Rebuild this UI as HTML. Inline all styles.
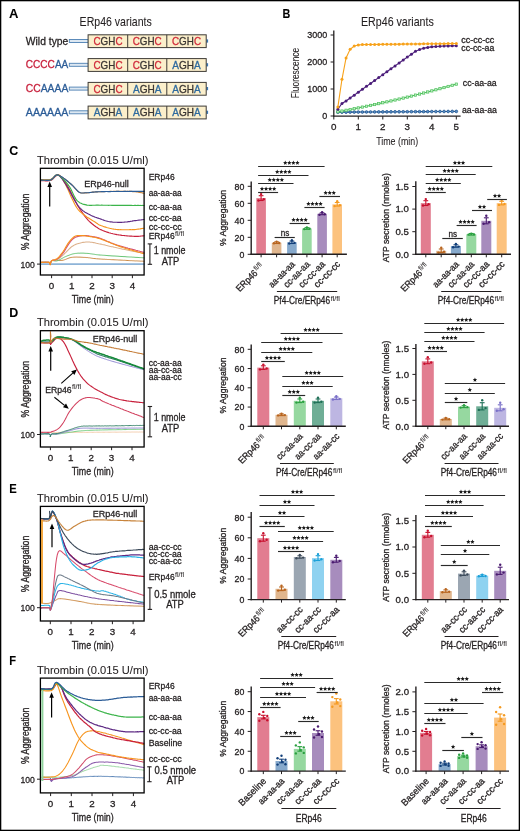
<!DOCTYPE html>
<html><head><meta charset="utf-8"><style>
html,body{margin:0;padding:0;background:#fff;}
svg{display:block;will-change:transform;}
text{font-family:"Liberation Sans",sans-serif;}
</style></head><body>
<svg width="520" height="831" viewBox="0 0 520 831">
<rect x="0.65" y="0.65" width="518.70" height="829.70" fill="#fff" stroke="#000" stroke-width="1.3" />
<text x="9.00" y="18.30" font-size="13" fill="#000" stroke="#000" stroke-width="0.08" text-anchor="start" font-weight="bold" textLength="9.4" lengthAdjust="spacingAndGlyphs" >A</text>
<text x="79.60" y="26.40" font-size="11.9" fill="#231f20" stroke="#231f20" stroke-width="0.08" text-anchor="start" font-weight="normal" textLength="72.2" lengthAdjust="spacingAndGlyphs" >ERp46 variants</text>
<rect x="69.3" y="39.50" width="19" height="3" fill="#dde8f2" stroke="#4d80b3" stroke-width="0.9"/>
<rect x="206.3" y="39.40" width="1.8" height="3.2" fill="#3a78b5"/>
<rect x="88.10" y="34.80" width="118.10" height="12.80" fill="#fbefcb" stroke="#3d3a36" stroke-width="1" />
<line x1="127.70" y1="34.80" x2="127.70" y2="47.60" stroke="#3d3a36" stroke-width="1"/>
<line x1="166.80" y1="34.80" x2="166.80" y2="47.60" stroke="#3d3a36" stroke-width="1"/>
<text x="108.00" y="44.90" font-size="11" text-anchor="middle" textLength="29" lengthAdjust="spacingAndGlyphs"><tspan fill="#d02a3a" stroke="#d02a3a" stroke-width="0.3">C</tspan><tspan fill="#3a3532" stroke="#3a3532" stroke-width="0.3">GH</tspan><tspan fill="#d02a3a" stroke="#d02a3a" stroke-width="0.3">C</tspan></text>
<text x="147.20" y="44.90" font-size="11" text-anchor="middle" textLength="29" lengthAdjust="spacingAndGlyphs"><tspan fill="#d02a3a" stroke="#d02a3a" stroke-width="0.3">C</tspan><tspan fill="#3a3532" stroke="#3a3532" stroke-width="0.3">GH</tspan><tspan fill="#d02a3a" stroke="#d02a3a" stroke-width="0.3">C</tspan></text>
<text x="186.50" y="44.90" font-size="11" text-anchor="middle" textLength="29" lengthAdjust="spacingAndGlyphs"><tspan fill="#d02a3a" stroke="#d02a3a" stroke-width="0.3">C</tspan><tspan fill="#3a3532" stroke="#3a3532" stroke-width="0.3">GH</tspan><tspan fill="#d02a3a" stroke="#d02a3a" stroke-width="0.3">C</tspan></text>
<text x="68.3" y="44.60" font-size="11.5" text-anchor="end" textLength="42.5" lengthAdjust="spacingAndGlyphs"><tspan fill="#231f20" stroke="#231f20" stroke-width="0.3">Wild type</tspan></text>
<rect x="69.3" y="63.30" width="19" height="3" fill="#dde8f2" stroke="#4d80b3" stroke-width="0.9"/>
<rect x="206.3" y="63.20" width="1.8" height="3.2" fill="#3a78b5"/>
<rect x="88.10" y="58.60" width="118.10" height="12.80" fill="#fbefcb" stroke="#3d3a36" stroke-width="1" />
<line x1="127.70" y1="58.60" x2="127.70" y2="71.40" stroke="#3d3a36" stroke-width="1"/>
<line x1="166.80" y1="58.60" x2="166.80" y2="71.40" stroke="#3d3a36" stroke-width="1"/>
<text x="108.00" y="68.70" font-size="11" text-anchor="middle" textLength="29" lengthAdjust="spacingAndGlyphs"><tspan fill="#d02a3a" stroke="#d02a3a" stroke-width="0.3">C</tspan><tspan fill="#3a3532" stroke="#3a3532" stroke-width="0.3">GH</tspan><tspan fill="#d02a3a" stroke="#d02a3a" stroke-width="0.3">C</tspan></text>
<text x="147.20" y="68.70" font-size="11" text-anchor="middle" textLength="29" lengthAdjust="spacingAndGlyphs"><tspan fill="#d02a3a" stroke="#d02a3a" stroke-width="0.3">C</tspan><tspan fill="#3a3532" stroke="#3a3532" stroke-width="0.3">GH</tspan><tspan fill="#d02a3a" stroke="#d02a3a" stroke-width="0.3">C</tspan></text>
<text x="186.50" y="68.70" font-size="11" text-anchor="middle" textLength="28.5" lengthAdjust="spacingAndGlyphs"><tspan fill="#2d6a9f" stroke="#2d6a9f" stroke-width="0.3">A</tspan><tspan fill="#3a3532" stroke="#3a3532" stroke-width="0.3">GH</tspan><tspan fill="#2d6a9f" stroke="#2d6a9f" stroke-width="0.3">A</tspan></text>
<text x="68.3" y="68.40" font-size="11.5" text-anchor="end" textLength="42.5" lengthAdjust="spacingAndGlyphs"><tspan fill="#c8203c" stroke="#c8203c" stroke-width="0.3">CCCC</tspan><tspan fill="#2b5c97" stroke="#2b5c97" stroke-width="0.3">AA</tspan></text>
<rect x="69.3" y="87.10" width="19" height="3" fill="#dde8f2" stroke="#4d80b3" stroke-width="0.9"/>
<rect x="206.3" y="87.00" width="1.8" height="3.2" fill="#3a78b5"/>
<rect x="88.10" y="82.40" width="118.10" height="12.80" fill="#fbefcb" stroke="#3d3a36" stroke-width="1" />
<line x1="127.70" y1="82.40" x2="127.70" y2="95.20" stroke="#3d3a36" stroke-width="1"/>
<line x1="166.80" y1="82.40" x2="166.80" y2="95.20" stroke="#3d3a36" stroke-width="1"/>
<text x="108.00" y="92.50" font-size="11" text-anchor="middle" textLength="29" lengthAdjust="spacingAndGlyphs"><tspan fill="#d02a3a" stroke="#d02a3a" stroke-width="0.3">C</tspan><tspan fill="#3a3532" stroke="#3a3532" stroke-width="0.3">GH</tspan><tspan fill="#d02a3a" stroke="#d02a3a" stroke-width="0.3">C</tspan></text>
<text x="147.20" y="92.50" font-size="11" text-anchor="middle" textLength="28.5" lengthAdjust="spacingAndGlyphs"><tspan fill="#2d6a9f" stroke="#2d6a9f" stroke-width="0.3">A</tspan><tspan fill="#3a3532" stroke="#3a3532" stroke-width="0.3">GH</tspan><tspan fill="#2d6a9f" stroke="#2d6a9f" stroke-width="0.3">A</tspan></text>
<text x="186.50" y="92.50" font-size="11" text-anchor="middle" textLength="28.5" lengthAdjust="spacingAndGlyphs"><tspan fill="#2d6a9f" stroke="#2d6a9f" stroke-width="0.3">A</tspan><tspan fill="#3a3532" stroke="#3a3532" stroke-width="0.3">GH</tspan><tspan fill="#2d6a9f" stroke="#2d6a9f" stroke-width="0.3">A</tspan></text>
<text x="68.3" y="92.20" font-size="11.5" text-anchor="end" textLength="42.5" lengthAdjust="spacingAndGlyphs"><tspan fill="#c8203c" stroke="#c8203c" stroke-width="0.3">CC</tspan><tspan fill="#2b5c97" stroke="#2b5c97" stroke-width="0.3">AAAA</tspan></text>
<rect x="69.3" y="110.80" width="19" height="3" fill="#dde8f2" stroke="#4d80b3" stroke-width="0.9"/>
<rect x="206.3" y="110.70" width="1.8" height="3.2" fill="#3a78b5"/>
<rect x="88.10" y="106.10" width="118.10" height="12.80" fill="#fbefcb" stroke="#3d3a36" stroke-width="1" />
<line x1="127.70" y1="106.10" x2="127.70" y2="118.90" stroke="#3d3a36" stroke-width="1"/>
<line x1="166.80" y1="106.10" x2="166.80" y2="118.90" stroke="#3d3a36" stroke-width="1"/>
<text x="108.00" y="116.20" font-size="11" text-anchor="middle" textLength="28.5" lengthAdjust="spacingAndGlyphs"><tspan fill="#2d6a9f" stroke="#2d6a9f" stroke-width="0.3">A</tspan><tspan fill="#3a3532" stroke="#3a3532" stroke-width="0.3">GH</tspan><tspan fill="#2d6a9f" stroke="#2d6a9f" stroke-width="0.3">A</tspan></text>
<text x="147.20" y="116.20" font-size="11" text-anchor="middle" textLength="28.5" lengthAdjust="spacingAndGlyphs"><tspan fill="#2d6a9f" stroke="#2d6a9f" stroke-width="0.3">A</tspan><tspan fill="#3a3532" stroke="#3a3532" stroke-width="0.3">GH</tspan><tspan fill="#2d6a9f" stroke="#2d6a9f" stroke-width="0.3">A</tspan></text>
<text x="186.50" y="116.20" font-size="11" text-anchor="middle" textLength="28.5" lengthAdjust="spacingAndGlyphs"><tspan fill="#2d6a9f" stroke="#2d6a9f" stroke-width="0.3">A</tspan><tspan fill="#3a3532" stroke="#3a3532" stroke-width="0.3">GH</tspan><tspan fill="#2d6a9f" stroke="#2d6a9f" stroke-width="0.3">A</tspan></text>
<text x="68.3" y="115.90" font-size="11.5" text-anchor="end" textLength="42.5" lengthAdjust="spacingAndGlyphs"><tspan fill="#2b5c97" stroke="#2b5c97" stroke-width="0.3">AAAAAA</tspan></text>
<text x="282.60" y="18.30" font-size="13" fill="#000" stroke="#000" stroke-width="0.08" text-anchor="start" font-weight="bold" textLength="7.8" lengthAdjust="spacingAndGlyphs" >B</text>
<text x="361.00" y="26.40" font-size="11.9" fill="#231f20" stroke="#231f20" stroke-width="0.08" text-anchor="start" font-weight="normal" textLength="72.8" lengthAdjust="spacingAndGlyphs" >ERp46 variants</text>
<line x1="333.80" y1="30.50" x2="333.80" y2="116.60" stroke="#231f20" stroke-width="1.3"/>
<line x1="333.20" y1="116.20" x2="460.60" y2="116.20" stroke="#231f20" stroke-width="1.3"/>
<line x1="330.60" y1="116.00" x2="333.80" y2="116.00" stroke="#231f20" stroke-width="1"/>
<text x="327.30" y="119.30" font-size="9.5" fill="#231f20" stroke="#231f20" stroke-width="0.3" text-anchor="end" font-weight="normal" textLength="5.0" lengthAdjust="spacingAndGlyphs" >0</text>
<line x1="330.60" y1="89.00" x2="333.80" y2="89.00" stroke="#231f20" stroke-width="1"/>
<text x="327.30" y="92.30" font-size="9.5" fill="#231f20" stroke="#231f20" stroke-width="0.3" text-anchor="end" font-weight="normal" textLength="20.0" lengthAdjust="spacingAndGlyphs" >1000</text>
<line x1="330.60" y1="62.00" x2="333.80" y2="62.00" stroke="#231f20" stroke-width="1"/>
<text x="327.30" y="65.30" font-size="9.5" fill="#231f20" stroke="#231f20" stroke-width="0.3" text-anchor="end" font-weight="normal" textLength="20.0" lengthAdjust="spacingAndGlyphs" >2000</text>
<line x1="330.60" y1="35.00" x2="333.80" y2="35.00" stroke="#231f20" stroke-width="1"/>
<text x="327.30" y="38.30" font-size="9.5" fill="#231f20" stroke="#231f20" stroke-width="0.3" text-anchor="end" font-weight="normal" textLength="20.0" lengthAdjust="spacingAndGlyphs" >3000</text>
<line x1="333.80" y1="116.20" x2="333.80" y2="119.50" stroke="#231f20" stroke-width="1"/>
<text x="333.80" y="130.20" font-size="9.8" fill="#231f20" stroke="#231f20" stroke-width="0.3" text-anchor="middle" font-weight="normal" >0</text>
<line x1="358.30" y1="116.20" x2="358.30" y2="119.50" stroke="#231f20" stroke-width="1"/>
<text x="358.30" y="130.20" font-size="9.8" fill="#231f20" stroke="#231f20" stroke-width="0.3" text-anchor="middle" font-weight="normal" >1</text>
<line x1="382.80" y1="116.20" x2="382.80" y2="119.50" stroke="#231f20" stroke-width="1"/>
<text x="382.80" y="130.20" font-size="9.8" fill="#231f20" stroke="#231f20" stroke-width="0.3" text-anchor="middle" font-weight="normal" >2</text>
<line x1="407.30" y1="116.20" x2="407.30" y2="119.50" stroke="#231f20" stroke-width="1"/>
<text x="407.30" y="130.20" font-size="9.8" fill="#231f20" stroke="#231f20" stroke-width="0.3" text-anchor="middle" font-weight="normal" >3</text>
<line x1="431.80" y1="116.20" x2="431.80" y2="119.50" stroke="#231f20" stroke-width="1"/>
<text x="431.80" y="130.20" font-size="9.8" fill="#231f20" stroke="#231f20" stroke-width="0.3" text-anchor="middle" font-weight="normal" >4</text>
<line x1="456.30" y1="116.20" x2="456.30" y2="119.50" stroke="#231f20" stroke-width="1"/>
<text x="456.30" y="130.20" font-size="9.8" fill="#231f20" stroke="#231f20" stroke-width="0.3" text-anchor="middle" font-weight="normal" >5</text>
<text x="397.20" y="144.50" font-size="11.6" fill="#231f20" stroke="#231f20" stroke-width="0.08" text-anchor="middle" font-weight="normal" textLength="42" lengthAdjust="spacingAndGlyphs" >Time (min)</text>
<text x="0" y="0" font-size="11.5" fill="#231f20" stroke="#231f20" stroke-width="0.08" text-anchor="middle" transform="translate(299.1,73) rotate(-90)" textLength="50.3" lengthAdjust="spacingAndGlyphs">Fluorescence</text>
<polyline points="337.88,112.19 341.97,112.17 346.05,112.14 350.13,112.11 354.22,112.08 358.30,112.06 362.38,112.03 366.47,112.00 370.55,111.98 374.63,111.95 378.72,111.92 382.80,111.90 386.88,111.87 390.97,111.84 395.05,111.81 399.13,111.79 403.22,111.76 407.30,111.73 411.38,111.71 415.47,111.68 419.55,111.65 423.63,111.63 427.72,111.60 431.80,111.57 435.88,111.55 439.97,111.52 444.05,111.49 448.13,111.46 452.22,111.44 456.30,111.41" fill="none" stroke="#1f5591" stroke-width="1.1"/>
<circle cx="337.88" cy="112.19" r="1.35" fill="#5d8fc4" stroke="#1f5591" stroke-width="0.8"/>
<circle cx="341.97" cy="112.17" r="1.35" fill="#5d8fc4" stroke="#1f5591" stroke-width="0.8"/>
<circle cx="346.05" cy="112.14" r="1.35" fill="#5d8fc4" stroke="#1f5591" stroke-width="0.8"/>
<circle cx="350.13" cy="112.11" r="1.35" fill="#5d8fc4" stroke="#1f5591" stroke-width="0.8"/>
<circle cx="354.22" cy="112.08" r="1.35" fill="#5d8fc4" stroke="#1f5591" stroke-width="0.8"/>
<circle cx="358.30" cy="112.06" r="1.35" fill="#5d8fc4" stroke="#1f5591" stroke-width="0.8"/>
<circle cx="362.38" cy="112.03" r="1.35" fill="#5d8fc4" stroke="#1f5591" stroke-width="0.8"/>
<circle cx="366.47" cy="112.00" r="1.35" fill="#5d8fc4" stroke="#1f5591" stroke-width="0.8"/>
<circle cx="370.55" cy="111.98" r="1.35" fill="#5d8fc4" stroke="#1f5591" stroke-width="0.8"/>
<circle cx="374.63" cy="111.95" r="1.35" fill="#5d8fc4" stroke="#1f5591" stroke-width="0.8"/>
<circle cx="378.72" cy="111.92" r="1.35" fill="#5d8fc4" stroke="#1f5591" stroke-width="0.8"/>
<circle cx="382.80" cy="111.90" r="1.35" fill="#5d8fc4" stroke="#1f5591" stroke-width="0.8"/>
<circle cx="386.88" cy="111.87" r="1.35" fill="#5d8fc4" stroke="#1f5591" stroke-width="0.8"/>
<circle cx="390.97" cy="111.84" r="1.35" fill="#5d8fc4" stroke="#1f5591" stroke-width="0.8"/>
<circle cx="395.05" cy="111.81" r="1.35" fill="#5d8fc4" stroke="#1f5591" stroke-width="0.8"/>
<circle cx="399.13" cy="111.79" r="1.35" fill="#5d8fc4" stroke="#1f5591" stroke-width="0.8"/>
<circle cx="403.22" cy="111.76" r="1.35" fill="#5d8fc4" stroke="#1f5591" stroke-width="0.8"/>
<circle cx="407.30" cy="111.73" r="1.35" fill="#5d8fc4" stroke="#1f5591" stroke-width="0.8"/>
<circle cx="411.38" cy="111.71" r="1.35" fill="#5d8fc4" stroke="#1f5591" stroke-width="0.8"/>
<circle cx="415.47" cy="111.68" r="1.35" fill="#5d8fc4" stroke="#1f5591" stroke-width="0.8"/>
<circle cx="419.55" cy="111.65" r="1.35" fill="#5d8fc4" stroke="#1f5591" stroke-width="0.8"/>
<circle cx="423.63" cy="111.63" r="1.35" fill="#5d8fc4" stroke="#1f5591" stroke-width="0.8"/>
<circle cx="427.72" cy="111.60" r="1.35" fill="#5d8fc4" stroke="#1f5591" stroke-width="0.8"/>
<circle cx="431.80" cy="111.57" r="1.35" fill="#5d8fc4" stroke="#1f5591" stroke-width="0.8"/>
<circle cx="435.88" cy="111.55" r="1.35" fill="#5d8fc4" stroke="#1f5591" stroke-width="0.8"/>
<circle cx="439.97" cy="111.52" r="1.35" fill="#5d8fc4" stroke="#1f5591" stroke-width="0.8"/>
<circle cx="444.05" cy="111.49" r="1.35" fill="#5d8fc4" stroke="#1f5591" stroke-width="0.8"/>
<circle cx="448.13" cy="111.46" r="1.35" fill="#5d8fc4" stroke="#1f5591" stroke-width="0.8"/>
<circle cx="452.22" cy="111.44" r="1.35" fill="#5d8fc4" stroke="#1f5591" stroke-width="0.8"/>
<circle cx="456.30" cy="111.41" r="1.35" fill="#5d8fc4" stroke="#1f5591" stroke-width="0.8"/>
<polyline points="337.88,111.76 341.97,111.02 346.05,110.26 350.13,109.49 354.22,108.70 358.30,107.90 362.38,107.08 366.47,106.25 370.55,105.40 374.63,104.54 378.72,103.66 382.80,102.77 386.88,101.86 390.97,100.94 395.05,100.00 399.13,99.05 403.22,98.08 407.30,97.10 411.38,96.10 415.47,95.09 419.55,94.06 423.63,93.02 427.72,91.96 431.80,90.89 435.88,89.80 439.97,88.70 444.05,87.58 448.13,86.45 452.22,85.30 456.30,84.14" fill="none" stroke="#4cc15a" stroke-width="1.1"/>
<rect x="336.73" y="110.61" width="2.3" height="2.3" fill="#c4ecca" stroke="#4cc15a" stroke-width="0.7"/>
<rect x="340.82" y="109.87" width="2.3" height="2.3" fill="#c4ecca" stroke="#4cc15a" stroke-width="0.7"/>
<rect x="344.90" y="109.11" width="2.3" height="2.3" fill="#c4ecca" stroke="#4cc15a" stroke-width="0.7"/>
<rect x="348.98" y="108.34" width="2.3" height="2.3" fill="#c4ecca" stroke="#4cc15a" stroke-width="0.7"/>
<rect x="353.07" y="107.55" width="2.3" height="2.3" fill="#c4ecca" stroke="#4cc15a" stroke-width="0.7"/>
<rect x="357.15" y="106.75" width="2.3" height="2.3" fill="#c4ecca" stroke="#4cc15a" stroke-width="0.7"/>
<rect x="361.23" y="105.93" width="2.3" height="2.3" fill="#c4ecca" stroke="#4cc15a" stroke-width="0.7"/>
<rect x="365.32" y="105.10" width="2.3" height="2.3" fill="#c4ecca" stroke="#4cc15a" stroke-width="0.7"/>
<rect x="369.40" y="104.25" width="2.3" height="2.3" fill="#c4ecca" stroke="#4cc15a" stroke-width="0.7"/>
<rect x="373.48" y="103.39" width="2.3" height="2.3" fill="#c4ecca" stroke="#4cc15a" stroke-width="0.7"/>
<rect x="377.57" y="102.51" width="2.3" height="2.3" fill="#c4ecca" stroke="#4cc15a" stroke-width="0.7"/>
<rect x="381.65" y="101.62" width="2.3" height="2.3" fill="#c4ecca" stroke="#4cc15a" stroke-width="0.7"/>
<rect x="385.73" y="100.71" width="2.3" height="2.3" fill="#c4ecca" stroke="#4cc15a" stroke-width="0.7"/>
<rect x="389.82" y="99.79" width="2.3" height="2.3" fill="#c4ecca" stroke="#4cc15a" stroke-width="0.7"/>
<rect x="393.90" y="98.85" width="2.3" height="2.3" fill="#c4ecca" stroke="#4cc15a" stroke-width="0.7"/>
<rect x="397.98" y="97.90" width="2.3" height="2.3" fill="#c4ecca" stroke="#4cc15a" stroke-width="0.7"/>
<rect x="402.07" y="96.93" width="2.3" height="2.3" fill="#c4ecca" stroke="#4cc15a" stroke-width="0.7"/>
<rect x="406.15" y="95.95" width="2.3" height="2.3" fill="#c4ecca" stroke="#4cc15a" stroke-width="0.7"/>
<rect x="410.23" y="94.95" width="2.3" height="2.3" fill="#c4ecca" stroke="#4cc15a" stroke-width="0.7"/>
<rect x="414.32" y="93.94" width="2.3" height="2.3" fill="#c4ecca" stroke="#4cc15a" stroke-width="0.7"/>
<rect x="418.40" y="92.91" width="2.3" height="2.3" fill="#c4ecca" stroke="#4cc15a" stroke-width="0.7"/>
<rect x="422.48" y="91.87" width="2.3" height="2.3" fill="#c4ecca" stroke="#4cc15a" stroke-width="0.7"/>
<rect x="426.57" y="90.81" width="2.3" height="2.3" fill="#c4ecca" stroke="#4cc15a" stroke-width="0.7"/>
<rect x="430.65" y="89.74" width="2.3" height="2.3" fill="#c4ecca" stroke="#4cc15a" stroke-width="0.7"/>
<rect x="434.73" y="88.65" width="2.3" height="2.3" fill="#c4ecca" stroke="#4cc15a" stroke-width="0.7"/>
<rect x="438.82" y="87.55" width="2.3" height="2.3" fill="#c4ecca" stroke="#4cc15a" stroke-width="0.7"/>
<rect x="442.90" y="86.43" width="2.3" height="2.3" fill="#c4ecca" stroke="#4cc15a" stroke-width="0.7"/>
<rect x="446.98" y="85.30" width="2.3" height="2.3" fill="#c4ecca" stroke="#4cc15a" stroke-width="0.7"/>
<rect x="451.07" y="84.15" width="2.3" height="2.3" fill="#c4ecca" stroke="#4cc15a" stroke-width="0.7"/>
<rect x="455.15" y="82.99" width="2.3" height="2.3" fill="#c4ecca" stroke="#4cc15a" stroke-width="0.7"/>
<polyline points="337.88,109.20 341.97,103.50 346.05,100.99 350.13,98.06 354.22,95.14 358.30,92.21 362.38,89.29 366.47,86.36 370.55,83.44 374.63,80.51 378.72,77.59 382.80,74.66 386.88,71.74 390.97,68.81 395.05,65.89 399.13,62.96 403.22,60.04 407.30,57.11 411.38,54.19 415.47,51.37 419.55,49.50 423.63,48.25 427.72,47.40 431.80,46.84 435.88,46.46 439.97,46.21 444.05,46.04 448.13,45.92 452.22,45.85 456.30,45.80" fill="none" stroke="#4b1d7a" stroke-width="1.1"/>
<circle cx="337.88" cy="109.20" r="1.5" fill="#4b1d7a"/>
<circle cx="341.97" cy="103.50" r="1.5" fill="#4b1d7a"/>
<circle cx="346.05" cy="100.99" r="1.5" fill="#4b1d7a"/>
<circle cx="350.13" cy="98.06" r="1.5" fill="#4b1d7a"/>
<circle cx="354.22" cy="95.14" r="1.5" fill="#4b1d7a"/>
<circle cx="358.30" cy="92.21" r="1.5" fill="#4b1d7a"/>
<circle cx="362.38" cy="89.29" r="1.5" fill="#4b1d7a"/>
<circle cx="366.47" cy="86.36" r="1.5" fill="#4b1d7a"/>
<circle cx="370.55" cy="83.44" r="1.5" fill="#4b1d7a"/>
<circle cx="374.63" cy="80.51" r="1.5" fill="#4b1d7a"/>
<circle cx="378.72" cy="77.59" r="1.5" fill="#4b1d7a"/>
<circle cx="382.80" cy="74.66" r="1.5" fill="#4b1d7a"/>
<circle cx="386.88" cy="71.74" r="1.5" fill="#4b1d7a"/>
<circle cx="390.97" cy="68.81" r="1.5" fill="#4b1d7a"/>
<circle cx="395.05" cy="65.89" r="1.5" fill="#4b1d7a"/>
<circle cx="399.13" cy="62.96" r="1.5" fill="#4b1d7a"/>
<circle cx="403.22" cy="60.04" r="1.5" fill="#4b1d7a"/>
<circle cx="407.30" cy="57.11" r="1.5" fill="#4b1d7a"/>
<circle cx="411.38" cy="54.19" r="1.5" fill="#4b1d7a"/>
<circle cx="415.47" cy="51.37" r="1.5" fill="#4b1d7a"/>
<circle cx="419.55" cy="49.50" r="1.5" fill="#4b1d7a"/>
<circle cx="423.63" cy="48.25" r="1.5" fill="#4b1d7a"/>
<circle cx="427.72" cy="47.40" r="1.5" fill="#4b1d7a"/>
<circle cx="431.80" cy="46.84" r="1.5" fill="#4b1d7a"/>
<circle cx="435.88" cy="46.46" r="1.5" fill="#4b1d7a"/>
<circle cx="439.97" cy="46.21" r="1.5" fill="#4b1d7a"/>
<circle cx="444.05" cy="46.04" r="1.5" fill="#4b1d7a"/>
<circle cx="448.13" cy="45.92" r="1.5" fill="#4b1d7a"/>
<circle cx="452.22" cy="45.85" r="1.5" fill="#4b1d7a"/>
<circle cx="456.30" cy="45.80" r="1.5" fill="#4b1d7a"/>
<polyline points="337.88,106.90 341.97,79.28 346.05,57.95 350.13,49.31 354.22,46.07 358.30,44.99 362.38,44.62 366.47,44.57 370.55,44.52 374.63,44.47 378.72,44.42 382.80,44.37 386.88,44.32 390.97,44.27 395.05,44.22 399.13,44.17 403.22,44.12 407.30,44.07 411.38,44.02 415.47,43.97 419.55,43.92 423.63,43.87 427.72,43.82 431.80,43.78 435.88,43.73 439.97,43.68 444.05,43.63 448.13,43.58 452.22,43.53 456.30,43.48" fill="none" stroke="#f7a21b" stroke-width="1.1"/>
<circle cx="337.88" cy="106.90" r="1.5" fill="#f7a21b"/>
<circle cx="341.97" cy="79.28" r="1.5" fill="#f7a21b"/>
<circle cx="346.05" cy="57.95" r="1.5" fill="#f7a21b"/>
<circle cx="350.13" cy="49.31" r="1.5" fill="#f7a21b"/>
<circle cx="354.22" cy="46.07" r="1.5" fill="#f7a21b"/>
<circle cx="358.30" cy="44.99" r="1.5" fill="#f7a21b"/>
<circle cx="362.38" cy="44.62" r="1.5" fill="#f7a21b"/>
<circle cx="366.47" cy="44.57" r="1.5" fill="#f7a21b"/>
<circle cx="370.55" cy="44.52" r="1.5" fill="#f7a21b"/>
<circle cx="374.63" cy="44.47" r="1.5" fill="#f7a21b"/>
<circle cx="378.72" cy="44.42" r="1.5" fill="#f7a21b"/>
<circle cx="382.80" cy="44.37" r="1.5" fill="#f7a21b"/>
<circle cx="386.88" cy="44.32" r="1.5" fill="#f7a21b"/>
<circle cx="390.97" cy="44.27" r="1.5" fill="#f7a21b"/>
<circle cx="395.05" cy="44.22" r="1.5" fill="#f7a21b"/>
<circle cx="399.13" cy="44.17" r="1.5" fill="#f7a21b"/>
<circle cx="403.22" cy="44.12" r="1.5" fill="#f7a21b"/>
<circle cx="407.30" cy="44.07" r="1.5" fill="#f7a21b"/>
<circle cx="411.38" cy="44.02" r="1.5" fill="#f7a21b"/>
<circle cx="415.47" cy="43.97" r="1.5" fill="#f7a21b"/>
<circle cx="419.55" cy="43.92" r="1.5" fill="#f7a21b"/>
<circle cx="423.63" cy="43.87" r="1.5" fill="#f7a21b"/>
<circle cx="427.72" cy="43.82" r="1.5" fill="#f7a21b"/>
<circle cx="431.80" cy="43.78" r="1.5" fill="#f7a21b"/>
<circle cx="435.88" cy="43.73" r="1.5" fill="#f7a21b"/>
<circle cx="439.97" cy="43.68" r="1.5" fill="#f7a21b"/>
<circle cx="444.05" cy="43.63" r="1.5" fill="#f7a21b"/>
<circle cx="448.13" cy="43.58" r="1.5" fill="#f7a21b"/>
<circle cx="452.22" cy="43.53" r="1.5" fill="#f7a21b"/>
<circle cx="456.30" cy="43.48" r="1.5" fill="#f7a21b"/>
<text x="461.30" y="43.20" font-size="9.2" fill="#231f20" stroke="#231f20" stroke-width="0.3" text-anchor="start" font-weight="normal" textLength="33" lengthAdjust="spacingAndGlyphs" >cc-cc-cc</text>
<text x="461.30" y="51.30" font-size="9.2" fill="#231f20" stroke="#231f20" stroke-width="0.3" text-anchor="start" font-weight="normal" textLength="33" lengthAdjust="spacingAndGlyphs" >cc-cc-aa</text>
<text x="462.80" y="85.50" font-size="9.5" fill="#231f20" stroke="#231f20" stroke-width="0.3" text-anchor="start" font-weight="normal" textLength="33.8" lengthAdjust="spacingAndGlyphs" >cc-aa-aa</text>
<text x="462.00" y="113.00" font-size="9.5" fill="#231f20" stroke="#231f20" stroke-width="0.3" text-anchor="start" font-weight="normal" textLength="34.8" lengthAdjust="spacingAndGlyphs" >aa-aa-aa</text>
<text x="9.30" y="154.90" font-size="13.2" fill="#000" stroke="#000" stroke-width="0.08" text-anchor="start" font-weight="bold" textLength="9.0" lengthAdjust="spacingAndGlyphs" >C</text>
<text x="36.90" y="163.90" font-size="11.3" fill="#231f20" stroke="#231f20" stroke-width="0.08" text-anchor="start" font-weight="normal" textLength="111.5" lengthAdjust="spacingAndGlyphs" >Thrombin (0.015 U/ml)</text>
<svg x="40.4" y="168.3" width="103.69999999999999" height="106.69999999999999" viewBox="40.4 168.3 103.69999999999999 106.69999999999999" overflow="hidden">
<path d="M40.00,264.10 L40.27,264.10 L40.25,264.10 L40.05,264.10 L39.81,264.10 L39.65,264.10 L39.69,264.10 L40.05,264.10 L40.85,264.10 L42.23,264.10 L44.29,264.10 L47.18,264.10 L51.00,264.10 L51.57,264.10 L52.16,264.10 L52.79,264.10 L53.44,264.10 L54.12,264.10 L54.82,264.10 L55.55,264.10 L56.30,264.10 L57.08,264.10 L57.88,264.10 L58.70,264.10 L59.55,264.10 L60.42,264.10 L61.31,264.10 L62.21,264.10 L63.14,264.10 L64.09,264.10 L65.05,264.10 L66.04,264.10 L67.04,264.10 L68.05,264.10 L69.09,264.10 L70.13,264.10 L71.20,264.10 L72.27,264.10 L73.36,264.10 L74.46,264.10 L75.58,264.10 L76.70,264.10 L77.84,264.10 L78.99,264.10 L80.14,264.10 L81.31,264.10 L82.48,264.10 L83.66,264.10 L84.85,264.10 L86.04,264.10 L87.24,264.10 L88.44,264.10 L89.65,264.10 L90.87,264.10 L92.08,264.10 L93.30,264.10 L94.52,264.10 L95.74,264.10 L96.97,264.10 L98.19,264.10 L99.41,264.10 L100.63,264.10 L101.85,264.10 L103.06,264.10 L104.28,264.10 L105.49,264.10 L106.69,264.10 L107.89,264.10 L109.08,264.10 L110.27,264.10 L111.45,264.10 L112.63,264.10 L113.79,264.10 L114.95,264.10 L116.09,264.10 L117.23,264.10 L118.36,264.10 L119.47,264.10 L120.57,264.10 L121.66,264.10 L122.74,264.10 L123.80,264.10 L124.85,264.10 L125.88,264.10 L126.90,264.10 L127.90,264.10 L128.88,264.10 L129.85,264.10 L130.80,264.10 L131.73,264.10 L132.63,264.10 L133.52,264.10 L134.39,264.10 L135.24,264.10 L136.06,264.10 L136.86,264.10 L137.64,264.10 L138.40,264.10 L139.13,264.10 L139.83,264.10 L140.51,264.10 L141.16,264.10 L141.79,264.10 L142.38,264.10 L142.95,264.10 L143.49,264.10 L144.00,264.10" fill="none" stroke="#8eb4d8" stroke-width="1.71" stroke-linejoin="round" stroke-linecap="round" opacity="1"/>
<path d="M40.00,262.38 L40.58,262.36 L41.38,262.38 L42.34,262.29 L43.41,262.30 L44.54,262.25 L45.67,262.20 L46.75,262.24 L47.74,262.21 L48.57,262.30 L49.20,262.36 L50.19,263.70 L50.20,264.59 L50.55,262.89 L51.50,260.76 L52.21,260.51 L53.10,260.42 L54.12,260.42 L55.20,260.40 L56.28,260.41 L57.30,260.45 L58.23,260.34 L59.11,260.45 L59.99,260.44 L60.91,260.43 L61.94,260.35 L63.10,260.18 L63.86,260.04 L64.65,259.71 L65.46,259.44 L66.31,259.10 L67.19,258.71 L68.12,258.37 L69.09,257.99 L70.10,257.68 L71.17,257.45 L72.30,257.32 L73.15,257.21 L74.04,257.14 L74.97,257.12 L75.93,257.09 L76.92,257.07 L77.93,257.13 L78.96,257.14 L80.00,257.14 L81.05,257.21 L82.10,257.26 L83.14,257.35 L84.18,257.40 L85.20,257.42 L86.20,257.55 L87.12,257.53 L87.91,257.63 L88.62,257.75 L89.27,257.78 L89.90,257.91 L90.54,257.97 L91.22,258.13 L91.98,258.26 L92.85,258.36 L93.86,258.51 L95.05,258.58 L96.44,258.75 L98.08,258.87 L100.00,259.01 L100.67,259.04 L101.38,259.12 L102.15,259.18 L102.96,259.18 L103.80,259.25 L104.69,259.24 L105.62,259.36 L106.58,259.40 L107.57,259.49 L108.59,259.53 L109.64,259.54 L110.72,259.60 L111.81,259.69 L112.93,259.69 L114.06,259.79 L115.21,259.82 L116.37,259.88 L117.54,259.93 L118.72,260.06 L119.90,260.06 L121.08,260.13 L122.27,260.20 L123.45,260.31 L124.63,260.29 L125.81,260.39 L126.97,260.45 L128.12,260.54 L129.25,260.59 L130.37,260.65 L131.47,260.65 L132.55,260.72 L133.61,260.77 L134.63,260.87 L135.63,260.92 L136.60,260.89 L137.53,260.94 L138.43,260.99 L139.29,261.04 L140.10,261.10 L140.88,261.15 L141.60,261.15 L142.28,261.16 L142.91,261.24 L143.48,261.26 L144.00,261.30" fill="none" stroke="#c8843c" stroke-width="0.95" stroke-linejoin="round" stroke-linecap="round" opacity="1"/>
<path d="M40.00,262.41 L40.58,262.43 L41.38,262.38 L42.34,262.33 L43.41,262.31 L44.54,262.28 L45.67,262.20 L46.75,262.28 L47.74,262.29 L48.57,262.35 L49.20,262.43 L50.19,263.73 L50.20,264.59 L50.55,262.80 L51.50,260.81 L52.18,260.59 L53.01,260.63 L53.98,260.79 L55.03,260.93 L56.15,260.98 L57.30,260.76 L58.09,260.47 L58.92,260.11 L59.79,259.66 L60.68,259.19 L61.60,258.63 L62.53,258.18 L63.48,257.63 L64.44,257.10 L65.40,256.68 L66.26,256.32 L67.13,255.96 L68.00,255.57 L68.89,255.29 L69.78,254.96 L70.69,254.59 L71.63,254.29 L72.59,253.99 L73.58,253.75 L74.60,253.58 L75.48,253.45 L76.37,253.40 L77.28,253.25 L78.21,253.17 L79.15,253.22 L80.11,253.15 L81.09,253.11 L82.08,253.15 L83.09,253.12 L84.11,253.20 L85.15,253.29 L86.20,253.33 L87.10,253.38 L87.98,253.42 L88.86,253.52 L89.74,253.61 L90.63,253.79 L91.53,253.90 L92.45,254.06 L93.40,254.16 L94.38,254.30 L95.40,254.50 L96.46,254.66 L97.58,254.78 L98.76,254.91 L100.00,255.03 L100.79,255.09 L101.62,255.11 L102.47,255.21 L103.34,255.26 L104.24,255.30 L105.15,255.37 L106.09,255.46 L107.05,255.52 L108.01,255.63 L109.00,255.72 L109.99,255.74 L110.99,255.85 L112.00,255.92 L113.01,255.98 L114.02,255.99 L115.04,256.04 L116.05,256.10 L117.07,256.16 L118.07,256.23 L119.07,256.33 L120.06,256.42 L121.04,256.47 L122.00,256.50 L122.98,256.58 L123.99,256.65 L125.03,256.65 L126.10,256.77 L127.19,256.86 L128.29,256.91 L129.40,256.98 L130.52,257.02 L131.63,257.05 L132.74,257.18 L133.83,257.20 L134.91,257.30 L135.96,257.38 L136.99,257.38 L137.98,257.44 L138.92,257.55 L139.83,257.58 L140.68,257.58 L141.48,257.62 L142.22,257.66 L142.88,257.77 L143.48,257.80 L144.00,257.80" fill="none" stroke="#5cc06a" stroke-width="0.95" stroke-linejoin="round" stroke-linecap="round" opacity="1"/>
<path d="M40.00,262.37 L40.58,262.42 L41.38,262.41 L42.34,262.35 L43.41,262.28 L44.54,262.27 L45.67,262.21 L46.75,262.19 L47.74,262.30 L48.57,262.33 L49.20,262.40 L50.19,263.78 L50.20,264.59 L50.55,262.95 L51.50,260.83 L52.21,260.45 L53.10,260.28 L54.12,260.17 L55.20,260.05 L56.28,259.88 L57.30,259.48 L58.23,258.98 L59.11,258.36 L59.99,257.75 L60.91,256.92 L61.94,256.03 L63.10,255.01 L63.89,254.32 L64.74,253.44 L65.64,252.57 L66.59,251.57 L67.56,250.58 L68.54,249.60 L69.51,248.61 L70.48,247.76 L71.41,246.94 L72.30,246.25 L73.24,245.70 L74.15,245.11 L75.04,244.68 L75.92,244.30 L76.78,243.95 L77.66,243.63 L78.55,243.38 L79.46,243.14 L80.40,242.93 L81.27,242.66 L82.15,242.54 L83.04,242.36 L83.94,242.24 L84.86,242.19 L85.78,242.10 L86.72,242.07 L87.67,242.07 L88.63,242.10 L89.60,242.09 L90.46,242.17 L91.29,242.25 L92.09,242.35 L92.89,242.50 L93.71,242.63 L94.56,242.81 L95.46,243.00 L96.44,243.26 L97.51,243.48 L98.69,243.76 L100.00,244.04 L100.74,244.13 L101.51,244.33 L102.32,244.54 L103.15,244.72 L104.01,244.85 L104.90,245.05 L105.81,245.28 L106.74,245.46 L107.69,245.70 L108.66,245.90 L109.64,246.19 L110.64,246.43 L111.66,246.67 L112.68,246.83 L113.71,247.12 L114.75,247.35 L115.80,247.54 L116.85,247.84 L117.90,248.09 L118.95,248.25 L120.00,248.54 L120.90,248.68 L121.86,248.90 L122.85,249.16 L123.87,249.36 L124.93,249.52 L126.01,249.77 L127.11,250.01 L128.22,250.22 L129.34,250.44 L130.46,250.69 L131.59,250.96 L132.70,251.12 L133.80,251.40 L134.88,251.61 L135.94,251.79 L136.96,252.03 L137.96,252.26 L138.91,252.45 L139.82,252.59 L140.67,252.86 L141.47,253.00 L142.21,253.17 L142.88,253.23 L143.48,253.37 L144.00,253.50" fill="none" stroke="#dcb08a" stroke-width="1.045" stroke-linejoin="round" stroke-linecap="round" opacity="1"/>
<path d="M40.00,262.36 L40.58,262.42 L41.38,262.34 L42.34,262.30 L43.41,262.29 L44.54,262.30 L45.67,262.27 L46.75,262.22 L47.74,262.23 L48.57,262.35 L49.20,262.41 L50.19,263.76 L50.20,264.56 L50.55,262.91 L51.50,260.82 L52.21,260.43 L53.10,260.17 L54.12,260.08 L55.20,259.85 L56.28,259.55 L57.30,258.96 L58.27,258.31 L59.24,257.38 L60.21,256.48 L61.17,255.37 L62.14,254.21 L63.10,253.01 L64.05,251.68 L65.00,250.10 L65.95,248.48 L66.90,246.91 L67.85,245.35 L68.80,243.96 L69.72,242.71 L70.60,241.50 L71.48,240.39 L72.41,239.37 L73.44,238.46 L74.60,237.72 L75.39,237.29 L76.24,236.96 L77.14,236.64 L78.09,236.40 L79.06,236.15 L80.04,236.00 L81.01,235.83 L81.98,235.78 L82.91,235.67 L83.80,235.57 L84.75,235.56 L85.67,235.62 L86.58,235.61 L87.48,235.78 L88.36,235.87 L89.24,236.02 L90.12,236.21 L91.01,236.33 L91.90,236.50 L92.75,236.65 L93.53,236.79 L94.27,236.84 L95.01,237.00 L95.79,237.13 L96.64,237.32 L97.60,237.54 L98.71,237.87 L100.00,238.26 L100.71,238.51 L101.44,238.78 L102.20,239.15 L102.99,239.42 L103.80,239.75 L104.64,240.10 L105.50,240.55 L106.40,240.94 L107.32,241.32 L108.27,241.68 L109.25,242.09 L110.26,242.51 L111.31,242.95 L112.38,243.34 L113.48,243.78 L114.62,244.18 L115.79,244.65 L117.00,245.05 L117.81,245.26 L118.68,245.50 L119.60,245.85 L120.57,246.07 L121.57,246.36 L122.61,246.63 L123.68,246.96 L124.77,247.28 L125.88,247.59 L127.01,247.87 L128.15,248.20 L129.29,248.46 L130.43,248.79 L131.56,249.08 L132.69,249.41 L133.79,249.67 L134.88,249.95 L135.94,250.26 L136.97,250.52 L137.96,250.81 L138.91,251.06 L139.82,251.32 L140.67,251.53 L141.47,251.75 L142.21,251.96 L142.88,252.09 L143.48,252.24 L144.00,252.40" fill="none" stroke="#d2507a" stroke-width="1.14" stroke-linejoin="round" stroke-linecap="round" opacity="1"/>
<path d="M40.00,262.45 L40.58,262.36 L41.38,262.38 L42.34,262.34 L43.41,262.24 L44.54,262.28 L45.67,262.26 L46.75,262.24 L47.74,262.27 L48.57,262.33 L49.20,262.37 L50.19,263.85 L50.20,264.80 L50.55,263.13 L51.50,260.83 L52.21,260.40 L53.10,260.09 L54.12,259.88 L55.20,259.57 L56.28,259.15 L57.30,258.47 L58.27,257.59 L59.24,256.56 L60.21,255.42 L61.17,254.13 L62.14,252.88 L63.10,251.51 L64.05,250.07 L65.00,248.48 L65.95,246.84 L66.90,245.20 L67.85,243.61 L68.80,242.33 L69.76,241.10 L70.73,239.93 L71.69,238.88 L72.66,237.96 L73.63,237.10 L74.60,236.52 L75.57,236.03 L76.53,235.75 L77.50,235.64 L78.47,235.64 L79.43,235.59 L80.40,235.62 L81.27,235.61 L82.04,235.55 L82.80,235.56 L83.67,235.64 L84.77,235.80 L86.20,236.03 L86.92,236.13 L87.70,236.24 L88.52,236.31 L89.38,236.45 L90.28,236.60 L91.23,236.80 L92.21,236.92 L93.23,237.14 L94.29,237.29 L95.37,237.53 L96.49,237.81 L97.63,238.14 L98.80,238.46 L100.00,238.82 L100.81,239.04 L101.65,239.35 L102.50,239.64 L103.36,239.96 L104.25,240.27 L105.15,240.70 L106.06,240.99 L106.99,241.44 L107.93,241.83 L108.88,242.13 L109.85,242.57 L110.82,243.01 L111.81,243.43 L112.81,243.78 L113.81,244.17 L114.83,244.57 L115.85,245.04 L116.88,245.36 L117.91,245.77 L118.95,246.10 L120.00,246.50 L120.90,246.85 L121.86,247.08 L122.85,247.46 L123.87,247.76 L124.93,248.12 L126.01,248.44 L127.11,248.73 L128.22,249.13 L129.34,249.43 L130.46,249.72 L131.59,250.05 L132.70,250.42 L133.80,250.74 L134.88,251.04 L135.94,251.33 L136.96,251.64 L137.96,251.93 L138.91,252.25 L139.82,252.43 L140.67,252.75 L141.47,252.99 L142.21,253.14 L142.88,253.41 L143.48,253.57 L144.00,253.70" fill="none" stroke="#f7941d" stroke-width="1.14" stroke-linejoin="round" stroke-linecap="round" opacity="1"/>
<path d="M40.00,180.54 L40.57,180.50 L41.31,180.56 L42.20,180.62 L43.19,180.76 L44.26,180.79 L45.36,180.82 L46.48,180.86 L47.58,180.84 L48.62,180.76 L49.57,180.65 L50.40,180.53 L51.53,179.97 L52.56,179.28 L53.49,178.33 L54.36,177.41 L55.17,176.59 L55.94,175.88 L56.70,175.49 L57.65,175.34 L58.45,175.38 L59.20,175.70 L60.02,176.30 L61.00,177.24 L61.83,178.11 L62.73,179.12 L63.69,180.34 L64.69,181.62 L65.70,183.12 L66.71,184.62 L67.70,186.22 L68.70,187.93 L69.72,189.81 L70.76,191.81 L71.79,193.95 L72.79,195.89 L73.73,197.81 L74.60,199.48 L75.59,201.42 L76.38,203.08 L77.13,204.59 L78.02,206.10 L79.20,208.01 L79.93,209.09 L80.72,210.31 L81.58,211.57 L82.48,212.86 L83.42,214.21 L84.40,215.55 L85.40,216.94 L86.42,218.18 L87.46,219.36 L88.50,220.54 L89.37,221.42 L90.25,222.21 L91.14,222.99 L92.04,223.79 L92.96,224.54 L93.89,225.30 L94.85,225.99 L95.83,226.69 L96.83,227.35 L97.86,228.01 L98.91,228.65 L100.00,229.22 L100.84,229.61 L101.68,230.01 L102.55,230.41 L103.43,230.77 L104.32,231.12 L105.22,231.43 L106.14,231.78 L107.08,232.16 L108.02,232.38 L108.98,232.70 L109.95,232.99 L110.94,233.28 L111.93,233.47 L112.94,233.72 L113.97,233.95 L115.00,234.19 L115.90,234.38 L116.82,234.60 L117.78,234.75 L118.77,234.91 L119.77,234.98 L120.79,235.12 L121.83,235.32 L122.86,235.46 L123.90,235.54 L124.94,235.66 L125.96,235.70 L126.97,235.83 L127.97,235.97 L128.94,236.04 L129.89,236.11 L130.80,236.19 L131.68,236.18 L132.51,236.22 L133.30,236.27 L134.60,236.35 L135.85,236.38 L137.06,236.38 L138.20,236.31 L139.28,236.23 L140.29,236.17 L141.22,236.05 L142.06,235.98 L142.81,235.85 L143.46,235.86 L144.00,235.80" fill="none" stroke="#c8203c" stroke-width="1.14" stroke-linejoin="round" stroke-linecap="round" opacity="1"/>
<path d="M40.00,179.47 L40.57,179.56 L41.31,179.57 L42.20,179.60 L43.19,179.65 L44.26,179.73 L45.36,179.82 L46.48,179.85 L47.58,179.79 L48.62,179.73 L49.57,179.67 L50.40,179.51 L51.53,179.03 L52.56,178.33 L53.50,177.57 L54.37,176.68 L55.18,175.95 L55.95,175.35 L56.70,175.04 L57.64,174.83 L58.42,174.88 L59.15,175.14 L59.91,175.72 L60.80,176.68 L61.66,177.88 L62.58,179.28 L63.54,180.89 L64.53,182.67 L65.53,184.60 L66.50,186.52 L67.46,188.47 L68.43,190.58 L69.39,192.83 L70.36,195.08 L71.33,197.16 L72.30,199.16 L73.24,201.08 L74.15,202.93 L75.06,204.72 L76.00,206.37 L77.00,208.03 L78.10,209.52 L78.89,210.43 L79.72,211.27 L80.59,212.17 L81.48,212.89 L82.40,213.69 L83.33,214.36 L84.28,215.07 L85.24,215.82 L86.20,216.48 L87.09,217.18 L88.03,217.76 L89.00,218.35 L89.98,218.96 L90.97,219.57 L91.94,220.17 L92.88,220.75 L93.79,221.20 L94.63,221.72 L95.40,222.17 L96.42,222.93 L97.16,223.42 L97.79,223.93 L98.49,224.41 L99.43,224.94 L100.80,225.54 L101.48,225.78 L102.22,226.03 L103.01,226.33 L103.85,226.61 L104.73,226.84 L105.65,227.12 L106.60,227.49 L107.59,227.75 L108.60,227.96 L109.64,228.29 L110.69,228.51 L111.76,228.74 L112.83,228.95 L113.92,229.12 L115.00,229.25 L115.88,229.38 L116.79,229.47 L117.74,229.60 L118.72,229.59 L119.72,229.72 L120.74,229.68 L121.77,229.73 L122.81,229.79 L123.85,229.80 L124.89,229.77 L125.92,229.73 L126.94,229.76 L127.94,229.74 L128.92,229.77 L129.87,229.68 L130.79,229.67 L131.67,229.70 L132.51,229.58 L133.30,229.59 L134.60,229.56 L135.85,229.46 L137.06,229.26 L138.20,229.11 L139.28,228.96 L140.29,228.88 L141.22,228.65 L142.06,228.55 L142.81,228.43 L143.46,228.27 L144.00,228.20" fill="none" stroke="#f7941d" stroke-width="1.14" stroke-linejoin="round" stroke-linecap="round" opacity="1"/>
<path d="M40.00,179.98 L40.57,180.06 L41.31,180.08 L42.20,180.11 L43.19,180.23 L44.26,180.26 L45.36,180.32 L46.48,180.32 L47.58,180.39 L48.62,180.34 L49.57,180.20 L50.40,180.04 L51.53,179.44 L52.56,178.69 L53.49,177.81 L54.36,176.92 L55.17,176.07 L55.94,175.35 L56.70,174.98 L57.65,174.89 L58.45,175.09 L59.20,175.63 L60.02,176.36 L61.00,177.53 L61.83,178.54 L62.73,179.79 L63.69,181.19 L64.69,182.70 L65.70,184.29 L66.71,185.94 L67.70,187.59 L68.68,189.34 L69.66,191.10 L70.64,193.02 L71.63,194.99 L72.62,196.83 L73.61,198.60 L74.60,200.26 L75.56,201.83 L76.50,203.27 L77.43,204.71 L78.37,206.02 L79.35,207.27 L80.39,208.37 L81.50,209.46 L82.33,210.19 L83.21,210.91 L84.12,211.58 L85.05,212.17 L86.01,212.73 L86.97,213.30 L87.94,213.85 L88.91,214.36 L89.86,214.85 L90.80,215.33 L91.72,215.76 L92.64,216.12 L93.56,216.57 L94.47,216.87 L95.39,217.24 L96.30,217.54 L97.22,217.89 L98.14,218.15 L99.07,218.46 L100.00,218.78 L100.92,219.09 L101.82,219.49 L102.72,219.79 L103.61,220.10 L104.51,220.42 L105.43,220.78 L106.38,221.02 L107.37,221.25 L108.41,221.54 L109.50,221.71 L110.32,221.87 L111.17,221.89 L112.05,222.02 L112.96,222.14 L113.88,222.21 L114.83,222.28 L115.78,222.24 L116.74,222.30 L117.71,222.31 L118.68,222.33 L119.65,222.41 L120.61,222.36 L121.56,222.37 L122.50,222.29 L123.44,222.28 L124.40,222.17 L125.37,222.05 L126.35,221.99 L127.33,221.88 L128.31,221.66 L129.28,221.57 L130.24,221.42 L131.19,221.23 L132.11,221.10 L133.01,220.93 L133.88,220.80 L134.71,220.68 L135.50,220.61 L136.69,220.46 L137.85,220.27 L138.98,220.10 L140.05,219.99 L141.05,219.90 L141.96,219.73 L142.77,219.64 L143.45,219.54 L144.00,219.50" fill="none" stroke="#5e2a84" stroke-width="1.14" stroke-linejoin="round" stroke-linecap="round" opacity="1"/>
<path d="M40.00,180.03 L40.57,180.02 L41.31,180.03 L42.20,180.10 L43.19,180.20 L44.26,180.29 L45.36,180.35 L46.48,180.33 L47.58,180.33 L48.62,180.32 L49.57,180.18 L50.40,179.98 L51.51,179.45 L52.50,178.72 L53.38,177.72 L54.21,176.78 L55.01,175.90 L55.83,175.28 L56.70,175.03 L57.60,175.11 L58.51,175.34 L59.41,175.81 L60.32,176.51 L61.23,177.23 L62.16,178.06 L63.10,179.04 L64.06,179.94 L65.03,181.03 L66.02,182.14 L67.02,183.42 L68.01,184.71 L69.01,186.08 L70.00,187.55 L70.96,189.27 L71.90,191.18 L72.83,193.22 L73.77,195.17 L74.75,197.15 L75.79,198.86 L76.90,200.30 L77.71,201.07 L78.53,201.79 L79.37,202.41 L80.23,202.97 L81.12,203.34 L82.04,203.76 L83.00,204.12 L84.01,204.43 L85.08,204.62 L86.20,204.86 L86.98,205.10 L87.67,205.21 L88.31,205.25 L88.93,205.26 L89.56,205.37 L90.21,205.32 L90.93,205.36 L91.74,205.31 L92.66,205.30 L93.72,205.21 L94.96,205.24 L96.40,205.17 L98.07,205.18 L100.00,205.23 L100.67,205.24 L101.38,205.18 L102.15,205.19 L102.96,205.22 L103.80,205.24 L104.69,205.23 L105.62,205.21 L106.58,205.23 L107.57,205.29 L108.59,205.31 L109.64,205.24 L110.72,205.29 L111.81,205.32 L112.93,205.26 L114.06,205.34 L115.21,205.28 L116.37,205.34 L117.54,205.34 L118.72,205.35 L119.90,205.33 L121.08,205.35 L122.27,205.37 L123.45,205.37 L124.63,205.40 L125.81,205.38 L126.97,205.39 L128.12,205.36 L129.25,205.42 L130.37,205.41 L131.47,205.40 L132.55,205.45 L133.61,205.46 L134.63,205.44 L135.63,205.42 L136.60,205.45 L137.53,205.42 L138.43,205.43 L139.29,205.46 L140.10,205.44 L140.88,205.47 L141.60,205.49 L142.28,205.44 L142.91,205.51 L143.48,205.46 L144.00,205.50" fill="none" stroke="#3bb44a" stroke-width="1.14" stroke-linejoin="round" stroke-linecap="round" opacity="1"/>
<path d="M40.00,180.02 L40.57,180.05 L41.31,180.07 L42.20,180.09 L43.19,180.21 L44.26,180.27 L45.36,180.38 L46.48,180.33 L47.58,180.39 L48.62,180.35 L49.57,180.21 L50.40,180.03 L51.51,179.45 L52.50,178.75 L53.38,177.80 L54.21,176.90 L55.01,176.05 L55.83,175.32 L56.70,175.03 L57.58,174.99 L58.44,175.05 L59.29,175.39 L60.16,175.89 L61.06,176.40 L62.04,177.12 L63.10,177.78 L63.92,178.39 L64.80,178.97 L65.73,179.72 L66.69,180.53 L67.67,181.27 L68.65,182.09 L69.62,182.95 L70.56,183.75 L71.46,184.51 L72.30,185.27 L73.41,186.34 L74.44,187.54 L75.41,188.65 L76.36,189.75 L77.29,190.67 L78.23,191.58 L79.20,192.16 L80.02,192.59 L80.78,192.85 L81.52,192.95 L82.27,193.04 L83.07,192.98 L83.97,192.92 L85.00,192.89 L86.20,192.76 L86.94,192.82 L87.67,192.74 L88.42,192.65 L89.17,192.61 L89.96,192.48 L90.79,192.45 L91.66,192.31 L92.60,192.19 L93.60,192.13 L94.68,192.00 L95.85,191.88 L97.12,191.85 L98.50,191.71 L100.00,191.73 L100.73,191.65 L101.51,191.67 L102.33,191.68 L103.19,191.62 L104.09,191.60 L105.03,191.54 L105.99,191.49 L106.99,191.47 L108.00,191.46 L109.04,191.48 L110.10,191.44 L111.17,191.43 L112.25,191.45 L113.34,191.36 L114.44,191.35 L115.54,191.38 L116.63,191.30 L117.72,191.29 L118.81,191.31 L119.88,191.28 L120.94,191.30 L121.98,191.28 L122.99,191.32 L123.99,191.32 L124.96,191.29 L125.89,191.33 L126.79,191.33 L127.66,191.31 L128.48,191.40 L129.27,191.35 L130.00,191.37 L131.43,191.42 L132.78,191.56 L134.05,191.69 L135.25,191.80 L136.37,191.90 L137.42,192.03 L138.41,192.16 L139.33,192.37 L140.18,192.51 L140.96,192.64 L141.69,192.81 L142.35,192.92 L142.96,193.08 L143.51,193.15 L144.00,193.20" fill="none" stroke="#c8843c" stroke-width="1.14" stroke-linejoin="round" stroke-linecap="round" opacity="1"/>
<path d="M40.00,179.98 L40.57,180.06 L41.31,180.02 L42.20,180.14 L43.19,180.20 L44.26,180.26 L45.36,180.30 L46.48,180.39 L47.58,180.31 L48.62,180.31 L49.57,180.23 L50.40,179.97 L51.51,179.45 L52.50,178.72 L53.38,177.80 L54.21,176.87 L55.01,176.04 L55.83,175.32 L56.70,174.98 L57.58,174.93 L58.44,175.05 L59.29,175.44 L60.16,175.89 L61.06,176.45 L62.04,177.04 L63.10,177.83 L63.92,178.39 L64.80,179.01 L65.73,179.75 L66.69,180.49 L67.67,181.27 L68.65,182.08 L69.62,182.92 L70.56,183.72 L71.46,184.54 L72.30,185.32 L73.41,186.39 L74.44,187.53 L75.41,188.65 L76.36,189.69 L77.29,190.71 L78.23,191.54 L79.20,192.23 L80.02,192.59 L80.78,192.81 L81.52,192.97 L82.27,193.04 L83.07,192.95 L83.97,192.95 L85.00,192.80 L86.20,192.78 L86.94,192.75 L87.67,192.75 L88.42,192.70 L89.17,192.61 L89.96,192.48 L90.79,192.44 L91.66,192.29 L92.60,192.18 L93.60,192.14 L94.68,192.02 L95.85,191.93 L97.12,191.85 L98.50,191.80 L100.00,191.70 L100.73,191.71 L101.51,191.68 L102.33,191.67 L103.19,191.61 L104.09,191.62 L105.03,191.59 L105.99,191.55 L106.99,191.53 L108.00,191.56 L109.04,191.49 L110.10,191.56 L111.17,191.48 L112.25,191.46 L113.34,191.46 L114.44,191.53 L115.54,191.46 L116.63,191.44 L117.72,191.42 L118.81,191.41 L119.88,191.47 L120.94,191.46 L121.98,191.46 L122.99,191.46 L123.99,191.39 L124.96,191.44 L125.89,191.41 L126.79,191.45 L127.66,191.44 L128.48,191.45 L129.27,191.36 L130.00,191.44 L131.43,191.43 L132.78,191.43 L134.05,191.34 L135.25,191.35 L136.37,191.34 L137.42,191.33 L138.41,191.41 L139.33,191.41 L140.18,191.40 L140.96,191.42 L141.69,191.40 L142.35,191.37 L142.96,191.36 L143.51,191.36 L144.00,191.40" fill="none" stroke="#2b5c97" stroke-width="1.14" stroke-linejoin="round" stroke-linecap="round" opacity="1"/>
</svg>
<rect x="40.40" y="168.30" width="103.70" height="106.70" fill="none" stroke="#000" stroke-width="1.3" />
<line x1="51.60" y1="275.00" x2="51.60" y2="278.20" stroke="#231f20" stroke-width="1"/>
<text x="51.60" y="289.40" font-size="9.8" fill="#231f20" stroke="#231f20" stroke-width="0.3" text-anchor="middle" font-weight="normal" >0</text>
<line x1="71.80" y1="275.00" x2="71.80" y2="278.20" stroke="#231f20" stroke-width="1"/>
<text x="71.80" y="289.40" font-size="9.8" fill="#231f20" stroke="#231f20" stroke-width="0.3" text-anchor="middle" font-weight="normal" >1</text>
<line x1="92.00" y1="275.00" x2="92.00" y2="278.20" stroke="#231f20" stroke-width="1"/>
<text x="92.00" y="289.40" font-size="9.8" fill="#231f20" stroke="#231f20" stroke-width="0.3" text-anchor="middle" font-weight="normal" >2</text>
<line x1="112.20" y1="275.00" x2="112.20" y2="278.20" stroke="#231f20" stroke-width="1"/>
<text x="112.20" y="289.40" font-size="9.8" fill="#231f20" stroke="#231f20" stroke-width="0.3" text-anchor="middle" font-weight="normal" >3</text>
<line x1="132.40" y1="275.00" x2="132.40" y2="278.20" stroke="#231f20" stroke-width="1"/>
<text x="132.40" y="289.40" font-size="9.8" fill="#231f20" stroke="#231f20" stroke-width="0.3" text-anchor="middle" font-weight="normal" >4</text>
<text x="92.75" y="303.40" font-size="10.5" fill="#231f20" stroke="#231f20" stroke-width="0.3" text-anchor="middle" font-weight="normal" textLength="42" lengthAdjust="spacingAndGlyphs" >Time (min)</text>
<text x="0" y="0" font-size="10.2" fill="#231f20" stroke="#231f20" stroke-width="0.3" text-anchor="middle" transform="translate(28.5,221.95) rotate(-90)" textLength="56.5" lengthAdjust="spacingAndGlyphs">% Aggregation</text>
<line x1="37.00" y1="264.10" x2="40.40" y2="264.10" stroke="#231f20" stroke-width="1"/>
<text x="34.80" y="267.50" font-size="9.8" fill="#231f20" stroke="#231f20" stroke-width="0.3" text-anchor="end" font-weight="normal" textLength="14.4" lengthAdjust="spacingAndGlyphs" >100</text>
<line x1="49.70" y1="185.50" x2="49.70" y2="206.60" stroke="#000" stroke-width="1.2"/>
<path d="M47.40,187.00 L49.70,181.50 L52.00,187.00 Z" fill="#000"/>
<text x="84.20" y="186.60" font-size="9.5" fill="#231f20" stroke="#231f20" stroke-width="0.3" text-anchor="start" font-weight="normal" textLength="44.5" lengthAdjust="spacingAndGlyphs" >ERp46-null</text>
<text x="148.70" y="179.60" font-size="9.5" fill="#231f20" stroke="#231f20" stroke-width="0.3" text-anchor="start" font-weight="normal" textLength="26" lengthAdjust="spacingAndGlyphs" >ERp46</text>
<text x="148.70" y="195.70" font-size="9.5" fill="#231f20" stroke="#231f20" stroke-width="0.3" text-anchor="start" font-weight="normal" textLength="33" lengthAdjust="spacingAndGlyphs" >aa-aa-aa</text>
<text x="148.70" y="209.60" font-size="9.5" fill="#231f20" stroke="#231f20" stroke-width="0.3" text-anchor="start" font-weight="normal" textLength="33" lengthAdjust="spacingAndGlyphs" >cc-aa-aa</text>
<text x="148.70" y="221.20" font-size="9.5" fill="#231f20" stroke="#231f20" stroke-width="0.3" text-anchor="start" font-weight="normal" textLength="33" lengthAdjust="spacingAndGlyphs" >cc-cc-aa</text>
<text x="148.70" y="229.50" font-size="9.5" fill="#231f20" stroke="#231f20" stroke-width="0.3" text-anchor="start" font-weight="normal" textLength="33" lengthAdjust="spacingAndGlyphs" >cc-cc-cc</text>
<text x="148.70" y="239.42" font-size="9.5" fill="#231f20" stroke="#231f20" stroke-width="0.3" textLength="26" lengthAdjust="spacingAndGlyphs">ERp46</text>
<text x="175.10" y="236.02" font-size="7.03" fill="#231f20" stroke="#231f20" stroke-width="0.04" textLength="9" lengthAdjust="spacingAndGlyphs">fl/fl</text>
<line x1="149.90" y1="243.90" x2="149.90" y2="264.30" stroke="#231f20" stroke-width="1.1"/>
<line x1="147.70" y1="243.90" x2="152.10" y2="243.90" stroke="#231f20" stroke-width="1.1"/>
<line x1="147.70" y1="264.30" x2="152.10" y2="264.30" stroke="#231f20" stroke-width="1.1"/>
<text x="153.70" y="253.70" font-size="10" fill="#231f20" stroke="#231f20" stroke-width="0.3" text-anchor="start" font-weight="normal" textLength="31.8" lengthAdjust="spacingAndGlyphs" >1 nmole</text>
<text x="161.70" y="264.60" font-size="10" fill="#231f20" stroke="#231f20" stroke-width="0.3" text-anchor="start" font-weight="normal" textLength="17.5" lengthAdjust="spacingAndGlyphs" >ATP</text>
<text x="9.30" y="317.30" font-size="13.2" fill="#000" stroke="#000" stroke-width="0.08" text-anchor="start" font-weight="bold" textLength="9.0" lengthAdjust="spacingAndGlyphs" >D</text>
<text x="36.90" y="326.30" font-size="11.3" fill="#231f20" stroke="#231f20" stroke-width="0.08" text-anchor="start" font-weight="normal" textLength="111.5" lengthAdjust="spacingAndGlyphs" >Thrombin (0.015 U/ml)</text>
<svg x="40.4" y="330.7" width="103.69999999999999" height="116.30000000000001" viewBox="40.4 330.7 103.69999999999999 116.30000000000001" overflow="hidden">
<path d="M40.00,432.52 L40.18,432.47 L39.93,432.49 L39.47,432.51 L39.04,432.48 L38.84,432.51 L39.12,432.52 L40.10,432.56 L42.01,432.52 L45.06,432.50 L49.50,432.54 L50.06,432.50 L50.65,432.53 L51.27,432.50 L51.92,432.44 L52.59,432.48 L53.29,432.48 L54.01,432.50 L54.76,432.46 L55.54,432.49 L56.33,432.47 L57.15,432.43 L58.00,432.49 L58.86,432.41 L59.75,432.48 L60.65,432.41 L61.58,432.39 L62.53,432.41 L63.49,432.45 L64.47,432.47 L65.47,432.37 L66.49,432.41 L67.52,432.41 L68.57,432.43 L69.63,432.37 L70.71,432.39 L71.80,432.37 L72.90,432.41 L74.02,432.35 L75.14,432.41 L76.28,432.34 L77.43,432.33 L78.59,432.37 L79.76,432.34 L80.94,432.30 L82.12,432.34 L83.31,432.28 L84.51,432.35 L85.72,432.33 L86.93,432.33 L88.14,432.31 L89.36,432.28 L90.58,432.28 L91.81,432.27 L93.04,432.31 L94.27,432.23 L95.50,432.30 L96.73,432.21 L97.96,432.22 L99.19,432.22 L100.42,432.27 L101.64,432.23 L102.87,432.21 L104.09,432.25 L105.30,432.18 L106.52,432.20 L107.72,432.20 L108.92,432.21 L110.12,432.21 L111.31,432.19 L112.48,432.15 L113.66,432.15 L114.82,432.12 L115.97,432.18 L117.11,432.16 L118.24,432.16 L119.36,432.10 L120.47,432.12 L121.57,432.15 L122.65,432.12 L123.71,432.07 L124.77,432.10 L125.80,432.13 L126.83,432.07 L127.83,432.06 L128.82,432.06 L129.79,432.10 L130.74,432.10 L131.67,432.03 L132.58,432.03 L133.48,432.03 L134.35,432.03 L135.20,432.05 L136.03,432.01 L136.83,432.02 L137.61,432.00 L138.37,432.08 L139.10,432.05 L139.81,431.98 L140.49,432.06 L141.15,431.98 L141.77,432.00 L142.37,432.06 L142.95,432.03 L143.49,432.03 L144.00,432.00" fill="none" stroke="#f2c9a8" stroke-width="0.95" stroke-linejoin="round" stroke-linecap="round" opacity="1"/>
<path d="M40.00,433.99 L40.60,433.96 L41.43,433.97 L42.43,433.88 L43.53,433.85 L44.70,433.83 L45.87,433.78 L46.99,433.81 L48.00,433.87 L48.86,433.92 L49.50,434.00 L50.42,435.42 L50.30,436.50 L50.59,435.37 L51.50,434.01 L52.13,433.86 L52.88,433.89 L53.76,433.98 L54.77,434.01 L55.95,434.06 L57.30,434.02 L58.06,433.92 L58.89,433.81 L59.77,433.75 L60.71,433.65 L61.68,433.51 L62.69,433.37 L63.71,433.24 L64.75,433.08 L65.78,432.93 L66.81,432.77 L67.82,432.62 L68.80,432.51 L69.74,432.33 L70.63,432.22 L71.51,432.12 L72.36,431.97 L73.22,431.82 L74.09,431.64 L74.99,431.51 L75.94,431.38 L76.94,431.26 L78.00,431.12 L79.15,431.03 L80.40,430.94 L81.17,430.81 L81.93,430.80 L82.67,430.75 L83.42,430.66 L84.17,430.62 L84.92,430.62 L85.70,430.48 L86.49,430.48 L87.32,430.40 L88.18,430.42 L89.07,430.39 L90.02,430.31 L91.02,430.23 L92.07,430.24 L93.20,430.20 L94.39,430.18 L95.66,430.12 L97.02,430.09 L98.46,430.07 L100.00,430.00 L100.73,429.97 L101.50,430.01 L102.32,429.92 L103.17,429.95 L104.06,429.90 L104.98,429.92 L105.94,429.84 L106.93,429.90 L107.94,429.82 L108.98,429.77 L110.05,429.78 L111.13,429.77 L112.23,429.72 L113.35,429.74 L114.49,429.72 L115.64,429.73 L116.79,429.68 L117.96,429.65 L119.12,429.63 L120.30,429.66 L121.47,429.66 L122.64,429.60 L123.81,429.56 L124.97,429.60 L126.12,429.54 L127.27,429.51 L128.40,429.48 L129.51,429.53 L130.61,429.52 L131.69,429.49 L132.75,429.46 L133.78,429.45 L134.79,429.40 L135.76,429.46 L136.71,429.39 L137.63,429.41 L138.50,429.41 L139.35,429.40 L140.15,429.35 L140.91,429.33 L141.62,429.34 L142.29,429.29 L142.91,429.35 L143.48,429.29 L144.00,429.30" fill="none" stroke="#6fca7a" stroke-width="0.95" stroke-linejoin="round" stroke-linecap="round" opacity="1"/>
<path d="M40.00,434.03 L40.60,433.97 L41.43,433.95 L42.43,433.90 L43.53,433.87 L44.70,433.81 L45.87,433.77 L46.99,433.84 L48.00,433.82 L48.86,433.87 L49.50,433.98 L50.42,435.40 L50.30,436.49 L50.59,435.42 L51.50,434.02 L52.13,433.88 L52.88,433.97 L53.76,434.07 L54.77,434.09 L55.95,434.18 L57.30,434.04 L58.06,433.88 L58.89,433.64 L59.77,433.49 L60.71,433.22 L61.68,432.90 L62.69,432.62 L63.71,432.42 L64.75,432.10 L65.78,431.78 L66.81,431.48 L67.82,431.21 L68.80,430.97 L69.74,430.78 L70.63,430.49 L71.51,430.21 L72.36,430.02 L73.22,429.75 L74.09,429.43 L74.99,429.26 L75.94,429.00 L76.94,428.81 L78.00,428.61 L79.15,428.47 L80.40,428.33 L81.17,428.27 L81.93,428.16 L82.67,428.18 L83.42,428.13 L84.17,428.14 L84.92,428.11 L85.70,428.15 L86.49,428.13 L87.32,428.11 L88.18,428.12 L89.07,428.14 L90.02,428.19 L91.02,428.17 L92.07,428.23 L93.20,428.22 L94.39,428.28 L95.66,428.29 L97.02,428.30 L98.46,428.34 L100.00,428.25 L100.73,428.33 L101.50,428.29 L102.32,428.29 L103.17,428.30 L104.06,428.31 L104.98,428.26 L105.94,428.26 L106.93,428.31 L107.94,428.21 L108.98,428.26 L110.05,428.25 L111.13,428.19 L112.23,428.24 L113.35,428.24 L114.49,428.25 L115.64,428.19 L116.79,428.24 L117.96,428.19 L119.12,428.18 L120.30,428.21 L121.47,428.12 L122.64,428.18 L123.81,428.16 L124.97,428.12 L126.12,428.16 L127.27,428.11 L128.40,428.11 L129.51,428.11 L130.61,428.12 L131.69,428.06 L132.75,428.07 L133.78,428.07 L134.79,428.07 L135.76,428.09 L136.71,428.03 L137.63,428.08 L138.50,428.03 L139.35,428.03 L140.15,428.01 L140.91,428.02 L141.62,428.06 L142.29,428.03 L142.91,428.04 L143.48,427.99 L144.00,428.00" fill="none" stroke="#8c84d0" stroke-width="0.95" stroke-linejoin="round" stroke-linecap="round" opacity="1"/>
<path d="M40.00,433.96 L40.60,433.95 L41.43,433.97 L42.43,433.94 L43.53,433.92 L44.70,433.73 L45.87,433.84 L46.99,433.86 L48.00,433.82 L48.86,433.79 L49.50,433.96 L50.42,435.53 L50.30,436.84 L50.59,435.75 L51.50,434.02 L52.13,433.84 L52.88,433.82 L53.76,433.87 L54.77,433.82 L55.95,433.75 L57.30,433.53 L58.06,433.35 L58.89,433.11 L59.77,432.87 L60.71,432.50 L61.68,432.29 L62.69,431.93 L63.71,431.66 L64.75,431.20 L65.78,430.88 L66.81,430.53 L67.82,430.36 L68.80,430.08 L69.76,429.73 L70.73,429.36 L71.70,429.12 L72.66,428.78 L73.63,428.40 L74.60,428.01 L75.57,427.71 L76.54,427.43 L77.50,427.13 L78.47,426.90 L79.44,426.71 L80.40,426.59 L81.37,426.26 L82.36,426.25 L83.36,426.06 L84.37,426.02 L85.37,426.12 L86.37,426.05 L87.35,426.10 L88.32,426.01 L89.27,425.92 L90.18,426.00 L91.06,426.03 L91.90,426.09 L92.75,426.08 L93.24,425.97 L93.52,425.97 L93.76,425.92 L94.12,426.04 L94.77,425.97 L95.85,425.96 L97.54,425.93 L100.00,425.90 L100.61,426.03 L101.27,425.91 L101.98,426.07 L102.74,425.88 L103.55,426.03 L104.41,425.87 L105.30,425.84 L106.24,425.97 L107.21,425.86 L108.21,425.94 L109.24,425.82 L110.31,425.78 L111.39,425.91 L112.51,425.88 L113.64,425.89 L114.79,425.85 L115.95,425.71 L117.13,425.80 L118.31,425.80 L119.51,425.73 L120.71,425.81 L121.91,425.66 L123.11,425.78 L124.30,425.72 L125.49,425.56 L126.67,425.54 L127.84,425.66 L129.00,425.67 L130.14,425.51 L131.26,425.54 L132.36,425.61 L133.44,425.48 L134.49,425.60 L135.50,425.52 L136.49,425.42 L137.44,425.46 L138.36,425.49 L139.23,425.45 L140.06,425.49 L140.85,425.37 L141.58,425.49 L142.27,425.40 L142.90,425.44 L143.48,425.43 L144.00,425.40" fill="none" stroke="#2e7d64" stroke-width="0.95" stroke-linejoin="round" stroke-linecap="round" opacity="1"/>
<path d="M40.00,432.29 L40.57,432.29 L41.32,432.34 L42.24,432.36 L43.26,432.35 L44.35,432.34 L45.47,432.32 L46.57,432.30 L47.62,432.39 L48.56,432.36 L49.37,432.35 L50.00,432.28 L51.01,432.15 L51.50,431.75 L52.22,431.49 L53.11,431.22 L54.13,430.89 L55.21,430.52 L56.28,430.07 L57.30,429.39 L58.27,428.65 L59.24,427.76 L60.21,426.79 L61.17,425.68 L62.14,424.41 L63.10,423.05 L64.05,421.55 L65.00,419.82 L65.95,417.98 L66.90,416.13 L67.85,414.35 L68.80,412.66 L69.76,411.29 L70.73,409.93 L71.69,408.66 L72.66,407.43 L73.63,406.26 L74.60,405.23 L75.57,404.20 L76.53,403.21 L77.50,402.31 L78.47,401.42 L79.43,400.63 L80.40,400.01 L81.35,399.45 L82.29,398.90 L83.23,398.54 L84.19,398.22 L85.17,397.88 L86.20,397.71 L87.13,397.60 L88.09,397.53 L89.08,397.51 L90.09,397.57 L91.10,397.70 L92.10,397.81 L93.10,397.90 L94.12,398.00 L95.18,398.25 L96.25,398.45 L97.30,398.62 L98.30,398.90 L99.21,399.18 L100.00,399.44 L100.67,399.75 L100.79,400.04 L101.31,400.55 L103.20,401.47 L103.82,401.74 L104.51,402.03 L105.27,402.40 L106.10,402.71 L106.99,403.09 L107.92,403.46 L108.91,403.87 L109.93,404.25 L110.98,404.66 L112.07,405.19 L113.17,405.57 L114.30,405.99 L115.43,406.49 L116.56,406.95 L117.69,407.34 L118.81,407.82 L119.92,408.23 L121.01,408.68 L122.07,409.05 L123.10,409.46 L124.09,409.93 L125.11,410.32 L126.18,410.70 L127.27,411.13 L128.38,411.54 L129.51,412.02 L130.65,412.43 L131.79,412.91 L132.92,413.33 L134.04,413.77 L135.14,414.20 L136.22,414.55 L137.26,414.93 L138.26,415.33 L139.22,415.69 L140.12,416.03 L140.97,416.35 L141.74,416.69 L142.44,416.99 L143.07,417.19 L143.60,417.40" fill="none" stroke="#d2405e" stroke-width="1.045" stroke-linejoin="round" stroke-linecap="round" opacity="1"/>
<path d="M40.00,343.04 L40.60,343.03 L41.43,342.93 L42.42,342.96 L43.52,342.92 L44.69,342.87 L45.86,342.94 L46.98,342.87 L47.99,342.91 L48.85,342.95 L49.50,343.04 L50.50,343.89 L50.50,344.49 L50.98,343.86 L52.00,342.47 L52.66,341.88 L53.47,341.01 L54.38,340.00 L55.36,339.13 L56.34,338.49 L57.30,338.19 L58.24,338.24 L59.20,338.44 L60.17,338.83 L61.16,339.37 L62.13,340.27 L63.10,341.32 L64.05,342.66 L65.00,344.34 L65.95,346.11 L66.90,348.11 L67.85,350.21 L68.80,352.24 L69.76,354.26 L70.73,356.37 L71.69,358.59 L72.66,360.80 L73.63,362.86 L74.60,364.88 L75.57,366.78 L76.53,368.63 L77.50,370.46 L78.47,372.15 L79.43,373.77 L80.40,375.27 L81.37,376.70 L82.34,377.90 L83.31,379.13 L84.27,380.17 L85.24,381.18 L86.20,382.24 L87.13,383.07 L88.02,383.94 L88.91,384.67 L89.83,385.38 L90.81,386.02 L91.90,386.79 L92.68,387.28 L93.50,387.88 L94.35,388.39 L95.23,388.89 L96.14,389.39 L97.07,389.91 L98.03,390.48 L99.00,390.97 L100.00,391.51 L100.83,391.90 L101.66,392.35 L102.51,392.78 L103.37,393.30 L104.24,393.73 L105.14,394.14 L106.06,394.65 L107.00,395.03 L107.97,395.47 L108.97,395.86 L110.00,396.28 L110.82,396.64 L111.64,396.90 L112.47,397.19 L113.30,397.52 L114.15,397.80 L115.01,398.14 L115.89,398.35 L116.81,398.71 L117.75,398.90 L118.73,399.24 L119.75,399.48 L120.81,399.69 L121.93,399.96 L123.10,400.18 L123.94,400.33 L124.85,400.48 L125.82,400.65 L126.84,400.86 L127.91,401.01 L129.02,401.15 L130.14,401.22 L131.29,401.38 L132.44,401.58 L133.60,401.63 L134.74,401.83 L135.86,401.92 L136.95,402.10 L138.01,402.13 L139.02,402.31 L139.98,402.37 L140.87,402.45 L141.68,402.53 L142.42,402.69 L143.06,402.74 L143.60,402.80" fill="none" stroke="#c8203c" stroke-width="1.14" stroke-linejoin="round" stroke-linecap="round" opacity="1"/>
<path d="M40.00,341.97 L40.60,342.00 L41.40,342.05 L42.37,341.99 L43.45,342.03 L44.59,342.00 L45.75,342.01 L46.87,342.06 L47.90,342.05 L48.79,341.99 L49.50,341.96 L50.75,341.94 L51.22,341.92 L52.00,341.50 L52.65,341.02 L53.33,340.37 L54.09,339.68 L54.97,338.98 L56.03,338.40 L57.30,338.01 L58.06,337.88 L58.92,337.82 L59.87,337.88 L60.89,337.87 L61.94,337.95 L63.02,337.97 L64.10,338.14 L65.16,338.22 L66.18,338.40 L67.14,338.54 L68.02,338.65 L68.80,338.75 L70.06,339.13 L71.03,339.41 L71.84,339.82 L72.63,340.21 L73.50,340.77 L74.60,341.53 L75.39,342.00 L76.24,342.58 L77.14,343.25 L78.09,343.97 L79.06,344.65 L80.04,345.44 L81.01,346.17 L81.98,346.89 L82.91,347.54 L83.80,348.22 L84.75,348.88 L85.67,349.52 L86.58,350.08 L87.48,350.71 L88.36,351.25 L89.24,351.84 L90.12,352.32 L91.01,352.92 L91.90,353.44 L92.75,353.88 L93.54,354.33 L94.29,354.75 L95.04,355.15 L95.82,355.50 L96.68,356.00 L97.64,356.34 L98.73,356.79 L100.00,357.26 L100.73,357.54 L101.49,357.87 L102.27,358.07 L103.08,358.35 L103.91,358.69 L104.78,358.93 L105.67,359.20 L106.59,359.55 L107.54,359.85 L108.53,360.15 L109.55,360.48 L110.61,360.75 L111.71,361.15 L112.85,361.47 L114.02,361.75 L115.24,362.10 L116.50,362.50 L117.31,362.73 L118.17,362.95 L119.09,363.19 L120.05,363.48 L121.06,363.72 L122.09,364.05 L123.16,364.36 L124.26,364.59 L125.38,364.93 L126.51,365.24 L127.65,365.49 L128.79,365.85 L129.94,366.17 L131.08,366.41 L132.21,366.71 L133.33,367.05 L134.42,367.30 L135.49,367.57 L136.52,367.89 L137.52,368.14 L138.48,368.34 L139.39,368.57 L140.25,368.81 L141.06,369.03 L141.80,369.27 L142.47,369.43 L143.08,369.60 L143.60,369.70" fill="none" stroke="#8c84d0" stroke-width="0.95" stroke-linejoin="round" stroke-linecap="round" opacity="1"/>
<path d="M40.00,342.03 L40.60,342.04 L41.40,341.97 L42.37,342.02 L43.45,342.07 L44.59,342.07 L45.75,342.01 L46.87,342.03 L47.90,342.04 L48.79,342.01 L49.50,342.00 L50.75,341.97 L51.22,341.96 L52.00,341.50 L52.65,340.89 L53.33,340.11 L54.09,339.29 L54.97,338.39 L56.03,337.68 L57.30,337.21 L58.06,337.13 L58.92,337.10 L59.87,337.12 L60.89,337.10 L61.94,337.26 L63.02,337.35 L64.10,337.55 L65.16,337.68 L66.18,337.88 L67.14,338.10 L68.02,338.25 L68.80,338.38 L70.06,338.70 L71.03,339.00 L71.84,339.39 L72.63,339.73 L73.50,340.24 L74.60,340.91 L75.39,341.34 L76.24,341.93 L77.14,342.57 L78.09,343.17 L79.06,343.82 L80.04,344.52 L81.01,345.20 L81.98,345.81 L82.91,346.41 L83.80,346.96 L84.75,347.53 L85.67,348.06 L86.58,348.53 L87.48,348.99 L88.36,349.42 L89.24,349.90 L90.12,350.36 L91.01,350.77 L91.90,351.21 L92.75,351.66 L93.54,352.04 L94.29,352.51 L95.04,352.90 L95.82,353.32 L96.68,353.75 L97.64,354.17 L98.73,354.61 L100.00,355.08 L100.73,355.33 L101.49,355.61 L102.27,355.84 L103.08,356.11 L103.91,356.30 L104.78,356.58 L105.67,356.88 L106.59,357.07 L107.54,357.37 L108.53,357.64 L109.55,357.91 L110.61,358.27 L111.71,358.52 L112.85,358.90 L114.02,359.20 L115.24,359.56 L116.50,360.04 L117.31,360.25 L118.17,360.50 L119.09,360.82 L120.05,361.14 L121.06,361.50 L122.09,361.78 L123.16,362.15 L124.26,362.58 L125.38,362.93 L126.51,363.25 L127.65,363.64 L128.79,364.03 L129.94,364.44 L131.08,364.82 L132.21,365.22 L133.33,365.59 L134.42,365.93 L135.49,366.30 L136.52,366.65 L137.52,366.99 L138.48,367.28 L139.39,367.62 L140.25,367.90 L141.06,368.19 L141.80,368.36 L142.47,368.66 L143.08,368.78 L143.60,369.00" fill="none" stroke="#2e7d64" stroke-width="1.045" stroke-linejoin="round" stroke-linecap="round" opacity="1"/>
<path d="M40.00,341.83 L40.47,341.56 L41.12,341.18 L41.97,340.84 L43.00,340.51 L43.74,340.36 L44.63,340.26 L45.60,340.14 L46.59,340.02 L47.53,339.94 L48.35,339.94 L49.00,340.00 L50.03,340.94 L50.50,341.78 L51.01,341.75 L52.00,341.01 L52.59,340.44 L53.26,339.69 L54.02,338.89 L54.93,338.09 L56.01,337.39 L57.30,336.99 L58.06,336.89 L58.92,336.89 L59.87,336.92 L60.89,337.04 L61.94,337.16 L63.02,337.27 L64.10,337.52 L65.16,337.65 L66.18,337.89 L67.14,338.08 L68.02,338.28 L68.80,338.37 L70.06,338.68 L71.03,339.01 L71.84,339.23 L72.63,339.60 L73.50,340.11 L74.60,340.70 L75.39,341.19 L76.24,341.69 L77.14,342.24 L78.09,342.90 L79.06,343.50 L80.04,344.14 L81.01,344.80 L81.98,345.39 L82.91,345.96 L83.80,346.51 L84.75,347.01 L85.67,347.57 L86.58,348.02 L87.48,348.46 L88.36,348.85 L89.24,349.30 L90.12,349.70 L91.01,350.12 L91.90,350.51 L92.75,350.90 L93.54,351.23 L94.29,351.48 L95.04,351.75 L95.82,352.06 L96.68,352.39 L97.64,352.66 L98.73,353.06 L100.00,353.53 L100.73,353.72 L101.49,354.00 L102.27,354.33 L103.08,354.59 L103.91,354.84 L104.78,355.09 L105.67,355.46 L106.59,355.75 L107.54,356.08 L108.53,356.43 L109.55,356.76 L110.61,357.07 L111.71,357.42 L112.85,357.82 L114.02,358.24 L115.24,358.66 L116.50,359.07 L117.31,359.35 L118.17,359.70 L119.09,360.02 L120.05,360.33 L121.06,360.75 L122.09,361.08 L123.16,361.40 L124.26,361.82 L125.38,362.25 L126.51,362.61 L127.65,363.05 L128.79,363.39 L129.94,363.83 L131.08,364.28 L132.21,364.66 L133.33,365.06 L134.42,365.41 L135.49,365.82 L136.52,366.19 L137.52,366.52 L138.48,366.90 L139.39,367.21 L140.25,367.56 L141.06,367.80 L141.80,368.05 L142.47,368.26 L143.08,368.48 L143.60,368.70" fill="none" stroke="#168a3a" stroke-width="1.52" stroke-linejoin="round" stroke-linecap="round" opacity="1"/>
<path d="M40.00,342.25 L40.58,342.16 L41.35,342.26 L42.29,342.42 L43.34,342.65 L44.46,342.87 L45.60,342.95 L46.72,343.05 L47.78,342.88 L48.72,342.75 L49.51,342.66 L50.10,342.16 L50.86,336.22 L50.40,331.47 L50.43,336.35 L50.80,342.15 L51.22,342.09 L51.74,341.01 L52.55,339.40 L53.80,338.37 L54.48,338.27 L55.26,338.22 L56.13,338.17 L57.07,338.41 L58.06,338.45 L59.08,338.65 L60.12,338.68 L61.15,338.84 L62.15,338.87 L63.10,338.91 L64.04,339.13 L65.00,339.16 L65.97,339.08 L66.95,339.22 L67.92,339.24 L68.87,339.17 L69.79,339.28 L70.68,339.41 L71.52,339.40 L72.30,339.59 L73.40,339.67 L74.27,339.99 L75.06,340.37 L75.87,340.60 L76.84,340.95 L78.10,341.38 L78.86,341.44 L79.70,341.64 L80.60,341.67 L81.55,341.79 L82.54,341.96 L83.56,342.06 L84.60,342.35 L85.64,342.35 L86.67,342.55 L87.68,342.61 L88.66,342.84 L89.60,342.98 L90.56,343.16 L91.48,343.28 L92.35,343.48 L93.21,343.82 L94.06,343.92 L94.92,344.11 L95.82,344.31 L96.75,344.55 L97.75,344.77 L98.83,344.96 L100.00,345.33 L100.79,345.43 L101.60,345.55 L102.41,345.82 L103.24,345.86 L104.08,346.05 L104.95,346.33 L105.83,346.35 L106.74,346.59 L107.68,346.84 L108.65,347.02 L109.65,347.08 L110.68,347.32 L111.76,347.60 L112.88,347.75 L114.04,348.10 L115.24,348.19 L116.50,348.59 L117.31,348.67 L118.17,348.79 L119.09,349.02 L120.05,349.16 L121.06,349.48 L122.09,349.61 L123.16,349.96 L124.26,350.13 L125.38,350.32 L126.51,350.53 L127.65,350.85 L128.79,351.01 L129.94,351.38 L131.08,351.47 L132.21,351.79 L133.33,352.03 L134.42,352.21 L135.49,352.54 L136.52,352.68 L137.52,352.95 L138.48,353.13 L139.39,353.27 L140.25,353.47 L141.06,353.58 L141.80,353.76 L142.47,354.03 L143.08,354.05 L143.60,354.20" fill="none" stroke="#c47a34" stroke-width="1.0924999999999998" stroke-linejoin="round" stroke-linecap="round" opacity="1"/>
</svg>
<rect x="40.40" y="330.70" width="103.70" height="116.30" fill="none" stroke="#000" stroke-width="1.3" />
<line x1="50.40" y1="447.00" x2="50.40" y2="450.20" stroke="#231f20" stroke-width="1"/>
<text x="50.40" y="461.40" font-size="9.8" fill="#231f20" stroke="#231f20" stroke-width="0.3" text-anchor="middle" font-weight="normal" >0</text>
<line x1="70.80" y1="447.00" x2="70.80" y2="450.20" stroke="#231f20" stroke-width="1"/>
<text x="70.80" y="461.40" font-size="9.8" fill="#231f20" stroke="#231f20" stroke-width="0.3" text-anchor="middle" font-weight="normal" >1</text>
<line x1="91.20" y1="447.00" x2="91.20" y2="450.20" stroke="#231f20" stroke-width="1"/>
<text x="91.20" y="461.40" font-size="9.8" fill="#231f20" stroke="#231f20" stroke-width="0.3" text-anchor="middle" font-weight="normal" >2</text>
<line x1="111.60" y1="447.00" x2="111.60" y2="450.20" stroke="#231f20" stroke-width="1"/>
<text x="111.60" y="461.40" font-size="9.8" fill="#231f20" stroke="#231f20" stroke-width="0.3" text-anchor="middle" font-weight="normal" >3</text>
<line x1="132.00" y1="447.00" x2="132.00" y2="450.20" stroke="#231f20" stroke-width="1"/>
<text x="132.00" y="461.40" font-size="9.8" fill="#231f20" stroke="#231f20" stroke-width="0.3" text-anchor="middle" font-weight="normal" >4</text>
<text x="92.75" y="475.40" font-size="10.5" fill="#231f20" stroke="#231f20" stroke-width="0.3" text-anchor="middle" font-weight="normal" textLength="42" lengthAdjust="spacingAndGlyphs" >Time (min)</text>
<text x="0" y="0" font-size="10.2" fill="#231f20" stroke="#231f20" stroke-width="0.3" text-anchor="middle" transform="translate(28.5,389.15) rotate(-90)" textLength="56.5" lengthAdjust="spacingAndGlyphs">% Aggregation</text>
<line x1="37.00" y1="434.50" x2="40.40" y2="434.50" stroke="#231f20" stroke-width="1"/>
<text x="34.80" y="437.90" font-size="9.8" fill="#231f20" stroke="#231f20" stroke-width="0.3" text-anchor="end" font-weight="normal" textLength="14.4" lengthAdjust="spacingAndGlyphs" >100</text>
<line x1="50.70" y1="350.00" x2="50.70" y2="370.70" stroke="#000" stroke-width="1.2"/>
<path d="M48.40,351.50 L50.70,346.00 L53.00,351.50 Z" fill="#000"/>
<text x="92.70" y="342.20" font-size="9.5" fill="#231f20" stroke="#231f20" stroke-width="0.3" text-anchor="start" font-weight="normal" textLength="44.5" lengthAdjust="spacingAndGlyphs" >ERp46-null</text>
<text x="148.70" y="365.60" font-size="9.5" fill="#231f20" stroke="#231f20" stroke-width="0.3" text-anchor="start" font-weight="normal" textLength="33" lengthAdjust="spacingAndGlyphs" >cc-aa-aa</text>
<text x="148.70" y="373.40" font-size="9.5" fill="#231f20" stroke="#231f20" stroke-width="0.3" text-anchor="start" font-weight="normal" textLength="33" lengthAdjust="spacingAndGlyphs" >aa-cc-aa</text>
<text x="148.70" y="380.30" font-size="9.5" fill="#231f20" stroke="#231f20" stroke-width="0.3" text-anchor="start" font-weight="normal" textLength="33" lengthAdjust="spacingAndGlyphs" >aa-aa-cc</text>
<line x1="149.90" y1="406.50" x2="149.90" y2="436.80" stroke="#231f20" stroke-width="1.1"/>
<line x1="147.70" y1="406.50" x2="152.10" y2="406.50" stroke="#231f20" stroke-width="1.1"/>
<line x1="147.70" y1="436.80" x2="152.10" y2="436.80" stroke="#231f20" stroke-width="1.1"/>
<text x="153.70" y="421.40" font-size="10" fill="#231f20" stroke="#231f20" stroke-width="0.3" text-anchor="start" font-weight="normal" textLength="31.8" lengthAdjust="spacingAndGlyphs" >1 nmole</text>
<text x="161.70" y="432.10" font-size="10" fill="#231f20" stroke="#231f20" stroke-width="0.3" text-anchor="start" font-weight="normal" textLength="17.5" lengthAdjust="spacingAndGlyphs" >ATP</text>
<text x="45.20" y="392.62" font-size="9.5" fill="#231f20" stroke="#231f20" stroke-width="0.3" textLength="26.5" lengthAdjust="spacingAndGlyphs">ERp46</text>
<text x="72.10" y="389.22" font-size="7.03" fill="#231f20" stroke="#231f20" stroke-width="0.04" textLength="9" lengthAdjust="spacingAndGlyphs">fl/fl</text>
<line x1="61.30" y1="383.40" x2="72.79" y2="373.16" stroke="#000" stroke-width="1.1"/>
<path d="M76.90,369.50 L74.39,374.95 L71.20,371.37 Z" fill="#000"/>
<line x1="54.40" y1="397.20" x2="64.52" y2="405.35" stroke="#000" stroke-width="1.1"/>
<path d="M68.80,408.80 L63.01,407.22 L66.02,403.48 Z" fill="#000"/>
<text x="9.30" y="493.00" font-size="13.2" fill="#000" stroke="#000" stroke-width="0.08" text-anchor="start" font-weight="bold" textLength="7.5" lengthAdjust="spacingAndGlyphs" >E</text>
<text x="36.90" y="502.00" font-size="11.3" fill="#231f20" stroke="#231f20" stroke-width="0.08" text-anchor="start" font-weight="normal" textLength="111.5" lengthAdjust="spacingAndGlyphs" >Thrombin (0.015 U/ml)</text>
<svg x="40.4" y="506.4" width="103.69999999999999" height="114.60000000000002" viewBox="40.4 506.4 103.69999999999999 114.60000000000002" overflow="hidden">
<path d="M42.00,603.32 L42.54,603.28 L43.27,603.37 L44.14,603.41 L45.11,603.48 L46.12,603.49 L47.14,603.46 L48.11,603.42 L49.00,603.27 L49.94,602.99 L50.87,602.67 L51.78,602.18 L52.67,601.70 L53.56,601.26 L54.43,600.80 L55.30,600.44 L56.14,600.03 L56.79,599.54 L57.41,599.17 L58.21,598.84 L59.38,598.73 L61.10,598.72 L61.79,598.73 L62.54,598.80 L63.36,598.90 L64.24,599.01 L65.16,599.09 L66.13,599.28 L67.14,599.38 L68.18,599.57 L69.25,599.69 L70.33,599.86 L71.43,600.12 L72.54,600.29 L73.65,600.48 L74.76,600.60 L75.85,600.78 L76.93,600.97 L77.98,601.15 L79.01,601.33 L80.00,601.49 L80.93,601.61 L81.80,601.79 L82.60,601.98 L83.37,602.09 L84.10,602.31 L84.81,602.45 L85.51,602.62 L86.23,602.74 L86.96,602.92 L87.72,603.10 L88.52,603.23 L89.38,603.35 L90.31,603.59 L91.31,603.73 L92.42,603.83 L93.62,603.95 L94.95,604.17 L96.40,604.28 L98.00,604.36 L98.71,604.43 L99.47,604.47 L100.28,604.58 L101.12,604.58 L102.00,604.70 L102.92,604.74 L103.88,604.72 L104.86,604.83 L105.88,604.85 L106.92,604.94 L107.99,605.00 L109.08,604.99 L110.19,605.02 L111.31,605.16 L112.46,605.15 L113.62,605.25 L114.79,605.28 L115.97,605.33 L117.15,605.38 L118.35,605.41 L119.54,605.44 L120.73,605.44 L121.92,605.55 L123.11,605.57 L124.29,605.62 L125.47,605.70 L126.63,605.66 L127.78,605.77 L128.91,605.74 L130.02,605.84 L131.12,605.89 L132.19,605.87 L133.24,605.93 L134.26,606.01 L135.25,606.01 L136.21,606.04 L137.14,606.04 L138.03,606.05 L138.88,606.11 L139.70,606.14 L140.47,606.15 L141.19,606.19 L141.87,606.20 L142.50,606.28 L143.08,606.30 L143.60,606.30" fill="none" stroke="#c8843c" stroke-width="0.95" stroke-linejoin="round" stroke-linecap="round" opacity="1"/>
<path d="M40.00,607.87 L40.60,607.86 L41.43,607.86 L42.43,607.82 L43.54,607.83 L44.71,607.74 L45.88,607.72 L47.00,607.77 L48.01,607.72 L48.86,607.81 L49.50,607.88 L50.33,609.34 L50.20,610.20 L50.86,608.98 L52.00,605.97 L52.74,604.08 L53.66,601.61 L54.65,598.97 L55.63,596.55 L56.50,594.63 L57.21,592.88 L57.69,591.69 L58.42,590.93 L59.90,590.57 L60.54,590.55 L61.21,590.62 L61.94,590.72 L62.71,590.93 L63.53,591.10 L64.41,591.31 L65.36,591.60 L66.37,591.90 L67.45,592.20 L68.61,592.50 L69.85,592.82 L71.18,593.14 L72.60,593.55 L73.34,593.68 L74.08,593.78 L74.84,594.02 L75.61,594.22 L76.39,594.36 L77.18,594.50 L77.99,594.73 L78.82,594.92 L79.66,595.09 L80.52,595.33 L81.41,595.48 L82.31,595.77 L83.24,595.96 L84.20,596.17 L85.18,596.41 L86.18,596.60 L87.22,596.77 L88.28,596.99 L89.37,597.19 L90.50,597.39 L91.66,597.68 L92.85,597.90 L94.08,598.06 L95.35,598.26 L96.65,598.51 L98.00,598.73 L98.79,598.86 L99.62,598.90 L100.49,599.08 L101.39,599.21 L102.32,599.33 L103.29,599.42 L104.28,599.53 L105.30,599.73 L106.35,599.81 L107.41,599.95 L108.50,600.10 L109.60,600.22 L110.72,600.40 L111.86,600.48 L113.01,600.60 L114.17,600.78 L115.33,600.93 L116.50,601.08 L117.68,601.21 L118.86,601.36 L120.04,601.50 L121.21,601.59 L122.39,601.72 L123.55,601.82 L124.71,601.97 L125.86,602.12 L127.00,602.20 L128.12,602.39 L129.23,602.46 L130.32,602.61 L131.38,602.78 L132.43,602.81 L133.45,602.92 L134.45,603.07 L135.41,603.15 L136.35,603.30 L137.25,603.33 L138.12,603.51 L138.96,603.61 L139.75,603.69 L140.51,603.74 L141.22,603.80 L141.89,603.92 L142.51,603.97 L143.08,604.03 L143.60,604.10" fill="none" stroke="#7b4ea0" stroke-width="1.045" stroke-linejoin="round" stroke-linecap="round" opacity="1"/>
<path d="M40.00,605.56 L40.60,605.57 L41.43,605.57 L42.43,605.54 L43.54,605.49 L44.71,605.24 L45.88,605.23 L47.00,605.26 L48.01,605.33 L48.86,605.39 L49.50,605.53 L50.33,607.95 L50.20,609.96 L50.94,609.19 L52.00,606.11 L52.70,602.97 L53.51,598.88 L54.39,594.72 L55.30,591.31 L56.00,589.22 L56.68,587.58 L57.41,586.02 L58.26,585.07 L59.30,584.23 L60.00,583.78 L60.70,583.62 L61.42,583.59 L62.21,583.47 L63.11,583.59 L64.15,583.66 L65.36,583.89 L66.80,584.29 L67.53,584.23 L68.32,584.45 L69.17,584.77 L70.07,584.94 L71.02,585.11 L72.00,585.51 L73.01,585.73 L74.05,586.07 L75.11,586.33 L76.17,586.66 L77.24,586.97 L78.30,587.23 L79.35,587.46 L80.39,587.76 L81.39,588.20 L82.37,588.37 L83.31,588.50 L84.20,588.89 L85.32,588.99 L86.44,589.19 L87.55,589.52 L88.66,589.67 L89.75,589.93 L90.82,590.14 L91.86,590.25 L92.88,590.50 L93.85,590.55 L94.79,590.79 L95.68,590.93 L96.51,590.92 L97.29,591.10 L98.00,591.10 L99.27,591.23 L100.07,591.19 L100.63,590.90 L101.19,590.75 L101.96,590.69 L103.20,590.71 L103.90,591.07 L104.68,591.21 L105.52,591.29 L106.41,591.73 L107.36,591.91 L108.34,592.17 L109.35,592.69 L110.38,592.94 L111.43,593.34 L112.47,593.54 L113.51,594.05 L114.53,594.23 L115.53,594.61 L116.50,594.97 L117.44,595.21 L118.38,595.69 L119.32,595.94 L120.26,596.32 L121.19,596.77 L122.13,597.07 L123.06,597.54 L124.00,597.83 L124.94,598.24 L125.88,598.50 L126.83,598.92 L127.78,599.22 L128.74,599.35 L129.70,599.76 L130.70,599.92 L131.77,600.28 L132.88,600.50 L134.03,600.77 L135.18,600.83 L136.34,601.11 L137.47,601.40 L138.58,601.64 L139.63,601.77 L140.62,601.77 L141.53,602.06 L142.34,602.08 L143.03,602.31 L143.60,602.40" fill="none" stroke="#2bb3e6" stroke-width="1.045" stroke-linejoin="round" stroke-linecap="round" opacity="1"/>
<path d="M40.00,607.93 L40.60,607.85 L41.43,607.90 L42.43,607.84 L43.54,607.77 L44.71,607.73 L45.88,607.73 L47.00,607.76 L48.01,607.76 L48.86,607.77 L49.50,607.85 L50.27,609.84 L50.20,610.23 L50.95,607.07 L51.94,602.29 L53.00,596.98 L53.84,592.66 L54.75,587.75 L55.66,583.11 L56.50,579.64 L57.31,576.84 L58.04,575.52 L59.30,575.03 L59.94,575.01 L60.61,575.02 L61.33,575.27 L62.14,575.59 L63.06,576.07 L64.12,576.63 L65.36,577.24 L66.80,577.86 L67.53,578.21 L68.32,578.64 L69.17,579.04 L70.07,579.45 L71.02,579.92 L72.00,580.37 L73.01,580.94 L74.05,581.41 L75.11,581.98 L76.17,582.49 L77.24,582.97 L78.30,583.52 L79.35,584.04 L80.39,584.62 L81.39,585.10 L82.37,585.54 L83.31,586.02 L84.20,586.49 L85.29,587.06 L86.32,587.63 L87.31,588.17 L88.27,588.72 L89.20,589.24 L90.12,589.83 L91.03,590.34 L91.95,590.82 L92.87,591.36 L93.82,591.89 L94.80,592.26 L95.81,592.70 L96.88,593.15 L98.00,593.48 L98.85,593.72 L99.71,593.96 L100.57,594.13 L101.44,594.32 L102.31,594.46 L103.20,594.64 L104.10,594.76 L105.02,594.78 L105.95,594.93 L106.90,595.05 L107.86,595.16 L108.85,595.26 L109.86,595.36 L110.90,595.49 L111.96,595.61 L113.05,595.76 L114.17,595.99 L115.32,596.20 L116.50,596.44 L117.34,596.60 L118.24,596.75 L119.18,597.01 L120.16,597.23 L121.18,597.44 L122.23,597.70 L123.31,597.93 L124.41,598.21 L125.52,598.47 L126.65,598.71 L127.79,599.02 L128.93,599.30 L130.07,599.65 L131.21,599.88 L132.33,600.15 L133.43,600.41 L134.51,600.69 L135.57,600.96 L136.59,601.20 L137.58,601.44 L138.53,601.76 L139.43,601.95 L140.28,602.17 L141.08,602.38 L141.81,602.54 L142.48,602.69 L143.08,602.83 L143.60,603.00" fill="none" stroke="#6c7a88" stroke-width="1.045" stroke-linejoin="round" stroke-linecap="round" opacity="1"/>
<path d="M40.00,607.88 L40.60,607.87 L41.43,607.88 L42.43,607.83 L43.54,607.83 L44.71,607.74 L45.88,607.77 L47.00,607.74 L48.01,607.71 L48.86,607.78 L49.50,607.91 L50.34,609.42 L50.20,610.19 L50.89,609.36 L51.80,604.99 L52.54,597.89 L53.38,588.43 L54.20,579.60 L54.96,571.89 L55.70,564.59 L56.50,558.78 L57.31,554.72 L58.17,552.12 L59.30,550.78 L59.99,550.68 L60.75,550.93 L61.57,551.55 L62.46,552.35 L63.44,553.30 L64.50,554.23 L65.25,554.82 L66.04,555.44 L66.86,556.21 L67.71,556.99 L68.60,557.75 L69.53,558.53 L70.51,559.46 L71.53,560.34 L72.60,561.18 L73.44,561.85 L74.31,562.58 L75.20,563.35 L76.13,564.14 L77.07,564.89 L78.04,565.70 L79.03,566.43 L80.04,567.24 L81.06,568.07 L82.10,568.86 L83.15,569.62 L84.20,570.42 L85.11,571.05 L86.01,571.69 L86.93,572.40 L87.85,573.05 L88.77,573.79 L89.71,574.45 L90.67,575.14 L91.64,575.83 L92.63,576.46 L93.65,577.14 L94.69,577.73 L95.76,578.45 L96.86,579.02 L98.00,579.65 L98.85,579.97 L99.71,580.42 L100.57,580.82 L101.44,581.15 L102.31,581.49 L103.20,581.85 L104.10,582.20 L105.02,582.60 L105.95,582.87 L106.90,583.27 L107.86,583.57 L108.85,583.92 L109.86,584.27 L110.90,584.61 L111.96,584.98 L113.05,585.34 L114.17,585.69 L115.32,586.12 L116.50,586.48 L117.34,586.81 L118.24,587.12 L119.18,587.43 L120.16,587.72 L121.18,588.10 L122.23,588.46 L123.31,588.77 L124.41,589.11 L125.52,589.50 L126.65,589.91 L127.79,590.20 L128.93,590.55 L130.07,590.96 L131.21,591.35 L132.33,591.72 L133.43,592.03 L134.51,592.44 L135.57,592.70 L136.59,593.08 L137.58,593.33 L138.53,593.63 L139.43,593.93 L140.28,594.19 L141.08,594.49 L141.81,594.73 L142.48,594.91 L143.08,595.17 L143.60,595.30" fill="none" stroke="#d84a6a" stroke-width="1.045" stroke-linejoin="round" stroke-linecap="round" opacity="1"/>
<path d="M40.00,518.57 L40.59,518.56 L41.40,518.65 L42.36,518.87 L43.43,519.03 L44.57,518.98 L45.72,519.02 L46.84,519.18 L47.87,519.00 L48.77,518.98 L49.50,518.60 L50.91,516.25 L51.59,513.02 L52.40,511.56 L53.14,511.92 L53.93,513.00 L54.77,514.75 L55.63,516.63 L56.50,519.05 L57.37,521.62 L58.25,524.94 L59.16,528.37 L60.10,531.97 L61.10,535.11 L61.99,537.88 L62.91,540.57 L63.88,543.37 L64.85,545.93 L65.83,548.21 L66.80,550.14 L67.72,551.77 L68.60,553.05 L69.48,554.14 L70.41,555.05 L71.44,555.98 L72.60,557.15 L73.39,557.83 L74.24,558.50 L75.14,559.38 L76.08,559.98 L77.05,560.79 L78.03,561.43 L79.01,562.27 L79.97,562.92 L80.91,563.41 L81.80,564.05 L82.65,564.57 L83.34,564.88 L83.93,565.24 L84.51,565.57 L85.16,565.93 L85.95,566.07 L86.97,566.50 L88.29,566.86 L90.00,567.29 L90.67,567.49 L91.38,567.74 L92.14,567.80 L92.94,568.14 L93.77,568.24 L94.65,568.54 L95.55,568.78 L96.49,568.87 L97.46,569.24 L98.45,569.51 L99.46,569.61 L100.49,569.79 L101.54,570.05 L102.60,570.47 L103.68,570.52 L104.76,570.94 L105.85,571.02 L106.94,571.38 L108.04,571.48 L109.13,571.72 L110.22,572.05 L111.30,572.15 L112.37,572.41 L113.43,572.73 L114.47,572.88 L115.50,573.10 L116.50,573.30 L117.47,573.27 L118.48,573.47 L119.52,573.74 L120.58,573.87 L121.66,573.90 L122.76,574.14 L123.87,574.23 L124.99,574.41 L126.12,574.49 L127.25,574.61 L128.37,574.94 L129.49,574.93 L130.61,575.17 L131.71,575.14 L132.79,575.34 L133.85,575.38 L134.89,575.55 L135.90,575.61 L136.87,575.81 L137.81,575.80 L138.72,576.02 L139.57,576.06 L140.39,576.07 L141.15,576.20 L141.85,576.30 L142.50,576.46 L143.08,576.41 L143.60,576.50" fill="none" stroke="#c8203c" stroke-width="1.2349999999999999" stroke-linejoin="round" stroke-linecap="round" opacity="1"/>
<path d="M40.00,518.35 L40.59,518.51 L41.40,518.58 L42.36,518.66 L43.43,518.71 L44.57,518.80 L45.72,518.88 L46.84,518.86 L47.87,518.79 L48.77,518.69 L49.50,518.39 L50.91,515.99 L51.59,512.73 L52.40,511.12 L53.14,511.70 L53.93,512.86 L54.77,514.56 L55.63,516.67 L56.50,519.03 L57.37,521.80 L58.25,524.99 L59.16,528.44 L60.10,531.89 L61.10,535.17 L61.99,537.85 L62.91,540.65 L63.88,543.24 L64.85,545.80 L65.83,548.15 L66.80,550.14 L67.72,551.95 L68.60,553.15 L69.48,554.40 L70.41,555.48 L71.44,556.38 L72.60,557.52 L73.39,558.19 L74.24,558.92 L75.14,559.68 L76.09,560.44 L77.06,561.30 L78.04,562.00 L79.01,562.66 L79.98,563.10 L80.91,563.67 L81.80,563.97 L82.75,564.28 L83.67,564.40 L84.58,564.38 L85.48,564.42 L86.36,564.13 L87.24,564.07 L88.12,563.88 L89.01,563.61 L89.90,563.41 L90.78,563.26 L91.63,562.87 L92.46,562.64 L93.29,562.32 L94.14,561.92 L95.02,561.61 L95.94,561.19 L96.93,560.85 L98.00,560.52 L98.83,560.27 L99.67,559.94 L100.52,559.72 L101.39,559.43 L102.29,559.09 L103.22,558.87 L104.19,558.54 L105.21,558.37 L106.28,558.03 L107.42,557.81 L108.62,557.54 L109.90,557.30 L110.72,557.12 L111.59,556.97 L112.50,556.96 L113.45,556.77 L114.43,556.63 L115.45,556.50 L116.48,556.42 L117.53,556.20 L118.60,556.07 L119.67,556.05 L120.75,555.88 L121.83,555.80 L122.89,555.72 L123.94,555.63 L124.98,555.53 L125.99,555.31 L126.97,555.28 L127.92,555.28 L128.83,555.21 L129.70,555.04 L130.91,554.98 L132.12,554.94 L133.32,554.89 L134.51,554.92 L135.67,554.99 L136.80,554.95 L137.89,554.95 L138.93,554.92 L139.90,554.99 L140.81,555.12 L141.65,555.09 L142.40,555.07 L143.05,555.09 L143.60,555.10" fill="none" stroke="#5e2a84" stroke-width="1.2349999999999999" stroke-linejoin="round" stroke-linecap="round" opacity="1"/>
<path d="M40.00,518.47 L40.59,518.49 L41.40,518.43 L42.36,518.67 L43.43,518.71 L44.57,518.85 L45.72,518.86 L46.84,518.90 L47.87,518.82 L48.77,518.66 L49.50,518.28 L50.89,515.87 L51.55,512.70 L52.40,511.09 L53.18,511.59 L54.03,512.82 L54.95,514.46 L55.94,516.87 L57.00,519.94 L57.83,522.95 L58.71,526.31 L59.65,530.40 L60.60,534.59 L61.56,538.50 L62.50,542.30 L63.40,545.57 L64.39,548.58 L65.34,551.18 L66.27,553.43 L67.21,555.61 L68.18,557.52 L69.20,559.45 L70.14,560.86 L71.13,562.27 L72.14,563.59 L73.17,564.78 L74.18,565.71 L75.17,566.64 L76.10,567.52 L77.09,568.43 L78.00,568.92 L78.88,569.63 L79.77,569.95 L80.72,570.12 L81.80,570.34 L82.59,570.29 L83.44,570.20 L84.32,570.28 L85.24,570.05 L86.17,569.89 L87.11,569.64 L88.05,569.44 L88.99,569.06 L89.90,568.49 L90.78,568.15 L91.63,567.56 L92.46,566.92 L93.29,566.33 L94.14,565.51 L95.02,564.80 L95.94,564.19 L96.93,563.41 L98.00,562.80 L98.83,562.36 L99.67,561.98 L100.52,561.49 L101.39,561.05 L102.29,560.53 L103.22,560.01 L104.19,559.74 L105.21,559.32 L106.28,559.00 L107.42,558.65 L108.62,558.18 L109.90,557.93 L110.72,557.75 L111.59,557.79 L112.50,557.49 L113.45,557.38 L114.43,557.43 L115.45,557.29 L116.48,557.08 L117.53,557.15 L118.60,557.08 L119.67,556.96 L120.75,556.81 L121.83,556.91 L122.89,556.80 L123.94,556.81 L124.98,556.88 L125.99,556.81 L126.97,556.81 L127.92,556.62 L128.83,556.66 L129.70,556.70 L130.91,556.60 L132.12,556.88 L133.32,556.78 L134.51,556.86 L135.67,556.98 L136.80,557.08 L137.89,557.35 L138.93,557.41 L139.90,557.53 L140.81,557.63 L141.65,557.65 L142.40,557.81 L143.05,558.03 L143.60,558.00" fill="none" stroke="#2bb3e6" stroke-width="1.14" stroke-linejoin="round" stroke-linecap="round" opacity="1"/>
<path d="M40.00,518.47 L40.59,518.52 L41.41,518.45 L42.39,518.55 L43.49,518.62 L44.64,518.84 L45.79,518.87 L46.89,518.90 L47.87,518.84 L48.70,518.70 L49.30,518.37 L49.92,514.62 L49.50,511.43 L49.89,514.84 L50.50,518.01 L51.19,514.27 L52.40,511.16 L53.07,511.90 L53.87,513.24 L54.76,515.12 L55.70,517.16 L56.66,519.29 L57.60,521.37 L58.52,523.11 L59.45,525.16 L60.39,527.17 L61.36,529.10 L62.36,530.98 L63.40,532.90 L64.32,534.25 L65.26,535.78 L66.22,536.96 L67.20,538.38 L68.21,539.72 L69.24,540.81 L70.30,542.19 L71.14,542.89 L72.00,543.87 L72.87,544.61 L73.76,545.59 L74.66,546.28 L75.57,547.08 L76.50,547.71 L77.45,548.42 L78.40,549.04 L79.27,549.48 L80.15,549.96 L81.04,550.58 L81.94,550.86 L82.86,551.46 L83.78,551.67 L84.72,552.00 L85.67,552.33 L86.63,552.79 L87.60,553.11 L88.47,553.21 L89.31,553.48 L90.13,553.58 L90.95,553.91 L91.79,554.00 L92.66,554.00 L93.57,554.07 L94.55,554.28 L95.60,554.15 L96.75,554.33 L98.00,554.15 L98.77,554.08 L99.56,554.09 L100.38,553.93 L101.21,553.87 L102.07,553.65 L102.95,553.68 L103.85,553.39 L104.78,553.34 L105.72,553.01 L106.69,552.98 L107.69,552.84 L108.71,552.52 L109.75,552.25 L110.81,552.15 L111.90,552.04 L113.01,551.77 L114.15,551.69 L115.31,551.44 L116.50,551.39 L117.34,551.37 L118.24,551.21 L119.18,551.18 L120.16,550.96 L121.18,551.05 L122.23,550.79 L123.31,550.90 L124.41,550.83 L125.52,550.73 L126.65,550.55 L127.79,550.41 L128.93,550.35 L130.07,550.36 L131.21,550.22 L132.33,550.25 L133.43,549.98 L134.51,550.00 L135.57,550.02 L136.59,549.89 L137.58,549.81 L138.53,549.64 L139.43,549.60 L140.28,549.57 L141.08,549.67 L141.81,549.61 L142.48,549.41 L143.08,549.54 L143.60,549.40" fill="none" stroke="#3c4a5a" stroke-width="1.14" stroke-linejoin="round" stroke-linecap="round" opacity="1"/>
<path d="M42.00,520.66 L42.56,520.74 L43.34,520.86 L44.27,520.89 L45.29,521.04 L46.33,521.06 L47.34,520.99 L48.25,520.91 L49.00,520.70 L50.11,519.70 L50.96,518.33 L51.67,516.87 L52.40,516.03 L53.30,515.54 L54.14,515.68 L55.30,516.71 L56.09,517.61 L57.00,518.95 L57.99,520.48 L59.02,522.03 L60.07,523.51 L61.10,524.76 L61.96,525.81 L62.83,526.81 L63.70,527.87 L64.59,528.74 L65.50,529.53 L66.43,530.04 L67.40,530.29 L68.27,530.24 L69.15,529.87 L70.05,529.35 L70.96,528.77 L71.90,527.98 L72.87,527.28 L73.87,526.56 L74.90,525.90 L75.74,525.40 L76.57,524.90 L77.42,524.47 L78.27,523.88 L79.16,523.41 L80.07,522.92 L81.02,522.41 L82.02,522.02 L83.08,521.60 L84.20,521.30 L84.97,521.10 L85.66,520.90 L86.29,520.71 L86.89,520.58 L87.49,520.42 L88.13,520.30 L88.83,520.21 L89.62,520.18 L90.54,520.07 L91.61,520.05 L92.86,519.92 L94.32,519.97 L96.02,519.91 L98.00,519.93 L98.67,519.91 L99.39,519.92 L100.16,519.88 L100.97,519.94 L101.82,519.90 L102.72,519.92 L103.65,519.92 L104.61,519.97 L105.61,520.01 L106.64,520.01 L107.70,520.09 L108.78,520.04 L109.88,520.12 L111.01,520.11 L112.15,520.18 L113.31,520.23 L114.48,520.26 L115.66,520.23 L116.86,520.29 L118.05,520.36 L119.26,520.43 L120.46,520.38 L121.66,520.47 L122.86,520.52 L124.06,520.57 L125.24,520.57 L126.42,520.65 L127.58,520.66 L128.73,520.74 L129.86,520.69 L130.97,520.82 L132.06,520.80 L133.12,520.84 L134.15,520.85 L135.16,520.90 L136.13,520.98 L137.07,521.00 L137.98,520.98 L138.84,521.03 L139.67,521.04 L140.44,521.07 L141.18,521.10 L141.86,521.13 L142.50,521.21 L143.08,521.23 L143.60,521.20" fill="none" stroke="#c8843c" stroke-width="1.14" stroke-linejoin="round" stroke-linecap="round" opacity="1"/>
<line x1="42.00" y1="519.50" x2="42.00" y2="603.50" stroke="#f5a02a" stroke-width="1.8"/>
</svg>
<rect x="40.40" y="506.40" width="103.70" height="114.60" fill="none" stroke="#000" stroke-width="1.3" />
<line x1="50.30" y1="621.00" x2="50.30" y2="624.20" stroke="#231f20" stroke-width="1"/>
<text x="50.30" y="635.40" font-size="9.8" fill="#231f20" stroke="#231f20" stroke-width="0.3" text-anchor="middle" font-weight="normal" >0</text>
<line x1="71.00" y1="621.00" x2="71.00" y2="624.20" stroke="#231f20" stroke-width="1"/>
<text x="71.00" y="635.40" font-size="9.8" fill="#231f20" stroke="#231f20" stroke-width="0.3" text-anchor="middle" font-weight="normal" >1</text>
<line x1="91.70" y1="621.00" x2="91.70" y2="624.20" stroke="#231f20" stroke-width="1"/>
<text x="91.70" y="635.40" font-size="9.8" fill="#231f20" stroke="#231f20" stroke-width="0.3" text-anchor="middle" font-weight="normal" >2</text>
<line x1="112.40" y1="621.00" x2="112.40" y2="624.20" stroke="#231f20" stroke-width="1"/>
<text x="112.40" y="635.40" font-size="9.8" fill="#231f20" stroke="#231f20" stroke-width="0.3" text-anchor="middle" font-weight="normal" >3</text>
<line x1="133.10" y1="621.00" x2="133.10" y2="624.20" stroke="#231f20" stroke-width="1"/>
<text x="133.10" y="635.40" font-size="9.8" fill="#231f20" stroke="#231f20" stroke-width="0.3" text-anchor="middle" font-weight="normal" >4</text>
<text x="92.75" y="649.40" font-size="10.5" fill="#231f20" stroke="#231f20" stroke-width="0.3" text-anchor="middle" font-weight="normal" textLength="42" lengthAdjust="spacingAndGlyphs" >Time (min)</text>
<text x="0" y="0" font-size="10.2" fill="#231f20" stroke="#231f20" stroke-width="0.3" text-anchor="middle" transform="translate(28.5,564.00) rotate(-90)" textLength="56.5" lengthAdjust="spacingAndGlyphs">% Aggregation</text>
<line x1="37.00" y1="607.70" x2="40.40" y2="607.70" stroke="#231f20" stroke-width="1"/>
<text x="34.80" y="611.10" font-size="9.8" fill="#231f20" stroke="#231f20" stroke-width="0.3" text-anchor="end" font-weight="normal" textLength="14.4" lengthAdjust="spacingAndGlyphs" >100</text>
<line x1="52.00" y1="527.50" x2="52.00" y2="547.30" stroke="#000" stroke-width="1.2"/>
<path d="M49.70,529.00 L52.00,523.50 L54.30,529.00 Z" fill="#000"/>
<text x="92.70" y="516.90" font-size="9.5" fill="#231f20" stroke="#231f20" stroke-width="0.3" text-anchor="start" font-weight="normal" textLength="44.5" lengthAdjust="spacingAndGlyphs" >ERp46-null</text>
<text x="148.70" y="549.90" font-size="9.5" fill="#231f20" stroke="#231f20" stroke-width="0.3" text-anchor="start" font-weight="normal" textLength="33" lengthAdjust="spacingAndGlyphs" >aa-cc-cc</text>
<text x="148.70" y="556.90" font-size="9.5" fill="#231f20" stroke="#231f20" stroke-width="0.3" text-anchor="start" font-weight="normal" textLength="33" lengthAdjust="spacingAndGlyphs" >cc-cc-aa</text>
<text x="148.70" y="563.80" font-size="9.5" fill="#231f20" stroke="#231f20" stroke-width="0.3" text-anchor="start" font-weight="normal" textLength="33" lengthAdjust="spacingAndGlyphs" >cc-aa-cc</text>
<text x="148.70" y="579.92" font-size="9.5" fill="#231f20" stroke="#231f20" stroke-width="0.3" textLength="26" lengthAdjust="spacingAndGlyphs">ERp46</text>
<text x="175.10" y="576.52" font-size="7.03" fill="#231f20" stroke="#231f20" stroke-width="0.04" textLength="9" lengthAdjust="spacingAndGlyphs">fl/fl</text>
<line x1="149.90" y1="587.80" x2="149.90" y2="609.40" stroke="#231f20" stroke-width="1.1"/>
<line x1="147.70" y1="587.80" x2="152.10" y2="587.80" stroke="#231f20" stroke-width="1.1"/>
<line x1="147.70" y1="609.40" x2="152.10" y2="609.40" stroke="#231f20" stroke-width="1.1"/>
<text x="154.20" y="598.10" font-size="10" fill="#231f20" stroke="#231f20" stroke-width="0.3" text-anchor="start" font-weight="normal" textLength="41.5" lengthAdjust="spacingAndGlyphs" >0.5 nmole</text>
<text x="166.30" y="608.40" font-size="10" fill="#231f20" stroke="#231f20" stroke-width="0.3" text-anchor="start" font-weight="normal" textLength="17.5" lengthAdjust="spacingAndGlyphs" >ATP</text>
<text x="9.30" y="664.70" font-size="13.2" fill="#000" stroke="#000" stroke-width="0.08" text-anchor="start" font-weight="bold" textLength="6.8" lengthAdjust="spacingAndGlyphs" >F</text>
<text x="36.90" y="673.70" font-size="11.3" fill="#231f20" stroke="#231f20" stroke-width="0.08" text-anchor="start" font-weight="normal" textLength="111.5" lengthAdjust="spacingAndGlyphs" >Thrombin (0.015 U/ml)</text>
<svg x="40.4" y="678.1" width="103.69999999999999" height="114.79999999999995" viewBox="40.4 678.1 103.69999999999999 114.79999999999995" overflow="hidden">
<path d="M42.00,777.55 L42.57,777.48 L43.37,777.43 L44.32,777.42 L45.37,777.37 L46.47,777.30 L47.53,777.26 L48.52,777.22 L49.36,777.37 L50.00,777.56 L51.08,779.43 L51.30,780.93 L51.81,780.15 L52.50,778.78 L52.78,778.62 L53.23,778.87 L55.30,778.83 L55.89,778.81 L56.54,778.67 L57.25,778.74 L58.01,778.71 L58.83,778.65 L59.69,778.57 L60.60,778.52 L61.55,778.45 L62.54,778.35 L63.56,778.26 L64.61,778.25 L65.70,778.18 L66.80,778.12 L67.93,777.95 L69.08,777.99 L70.24,777.85 L71.42,777.84 L72.60,777.64 L73.42,777.72 L74.23,777.64 L75.04,777.49 L75.86,777.53 L76.67,777.36 L77.49,777.29 L78.32,777.26 L79.15,777.15 L79.99,777.12 L80.85,777.11 L81.72,777.00 L82.61,776.94 L83.52,776.81 L84.45,776.81 L85.40,776.74 L86.38,776.66 L87.38,776.65 L88.41,776.57 L89.48,776.45 L90.58,776.36 L91.71,776.41 L92.89,776.41 L94.10,776.30 L95.36,776.33 L96.65,776.35 L98.00,776.35 L98.79,776.22 L99.63,776.31 L100.50,776.24 L101.40,776.27 L102.34,776.40 L103.31,776.36 L104.30,776.41 L105.33,776.41 L106.37,776.42 L107.45,776.43 L108.54,776.49 L109.65,776.60 L110.77,776.60 L111.91,776.58 L113.07,776.59 L114.23,776.66 L115.40,776.77 L116.58,776.77 L117.76,776.85 L118.94,776.92 L120.13,776.86 L121.31,776.99 L122.49,776.94 L123.66,777.11 L124.82,777.06 L125.98,777.12 L127.12,777.28 L128.25,777.23 L129.36,777.25 L130.45,777.41 L131.53,777.41 L132.58,777.50 L133.60,777.46 L134.60,777.52 L135.57,777.64 L136.52,777.60 L137.42,777.72 L138.30,777.63 L139.14,777.77 L139.93,777.69 L140.69,777.78 L141.41,777.73 L142.08,777.78 L142.70,777.93 L143.28,777.87 L143.80,777.90" fill="none" stroke="#4a78b0" stroke-width="0.95" stroke-linejoin="round" stroke-linecap="round" opacity="1"/>
<path d="M42.00,777.13 L42.55,777.07 L43.30,777.08 L44.19,777.05 L45.17,777.08 L46.21,777.11 L47.26,777.07 L48.27,777.06 L49.20,777.12 L50.00,777.14 L50.86,777.19 L51.42,777.26 L51.90,777.44 L52.51,777.53 L53.47,777.62 L55.00,777.49 L55.67,777.46 L56.44,777.40 L57.27,777.31 L58.18,777.25 L59.14,777.18 L60.16,777.12 L61.21,776.98 L62.29,776.86 L63.39,776.81 L64.50,776.60 L65.61,776.55 L66.71,776.40 L67.79,776.24 L68.85,776.08 L69.87,775.95 L70.84,775.79 L71.75,775.60 L72.60,775.42 L73.77,775.06 L74.86,774.76 L75.87,774.39 L76.83,774.10 L77.75,773.70 L78.64,773.22 L79.51,772.85 L80.39,772.43 L81.29,771.97 L82.21,771.59 L83.18,771.22 L84.20,770.81 L85.13,770.44 L86.10,770.13 L87.11,769.72 L88.15,769.38 L89.20,768.99 L90.25,768.67 L91.31,768.27 L92.36,767.93 L93.39,767.57 L94.40,767.22 L95.37,766.97 L96.30,766.67 L97.18,766.43 L98.00,766.18 L99.00,765.89 L99.63,765.69 L100.06,765.51 L100.42,765.35 L100.85,765.21 L101.50,765.15 L102.51,765.22 L104.03,765.36 L106.20,765.47 L106.84,765.58 L107.53,765.59 L108.29,765.69 L109.11,765.75 L109.97,765.87 L110.89,765.98 L111.84,766.14 L112.84,766.26 L113.88,766.31 L114.95,766.45 L116.06,766.65 L117.18,766.72 L118.33,766.87 L119.50,767.03 L120.69,767.15 L121.89,767.32 L123.09,767.48 L124.30,767.64 L125.51,767.85 L126.72,767.94 L127.92,768.09 L129.11,768.31 L130.29,768.43 L131.45,768.61 L132.59,768.75 L133.70,768.91 L134.79,769.00 L135.84,769.13 L136.86,769.32 L137.84,769.42 L138.77,769.55 L139.66,769.68 L140.50,769.80 L141.28,769.85 L142.01,769.96 L142.67,770.10 L143.27,770.14 L143.80,770.20" fill="none" stroke="#a8dcae" stroke-width="1.045" stroke-linejoin="round" stroke-linecap="round" opacity="1"/>
<path d="M42.00,779.37 L42.57,779.41 L43.37,779.32 L44.32,779.37 L45.37,779.21 L46.47,779.31 L47.53,779.26 L48.52,779.24 L49.36,779.38 L50.00,779.36 L50.92,780.57 L51.30,781.43 L51.73,781.21 L52.13,780.58 L53.04,779.76 L55.00,778.99 L55.64,778.92 L56.38,778.69 L57.20,778.62 L58.09,778.57 L59.05,778.53 L60.06,778.39 L61.11,778.31 L62.20,778.23 L63.31,778.08 L64.43,778.06 L65.55,777.91 L66.66,777.72 L67.76,777.58 L68.83,777.47 L69.85,777.21 L70.83,776.97 L71.75,776.83 L72.60,776.51 L73.79,776.02 L74.92,775.48 L76.01,774.89 L77.04,774.08 L78.04,773.39 L79.00,772.60 L79.93,771.90 L80.82,771.16 L81.69,770.49 L82.54,769.76 L83.38,769.10 L84.20,768.48 L85.26,767.79 L86.26,767.04 L87.21,766.47 L88.12,765.82 L88.99,765.24 L89.83,764.58 L90.64,764.16 L91.43,763.73 L92.20,763.30 L93.30,762.92 L94.31,762.62 L95.26,762.41 L96.17,762.31 L97.08,762.21 L98.00,762.16 L98.84,761.96 L99.56,762.02 L100.28,762.01 L101.09,762.02 L102.13,762.01 L103.50,762.03 L104.18,762.14 L104.88,762.18 L105.61,762.10 L106.36,762.09 L107.15,762.09 L107.98,762.08 L108.86,762.18 L109.80,762.26 L110.79,762.27 L111.86,762.27 L112.99,762.40 L114.21,762.42 L115.51,762.68 L116.90,762.77 L117.68,762.83 L118.53,763.05 L119.44,763.11 L120.41,763.29 L121.43,763.42 L122.49,763.66 L123.58,763.86 L124.71,764.09 L125.86,764.17 L127.03,764.50 L128.22,764.60 L129.41,764.83 L130.59,765.11 L131.78,765.28 L132.95,765.49 L134.10,765.74 L135.23,765.89 L136.33,766.18 L137.39,766.28 L138.40,766.57 L139.37,766.74 L140.28,766.87 L141.13,766.94 L141.92,767.21 L142.63,767.22 L143.26,767.40 L143.80,767.50" fill="none" stroke="#8a5aaa" stroke-width="1.045" stroke-linejoin="round" stroke-linecap="round" opacity="1"/>
<path d="M42.00,779.39 L42.55,779.36 L43.30,779.42 L44.19,779.44 L45.17,779.43 L46.21,779.42 L47.26,779.43 L48.27,779.44 L49.20,779.39 L50.00,779.44 L50.89,779.44 L51.51,779.44 L52.04,779.47 L52.68,779.37 L53.61,779.30 L55.00,778.96 L55.69,778.87 L56.47,778.69 L57.33,778.57 L58.27,778.42 L59.26,778.24 L60.30,778.03 L61.37,777.81 L62.46,777.58 L63.55,777.37 L64.64,777.11 L65.70,776.85 L66.74,776.63 L67.73,776.33 L68.66,776.02 L69.52,775.69 L70.30,775.42 L71.52,774.76 L72.58,774.11 L73.53,773.44 L74.39,772.71 L75.20,771.96 L75.97,771.12 L76.74,770.30 L77.54,769.43 L78.40,768.52 L79.31,767.56 L80.22,766.44 L81.14,765.33 L82.07,764.16 L82.98,763.10 L83.89,761.97 L84.78,760.93 L85.65,759.96 L86.50,759.19 L87.54,758.35 L88.54,757.74 L89.51,757.26 L90.47,756.77 L91.43,756.39 L92.40,756.08 L93.40,755.79 L94.24,755.57 L95.01,755.32 L95.76,755.08 L96.53,754.87 L97.37,754.75 L98.33,754.67 L99.46,754.70 L100.80,754.70 L101.50,754.78 L102.23,754.81 L102.98,754.85 L103.76,754.88 L104.57,754.99 L105.40,755.00 L106.27,755.10 L107.17,755.24 L108.10,755.35 L109.07,755.45 L110.07,755.59 L111.11,755.72 L112.18,755.97 L113.30,756.12 L114.46,756.33 L115.66,756.53 L116.90,756.69 L117.73,756.87 L118.62,756.99 L119.56,757.21 L120.56,757.40 L121.59,757.53 L122.67,757.73 L123.78,757.97 L124.91,758.23 L126.06,758.44 L127.23,758.64 L128.41,758.95 L129.59,759.19 L130.77,759.40 L131.94,759.60 L133.10,759.92 L134.23,760.12 L135.35,760.31 L136.43,760.56 L137.47,760.80 L138.47,761.04 L139.42,761.20 L140.32,761.40 L141.16,761.53 L141.93,761.69 L142.63,761.90 L143.26,761.98 L143.80,762.10" fill="none" stroke="#d2506e" stroke-width="1.045" stroke-linejoin="round" stroke-linecap="round" opacity="1"/>
<path d="M42.00,777.06 L42.54,777.12 L43.25,777.10 L44.09,777.13 L45.03,777.19 L46.03,777.22 L47.07,777.24 L48.10,777.23 L49.08,777.17 L50.00,777.06 L50.97,777.03 L51.94,776.87 L52.91,776.81 L53.87,776.67 L54.82,776.51 L55.76,776.25 L56.69,775.85 L57.60,775.41 L58.62,774.76 L59.62,773.97 L60.60,773.08 L61.57,772.18 L62.54,771.06 L63.52,769.79 L64.50,768.47 L65.37,767.25 L66.25,765.76 L67.12,764.25 L68.00,762.68 L68.88,761.02 L69.75,759.29 L70.63,757.56 L71.50,755.76 L72.50,753.67 L73.51,751.51 L74.52,749.17 L75.53,746.78 L76.51,744.56 L77.47,742.54 L78.40,740.84 L79.43,739.03 L80.42,737.57 L81.38,736.30 L82.31,735.15 L83.25,734.20 L84.20,733.28 L85.13,732.55 L86.02,732.00 L86.91,731.67 L87.83,731.33 L88.81,731.21 L89.90,731.02 L90.64,730.88 L91.33,730.87 L92.02,730.76 L92.74,730.78 L93.53,730.78 L94.41,730.92 L95.43,731.07 L96.61,731.27 L98.00,731.45 L98.73,731.69 L99.49,731.83 L100.30,732.04 L101.13,732.20 L102.00,732.43 L102.90,732.65 L103.83,732.91 L104.79,733.09 L105.77,733.35 L106.78,733.67 L107.82,733.92 L108.89,734.23 L109.97,734.49 L111.08,734.87 L112.21,735.12 L113.35,735.52 L114.52,735.85 L115.70,736.15 L116.90,736.46 L117.78,736.77 L118.71,736.99 L119.69,737.30 L120.71,737.57 L121.77,737.97 L122.86,738.25 L123.97,738.57 L125.11,738.88 L126.27,739.29 L127.44,739.66 L128.61,740.01 L129.78,740.29 L130.95,740.67 L132.11,741.02 L133.25,741.41 L134.37,741.69 L135.47,742.07 L136.53,742.43 L137.56,742.72 L138.54,742.95 L139.48,743.24 L140.36,743.52 L141.19,743.82 L141.95,744.05 L142.64,744.25 L143.26,744.43 L143.80,744.60" fill="none" stroke="#f7941d" stroke-width="1.045" stroke-linejoin="round" stroke-linecap="round" opacity="1"/>
<path d="M40.40,688.68 L40.97,688.74 L41.72,688.78 L42.61,688.89 L43.60,688.92 L44.68,689.00 L45.81,689.08 L46.95,689.10 L48.07,689.09 L49.15,688.94 L50.16,689.01 L51.05,688.93 L51.80,688.69 L53.17,688.01 L54.17,686.72 L54.95,685.64 L55.67,684.51 L56.50,684.04 L57.41,683.89 L58.29,684.12 L59.19,684.67 L60.11,685.59 L61.10,686.92 L61.92,688.56 L62.70,690.63 L63.51,692.81 L64.42,695.29 L65.50,697.76 L66.80,700.27 L67.56,701.56 L68.39,702.84 L69.29,704.13 L70.23,705.54 L71.22,707.01 L72.24,708.38 L73.27,709.86 L74.32,711.40 L75.37,712.77 L76.40,713.97 L77.42,715.30 L78.40,716.45 L79.37,717.56 L80.36,718.57 L81.36,719.51 L82.36,720.37 L83.37,721.41 L84.36,722.18 L85.35,723.07 L86.31,723.82 L87.26,724.62 L88.18,725.46 L89.06,726.02 L89.90,726.81 L90.90,727.72 L91.74,728.52 L92.49,729.35 L93.19,729.96 L93.91,730.73 L94.70,731.33 L95.63,732.02 L96.74,732.47 L98.10,733.14 L98.83,733.47 L99.59,733.90 L100.39,734.02 L101.22,734.37 L102.08,734.75 L102.98,735.10 L103.90,735.23 L104.85,735.57 L105.83,735.90 L106.84,736.19 L107.87,736.48 L108.92,736.76 L110.00,736.93 L111.10,737.21 L112.23,737.43 L113.37,737.84 L114.53,738.01 L115.71,738.29 L116.90,738.69 L117.77,738.82 L118.70,739.00 L119.68,739.21 L120.70,739.40 L121.76,739.62 L122.85,739.74 L123.97,739.90 L125.11,740.10 L126.26,740.30 L127.43,740.57 L128.60,740.72 L129.78,740.92 L130.94,741.19 L132.10,741.48 L133.24,741.61 L134.37,741.71 L135.46,741.99 L136.53,742.04 L137.55,742.19 L138.54,742.39 L139.47,742.57 L140.36,742.77 L141.19,742.85 L141.95,743.03 L142.64,743.02 L143.26,743.29 L143.80,743.30" fill="none" stroke="#c8203c" stroke-width="1.2349999999999999" stroke-linejoin="round" stroke-linecap="round" opacity="1"/>
<path d="M40.40,688.87 L40.97,688.98 L41.72,688.86 L42.61,689.08 L43.60,689.03 L44.68,689.22 L45.81,689.27 L46.95,689.28 L48.07,689.22 L49.15,689.15 L50.16,689.12 L51.05,689.15 L51.80,688.83 L53.17,688.14 L54.17,686.93 L54.96,685.66 L55.68,684.49 L56.50,683.93 L57.39,683.88 L58.25,684.32 L59.12,684.79 L60.02,685.76 L61.00,687.01 L61.82,688.34 L62.62,690.01 L63.46,691.94 L64.39,694.21 L65.48,696.24 L66.80,698.59 L67.56,699.59 L68.40,700.84 L69.29,701.94 L70.24,703.33 L71.23,704.50 L72.24,705.81 L73.28,707.12 L74.33,708.29 L75.37,709.54 L76.41,710.82 L77.42,711.83 L78.40,712.88 L79.36,713.92 L80.30,714.74 L81.23,715.63 L82.16,716.48 L83.09,717.34 L84.03,718.12 L84.96,718.92 L85.91,719.61 L86.88,720.38 L87.86,720.87 L88.87,721.63 L89.90,722.27 L90.79,722.63 L91.68,723.04 L92.56,723.54 L93.44,723.86 L94.34,724.28 L95.24,724.67 L96.16,724.87 L97.11,725.18 L98.08,725.56 L99.08,725.79 L100.12,726.10 L101.20,726.45 L102.32,726.70 L103.50,727.01 L104.32,727.30 L105.16,727.56 L106.03,727.89 L106.92,728.06 L107.83,728.21 L108.77,728.49 L109.71,728.85 L110.68,729.06 L111.65,729.37 L112.64,729.63 L113.64,729.85 L114.64,729.93 L115.64,730.32 L116.65,730.45 L117.66,730.60 L118.67,730.78 L119.67,731.10 L120.67,731.14 L121.66,731.27 L122.63,731.44 L123.60,731.68 L124.58,731.69 L125.60,731.82 L126.66,731.75 L127.74,731.87 L128.84,731.87 L129.95,731.87 L131.07,731.97 L132.20,731.90 L133.31,731.84 L134.41,731.99 L135.49,731.86 L136.55,731.77 L137.57,731.70 L138.56,731.80 L139.50,731.73 L140.38,731.60 L141.21,731.66 L141.97,731.69 L142.66,731.63 L143.27,731.55 L143.80,731.60" fill="none" stroke="#5e2a84" stroke-width="1.2349999999999999" stroke-linejoin="round" stroke-linecap="round" opacity="1"/>
<path d="M40.40,688.70 L40.97,688.77 L41.72,688.88 L42.61,688.97 L43.60,689.19 L44.68,689.36 L45.81,689.50 L46.95,689.64 L48.07,689.69 L49.15,689.80 L50.16,689.72 L51.05,689.64 L51.80,689.51 L53.08,688.54 L53.89,686.84 L54.54,685.14 L55.31,683.82 L56.50,683.49 L57.22,683.71 L58.01,684.17 L58.87,684.86 L59.78,685.62 L60.73,686.54 L61.71,687.46 L62.72,688.49 L63.75,689.43 L64.77,690.51 L65.79,691.35 L66.80,692.20 L67.72,692.90 L68.66,693.64 L69.61,694.29 L70.57,695.02 L71.55,695.68 L72.53,696.32 L73.51,697.05 L74.49,697.65 L75.48,698.38 L76.46,698.96 L77.43,699.57 L78.40,700.24 L79.36,700.77 L80.30,701.36 L81.23,701.91 L82.16,702.49 L83.09,702.97 L84.03,703.53 L84.96,704.03 L85.91,704.61 L86.88,705.04 L87.86,705.60 L88.87,706.07 L89.90,706.60 L90.79,707.04 L91.68,707.48 L92.56,707.85 L93.44,708.29 L94.34,708.70 L95.24,709.20 L96.16,709.54 L97.11,709.94 L98.08,710.38 L99.08,710.79 L100.12,711.21 L101.20,711.51 L102.32,711.91 L103.50,712.27 L104.32,712.55 L105.16,712.79 L106.03,713.03 L106.92,713.33 L107.83,713.56 L108.77,713.83 L109.71,714.09 L110.68,714.27 L111.65,714.58 L112.64,714.77 L113.64,714.97 L114.64,715.28 L115.64,715.42 L116.65,715.62 L117.66,715.84 L118.67,716.03 L119.67,716.27 L120.67,716.43 L121.66,716.54 L122.63,716.68 L123.60,716.83 L124.58,716.93 L125.60,717.00 L126.66,717.06 L127.74,717.07 L128.84,717.12 L129.95,717.19 L131.07,717.20 L132.20,717.23 L133.31,717.24 L134.41,717.23 L135.49,717.14 L136.55,717.11 L137.57,717.17 L138.56,717.11 L139.50,717.05 L140.38,717.08 L141.21,717.01 L141.97,716.99 L142.66,716.99 L143.27,717.00 L143.80,717.00" fill="none" stroke="#3bb44a" stroke-width="1.2349999999999999" stroke-linejoin="round" stroke-linecap="round" opacity="1"/>
<path d="M40.40,690.42 L40.97,690.38 L41.72,690.50 L42.61,690.56 L43.60,690.63 L44.68,690.74 L45.81,690.83 L46.95,690.81 L48.07,690.87 L49.15,690.87 L50.16,690.79 L51.05,690.64 L51.80,690.37 L53.17,689.29 L54.17,687.46 L54.95,685.55 L55.67,684.22 L56.50,684.04 L57.41,685.09 L58.29,687.17 L59.19,689.90 L60.11,692.81 L61.10,695.57 L61.99,697.93 L62.91,700.33 L63.88,702.90 L64.85,705.50 L65.83,708.02 L66.80,710.57 L67.76,713.11 L68.73,715.70 L69.69,718.27 L70.66,720.82 L71.63,723.29 L72.60,725.59 L73.57,727.74 L74.53,729.90 L75.50,731.95 L76.47,733.81 L77.43,735.56 L78.40,737.22 L79.37,738.64 L80.34,739.90 L81.31,741.09 L82.27,742.10 L83.24,743.15 L84.20,744.07 L85.13,745.00 L86.02,745.89 L86.91,746.64 L87.83,747.37 L88.81,748.04 L89.90,748.71 L90.71,749.17 L91.59,749.64 L92.52,750.00 L93.48,750.48 L94.45,750.84 L95.40,751.22 L96.33,751.63 L97.20,751.93 L98.00,752.23 L98.90,752.54 L99.49,752.68 L100.00,752.74 L100.68,752.83 L101.77,753.07 L103.50,753.42 L104.14,753.51 L104.84,753.64 L105.60,753.79 L106.42,753.98 L107.27,754.21 L108.18,754.34 L109.11,754.56 L110.09,754.77 L111.09,755.02 L112.11,755.26 L113.15,755.39 L114.21,755.61 L115.28,755.91 L116.35,756.13 L117.42,756.26 L118.49,756.48 L119.55,756.70 L120.60,756.87 L121.62,757.06 L122.62,757.24 L123.60,757.38 L124.58,757.51 L125.60,757.66 L126.66,757.82 L127.74,757.95 L128.84,758.15 L129.95,758.29 L131.07,758.38 L132.20,758.57 L133.31,758.69 L134.41,758.77 L135.49,758.91 L136.55,758.99 L137.57,759.17 L138.56,759.24 L139.50,759.29 L140.38,759.40 L141.21,759.53 L141.97,759.59 L142.66,759.69 L143.27,759.71 L143.80,759.80" fill="none" stroke="#f7941d" stroke-width="1.14" stroke-linejoin="round" stroke-linecap="round" opacity="1"/>
<path d="M40.40,688.74 L40.97,688.76 L41.72,688.73 L42.61,688.86 L43.60,688.90 L44.68,689.05 L45.81,689.14 L46.95,689.19 L48.07,689.14 L49.15,689.10 L50.16,689.09 L51.05,688.93 L51.80,688.66 L53.08,687.55 L53.89,685.89 L54.54,684.03 L55.31,682.73 L56.50,682.27 L57.22,682.51 L58.01,682.99 L58.87,683.67 L59.78,684.50 L60.73,685.34 L61.71,686.42 L62.72,687.38 L63.75,688.40 L64.77,689.41 L65.79,690.28 L66.80,691.01 L67.72,691.64 L68.66,692.13 L69.61,692.70 L70.57,693.28 L71.55,693.74 L72.53,694.22 L73.51,694.70 L74.49,695.22 L75.48,695.66 L76.46,696.06 L77.43,696.48 L78.40,696.84 L79.36,697.13 L80.30,697.46 L81.23,697.81 L82.16,698.02 L83.09,698.35 L84.03,698.53 L84.96,698.75 L85.91,699.02 L86.88,699.17 L87.86,699.44 L88.87,699.60 L89.90,699.70 L90.79,699.78 L91.68,699.88 L92.56,700.02 L93.44,700.11 L94.34,700.17 L95.24,700.28 L96.16,700.30 L97.11,700.37 L98.08,700.31 L99.08,700.31 L100.12,700.33 L101.20,700.32 L102.32,700.24 L103.50,700.22 L104.32,700.11 L105.16,700.04 L106.03,699.96 L106.92,699.88 L107.83,699.77 L108.77,699.59 L109.71,699.46 L110.68,699.38 L111.65,699.22 L112.64,699.03 L113.64,698.81 L114.64,698.69 L115.64,698.56 L116.65,698.36 L117.66,698.18 L118.67,698.15 L119.67,698.00 L120.67,697.77 L121.66,697.70 L122.63,697.61 L123.60,697.48 L124.58,697.37 L125.60,697.37 L126.66,697.30 L127.74,697.20 L128.84,697.09 L129.95,697.07 L131.07,696.98 L132.20,697.04 L133.31,696.89 L134.41,696.87 L135.49,696.90 L136.55,696.78 L137.57,696.75 L138.56,696.72 L139.50,696.70 L140.38,696.72 L141.21,696.73 L141.97,696.63 L142.66,696.60 L143.27,696.65 L143.80,696.60" fill="none" stroke="#2b5c97" stroke-width="1.2349999999999999" stroke-linejoin="round" stroke-linecap="round" opacity="1"/>
<line x1="42.40" y1="690.00" x2="42.40" y2="781.00" stroke="#8fd39c" stroke-width="2.0"/>
</svg>
<rect x="40.40" y="678.10" width="103.70" height="114.80" fill="none" stroke="#000" stroke-width="1.3" />
<line x1="50.60" y1="792.90" x2="50.60" y2="796.10" stroke="#231f20" stroke-width="1"/>
<text x="50.60" y="807.30" font-size="9.8" fill="#231f20" stroke="#231f20" stroke-width="0.3" text-anchor="middle" font-weight="normal" >0</text>
<line x1="71.30" y1="792.90" x2="71.30" y2="796.10" stroke="#231f20" stroke-width="1"/>
<text x="71.30" y="807.30" font-size="9.8" fill="#231f20" stroke="#231f20" stroke-width="0.3" text-anchor="middle" font-weight="normal" >1</text>
<line x1="92.00" y1="792.90" x2="92.00" y2="796.10" stroke="#231f20" stroke-width="1"/>
<text x="92.00" y="807.30" font-size="9.8" fill="#231f20" stroke="#231f20" stroke-width="0.3" text-anchor="middle" font-weight="normal" >2</text>
<line x1="112.70" y1="792.90" x2="112.70" y2="796.10" stroke="#231f20" stroke-width="1"/>
<text x="112.70" y="807.30" font-size="9.8" fill="#231f20" stroke="#231f20" stroke-width="0.3" text-anchor="middle" font-weight="normal" >3</text>
<line x1="133.40" y1="792.90" x2="133.40" y2="796.10" stroke="#231f20" stroke-width="1"/>
<text x="133.40" y="807.30" font-size="9.8" fill="#231f20" stroke="#231f20" stroke-width="0.3" text-anchor="middle" font-weight="normal" >4</text>
<text x="92.75" y="821.30" font-size="10.5" fill="#231f20" stroke="#231f20" stroke-width="0.3" text-anchor="middle" font-weight="normal" textLength="42" lengthAdjust="spacingAndGlyphs" >Time (min)</text>
<text x="0" y="0" font-size="10.2" fill="#231f20" stroke="#231f20" stroke-width="0.3" text-anchor="middle" transform="translate(28.5,735.80) rotate(-90)" textLength="56.5" lengthAdjust="spacingAndGlyphs">% Aggregation</text>
<line x1="37.00" y1="779.20" x2="40.40" y2="779.20" stroke="#231f20" stroke-width="1"/>
<text x="34.80" y="782.60" font-size="9.8" fill="#231f20" stroke="#231f20" stroke-width="0.3" text-anchor="end" font-weight="normal" textLength="14.4" lengthAdjust="spacingAndGlyphs" >100</text>
<line x1="51.60" y1="696.20" x2="51.60" y2="717.50" stroke="#000" stroke-width="1.2"/>
<path d="M49.30,697.70 L51.60,692.20 L53.90,697.70 Z" fill="#000"/>
<text x="148.70" y="689.10" font-size="9.5" fill="#231f20" stroke="#231f20" stroke-width="0.3" text-anchor="start" font-weight="normal" textLength="26" lengthAdjust="spacingAndGlyphs" >ERp46</text>
<text x="148.70" y="701.30" font-size="9.5" fill="#231f20" stroke="#231f20" stroke-width="0.3" text-anchor="start" font-weight="normal" textLength="33" lengthAdjust="spacingAndGlyphs" >aa-aa-aa</text>
<text x="148.70" y="720.20" font-size="9.5" fill="#231f20" stroke="#231f20" stroke-width="0.3" text-anchor="start" font-weight="normal" textLength="33" lengthAdjust="spacingAndGlyphs" >cc-aa-aa</text>
<text x="148.70" y="734.20" font-size="9.5" fill="#231f20" stroke="#231f20" stroke-width="0.3" text-anchor="start" font-weight="normal" textLength="33" lengthAdjust="spacingAndGlyphs" >cc-cc-aa</text>
<text x="148.70" y="746.20" font-size="9.5" fill="#231f20" stroke="#231f20" stroke-width="0.3" text-anchor="start" font-weight="normal" textLength="33.5" lengthAdjust="spacingAndGlyphs" >Baseline</text>
<text x="148.70" y="761.80" font-size="9.5" fill="#231f20" stroke="#231f20" stroke-width="0.3" text-anchor="start" font-weight="normal" textLength="33" lengthAdjust="spacingAndGlyphs" >cc-cc-cc</text>
<line x1="149.40" y1="766.80" x2="149.40" y2="781.70" stroke="#231f20" stroke-width="1.1"/>
<line x1="147.20" y1="766.80" x2="151.60" y2="766.80" stroke="#231f20" stroke-width="1.1"/>
<line x1="147.20" y1="781.70" x2="151.60" y2="781.70" stroke="#231f20" stroke-width="1.1"/>
<text x="154.60" y="773.70" font-size="10" fill="#231f20" stroke="#231f20" stroke-width="0.3" text-anchor="start" font-weight="normal" textLength="41.5" lengthAdjust="spacingAndGlyphs" >0.5 nmole</text>
<text x="166.80" y="784.30" font-size="10" fill="#231f20" stroke="#231f20" stroke-width="0.3" text-anchor="start" font-weight="normal" textLength="17.5" lengthAdjust="spacingAndGlyphs" >ATP</text>
<rect x="256.30" y="198.10" width="9.60" height="56.20" fill="#e27d90" stroke="none" stroke-width="1" />
<rect x="271.80" y="242.70" width="9.60" height="11.60" fill="#e0b68e" stroke="none" stroke-width="1" />
<rect x="287.10" y="242.30" width="9.60" height="12.00" fill="#86a9cc" stroke="none" stroke-width="1" />
<rect x="302.10" y="228.50" width="9.60" height="25.80" fill="#96d8a0" stroke="none" stroke-width="1" />
<rect x="317.30" y="213.80" width="9.60" height="40.50" fill="#a78cbd" stroke="none" stroke-width="1" />
<rect x="332.40" y="204.30" width="9.60" height="50.00" fill="#fcc27e" stroke="none" stroke-width="1" />
<line x1="261.10" y1="195.70" x2="261.10" y2="200.50" stroke="#c8102e" stroke-width="1.1"/>
<line x1="258.70" y1="195.70" x2="263.50" y2="195.70" stroke="#c8102e" stroke-width="1.1"/>
<line x1="258.70" y1="200.50" x2="263.50" y2="200.50" stroke="#c8102e" stroke-width="1.1"/>
<circle cx="258.41" cy="200.50" r="1.2" fill="#c8102e"/>
<circle cx="261.10" cy="194.10" r="1.2" fill="#c8102e"/>
<circle cx="263.79" cy="199.30" r="1.2" fill="#c8102e"/>
<line x1="276.60" y1="241.90" x2="276.60" y2="243.50" stroke="#b8641e" stroke-width="1.1"/>
<line x1="274.20" y1="241.90" x2="279.00" y2="241.90" stroke="#b8641e" stroke-width="1.1"/>
<line x1="274.20" y1="243.50" x2="279.00" y2="243.50" stroke="#b8641e" stroke-width="1.1"/>
<circle cx="273.91" cy="243.30" r="1.2" fill="#b8641e"/>
<circle cx="276.60" cy="241.70" r="1.2" fill="#b8641e"/>
<circle cx="279.29" cy="243.00" r="1.2" fill="#b8641e"/>
<line x1="291.90" y1="241.10" x2="291.90" y2="243.50" stroke="#123f7a" stroke-width="1.1"/>
<line x1="289.50" y1="241.10" x2="294.30" y2="241.10" stroke="#123f7a" stroke-width="1.1"/>
<line x1="289.50" y1="243.50" x2="294.30" y2="243.50" stroke="#123f7a" stroke-width="1.1"/>
<circle cx="289.21" cy="243.50" r="1.2" fill="#123f7a"/>
<circle cx="291.90" cy="240.30" r="1.2" fill="#123f7a"/>
<circle cx="294.59" cy="242.90" r="1.2" fill="#123f7a"/>
<line x1="306.90" y1="227.70" x2="306.90" y2="229.30" stroke="#2aa040" stroke-width="1.1"/>
<line x1="304.50" y1="227.70" x2="309.30" y2="227.70" stroke="#2aa040" stroke-width="1.1"/>
<line x1="304.50" y1="229.30" x2="309.30" y2="229.30" stroke="#2aa040" stroke-width="1.1"/>
<circle cx="304.21" cy="229.10" r="1.2" fill="#2aa040"/>
<circle cx="306.90" cy="227.50" r="1.2" fill="#2aa040"/>
<circle cx="309.59" cy="228.80" r="1.2" fill="#2aa040"/>
<line x1="322.10" y1="212.90" x2="322.10" y2="214.70" stroke="#4a1a70" stroke-width="1.1"/>
<line x1="319.70" y1="212.90" x2="324.50" y2="212.90" stroke="#4a1a70" stroke-width="1.1"/>
<line x1="319.70" y1="214.70" x2="324.50" y2="214.70" stroke="#4a1a70" stroke-width="1.1"/>
<circle cx="319.41" cy="214.70" r="1.2" fill="#4a1a70"/>
<circle cx="322.10" cy="212.30" r="1.2" fill="#4a1a70"/>
<circle cx="324.79" cy="214.25" r="1.2" fill="#4a1a70"/>
<line x1="337.20" y1="202.50" x2="337.20" y2="206.10" stroke="#f59a20" stroke-width="1.1"/>
<line x1="334.80" y1="202.50" x2="339.60" y2="202.50" stroke="#f59a20" stroke-width="1.1"/>
<line x1="334.80" y1="206.10" x2="339.60" y2="206.10" stroke="#f59a20" stroke-width="1.1"/>
<circle cx="334.51" cy="206.10" r="1.2" fill="#f59a20"/>
<circle cx="337.20" cy="201.30" r="1.2" fill="#f59a20"/>
<circle cx="339.89" cy="205.20" r="1.2" fill="#f59a20"/>
<line x1="251.20" y1="181.50" x2="251.20" y2="254.90" stroke="#231f20" stroke-width="1.4"/>
<line x1="250.50" y1="254.30" x2="346.90" y2="254.30" stroke="#231f20" stroke-width="1.4"/>
<line x1="247.70" y1="254.30" x2="251.20" y2="254.30" stroke="#231f20" stroke-width="1"/>
<text x="244.30" y="257.60" font-size="9.5" fill="#231f20" stroke="#231f20" stroke-width="0.3" text-anchor="end" font-weight="normal" textLength="4.9" lengthAdjust="spacingAndGlyphs" >0</text>
<line x1="247.70" y1="237.30" x2="251.20" y2="237.30" stroke="#231f20" stroke-width="1"/>
<text x="244.30" y="240.60" font-size="9.5" fill="#231f20" stroke="#231f20" stroke-width="0.3" text-anchor="end" font-weight="normal" textLength="9.8" lengthAdjust="spacingAndGlyphs" >20</text>
<line x1="247.70" y1="220.30" x2="251.20" y2="220.30" stroke="#231f20" stroke-width="1"/>
<text x="244.30" y="223.60" font-size="9.5" fill="#231f20" stroke="#231f20" stroke-width="0.3" text-anchor="end" font-weight="normal" textLength="9.8" lengthAdjust="spacingAndGlyphs" >40</text>
<line x1="247.70" y1="203.30" x2="251.20" y2="203.30" stroke="#231f20" stroke-width="1"/>
<text x="244.30" y="206.60" font-size="9.5" fill="#231f20" stroke="#231f20" stroke-width="0.3" text-anchor="end" font-weight="normal" textLength="9.8" lengthAdjust="spacingAndGlyphs" >60</text>
<line x1="247.70" y1="186.30" x2="251.20" y2="186.30" stroke="#231f20" stroke-width="1"/>
<text x="244.30" y="189.60" font-size="9.5" fill="#231f20" stroke="#231f20" stroke-width="0.3" text-anchor="end" font-weight="normal" textLength="9.8" lengthAdjust="spacingAndGlyphs" >80</text>
<line x1="261.10" y1="254.30" x2="261.10" y2="257.30" stroke="#231f20" stroke-width="1"/>
<line x1="276.60" y1="254.30" x2="276.60" y2="257.30" stroke="#231f20" stroke-width="1"/>
<line x1="291.90" y1="254.30" x2="291.90" y2="257.30" stroke="#231f20" stroke-width="1"/>
<line x1="306.90" y1="254.30" x2="306.90" y2="257.30" stroke="#231f20" stroke-width="1"/>
<line x1="322.10" y1="254.30" x2="322.10" y2="257.30" stroke="#231f20" stroke-width="1"/>
<line x1="337.20" y1="254.30" x2="337.20" y2="257.30" stroke="#231f20" stroke-width="1"/>
<line x1="258.10" y1="192.50" x2="278.10" y2="192.50" stroke="#2a2a2a" stroke-width="1.15"/>
<polygon points="262.03,186.60 262.64,188.05 264.21,188.19 263.02,189.22 263.38,190.76 262.03,189.95 260.67,190.76 261.03,189.22 259.84,188.19 261.41,188.05" fill="#1a1a1a"/>
<polygon points="266.08,186.60 266.69,188.05 268.26,188.19 267.07,189.22 267.43,190.76 266.08,189.95 264.72,190.76 265.08,189.22 263.89,188.19 265.46,188.05" fill="#1a1a1a"/>
<polygon points="270.13,186.60 270.74,188.05 272.31,188.19 271.12,189.22 271.48,190.76 270.13,189.95 268.77,190.76 269.13,189.22 267.94,188.19 269.51,188.05" fill="#1a1a1a"/>
<polygon points="274.18,186.60 274.79,188.05 276.36,188.19 275.17,189.22 275.53,190.76 274.18,189.95 272.82,190.76 273.18,189.22 271.99,188.19 273.56,188.05" fill="#1a1a1a"/>
<line x1="258.10" y1="183.50" x2="293.50" y2="183.50" stroke="#2a2a2a" stroke-width="1.15"/>
<polygon points="269.73,177.60 270.34,179.05 271.91,179.19 270.72,180.22 271.08,181.76 269.73,180.95 268.37,181.76 268.73,180.22 267.54,179.19 269.11,179.05" fill="#1a1a1a"/>
<polygon points="273.78,177.60 274.39,179.05 275.96,179.19 274.77,180.22 275.13,181.76 273.78,180.95 272.42,181.76 272.78,180.22 271.59,179.19 273.16,179.05" fill="#1a1a1a"/>
<polygon points="277.83,177.60 278.44,179.05 280.01,179.19 278.82,180.22 279.18,181.76 277.83,180.95 276.47,181.76 276.83,180.22 275.64,179.19 277.21,179.05" fill="#1a1a1a"/>
<polygon points="281.88,177.60 282.49,179.05 284.06,179.19 282.87,180.22 283.23,181.76 281.88,180.95 280.52,181.76 280.88,180.22 279.69,179.19 281.26,179.05" fill="#1a1a1a"/>
<line x1="258.10" y1="175.50" x2="308.50" y2="175.50" stroke="#2a2a2a" stroke-width="1.15"/>
<polygon points="277.23,169.60 277.84,171.05 279.41,171.19 278.22,172.22 278.58,173.76 277.23,172.95 275.87,173.76 276.23,172.22 275.04,171.19 276.61,171.05" fill="#1a1a1a"/>
<polygon points="281.28,169.60 281.89,171.05 283.46,171.19 282.27,172.22 282.63,173.76 281.28,172.95 279.92,173.76 280.28,172.22 279.09,171.19 280.66,171.05" fill="#1a1a1a"/>
<polygon points="285.33,169.60 285.94,171.05 287.51,171.19 286.32,172.22 286.68,173.76 285.33,172.95 283.97,173.76 284.33,172.22 283.14,171.19 284.71,171.05" fill="#1a1a1a"/>
<polygon points="289.38,169.60 289.99,171.05 291.56,171.19 290.37,172.22 290.73,173.76 289.38,172.95 288.02,173.76 288.38,172.22 287.19,171.19 288.76,171.05" fill="#1a1a1a"/>
<line x1="258.10" y1="166.50" x2="324.60" y2="166.50" stroke="#2a2a2a" stroke-width="1.15"/>
<polygon points="285.28,160.60 285.89,162.05 287.46,162.19 286.27,163.22 286.63,164.76 285.28,163.95 283.92,164.76 284.28,163.22 283.09,162.19 284.66,162.05" fill="#1a1a1a"/>
<polygon points="289.33,160.60 289.94,162.05 291.51,162.19 290.32,163.22 290.68,164.76 289.33,163.95 287.97,164.76 288.33,163.22 287.14,162.19 288.71,162.05" fill="#1a1a1a"/>
<polygon points="293.38,160.60 293.99,162.05 295.56,162.19 294.37,163.22 294.73,164.76 293.38,163.95 292.02,164.76 292.38,163.22 291.19,162.19 292.76,162.05" fill="#1a1a1a"/>
<polygon points="297.43,160.60 298.04,162.05 299.61,162.19 298.42,163.22 298.78,164.76 297.43,163.95 296.07,164.76 296.43,163.22 295.24,162.19 296.81,162.05" fill="#1a1a1a"/>
<line x1="274.60" y1="237.50" x2="294.80" y2="237.50" stroke="#2a2a2a" stroke-width="1.15"/>
<text x="285.00" y="235.90" font-size="9.5" fill="#231f20" stroke="#231f20" stroke-width="0.3" text-anchor="middle" font-weight="normal" textLength="8.6" lengthAdjust="spacingAndGlyphs" >ns</text>
<line x1="289.60" y1="223.50" x2="309.60" y2="223.50" stroke="#2a2a2a" stroke-width="1.15"/>
<polygon points="293.53,217.60 294.14,219.05 295.71,219.19 294.52,220.22 294.88,221.76 293.53,220.95 292.17,221.76 292.53,220.22 291.34,219.19 292.91,219.05" fill="#1a1a1a"/>
<polygon points="297.58,217.60 298.19,219.05 299.76,219.19 298.57,220.22 298.93,221.76 297.58,220.95 296.22,221.76 296.58,220.22 295.39,219.19 296.96,219.05" fill="#1a1a1a"/>
<polygon points="301.63,217.60 302.24,219.05 303.81,219.19 302.62,220.22 302.98,221.76 301.63,220.95 300.27,221.76 300.63,220.22 299.44,219.19 301.01,219.05" fill="#1a1a1a"/>
<polygon points="305.68,217.60 306.29,219.05 307.86,219.19 306.67,220.22 307.03,221.76 305.68,220.95 304.32,221.76 304.68,220.22 303.49,219.19 305.06,219.05" fill="#1a1a1a"/>
<line x1="304.40" y1="207.50" x2="324.60" y2="207.50" stroke="#2a2a2a" stroke-width="1.15"/>
<polygon points="308.43,201.60 309.04,203.05 310.61,203.19 309.42,204.22 309.78,205.76 308.43,204.95 307.07,205.76 307.43,204.22 306.24,203.19 307.81,203.05" fill="#1a1a1a"/>
<polygon points="312.48,201.60 313.09,203.05 314.66,203.19 313.47,204.22 313.83,205.76 312.48,204.95 311.12,205.76 311.48,204.22 310.29,203.19 311.86,203.05" fill="#1a1a1a"/>
<polygon points="316.53,201.60 317.14,203.05 318.71,203.19 317.52,204.22 317.88,205.76 316.53,204.95 315.17,205.76 315.53,204.22 314.34,203.19 315.91,203.05" fill="#1a1a1a"/>
<polygon points="320.57,201.60 321.19,203.05 322.76,203.19 321.57,204.22 321.93,205.76 320.57,204.95 319.22,205.76 319.58,204.22 318.39,203.19 319.96,203.05" fill="#1a1a1a"/>
<line x1="319.40" y1="196.50" x2="340.00" y2="196.50" stroke="#2a2a2a" stroke-width="1.15"/>
<polygon points="325.65,190.60 326.27,192.05 327.84,192.19 326.65,193.22 327.00,194.76 325.65,193.95 324.30,194.76 324.65,193.22 323.46,192.19 325.03,192.05" fill="#1a1a1a"/>
<polygon points="329.70,190.60 330.32,192.05 331.89,192.19 330.70,193.22 331.05,194.76 329.70,193.95 328.35,194.76 328.70,193.22 327.51,192.19 329.08,192.05" fill="#1a1a1a"/>
<polygon points="333.75,190.60 334.37,192.05 335.94,192.19 334.75,193.22 335.10,194.76 333.75,193.95 332.40,194.76 332.75,193.22 331.56,192.19 333.13,192.05" fill="#1a1a1a"/>
<g transform="translate(264.70,267.40) rotate(-45)"><text x="-9.2" y="0" font-size="9.5" fill="#231f20" stroke="#231f20" stroke-width="0.3" text-anchor="end" textLength="26" lengthAdjust="spacingAndGlyphs">ERp46</text><text x="0" y="-3.4" font-size="7" fill="#231f20" stroke="#231f20" stroke-width="0.04" text-anchor="end" textLength="8.5" lengthAdjust="spacingAndGlyphs">fl/fl</text></g>
<g transform="translate(295.50,264.90) rotate(-45)"><text x="0" y="0" font-size="9.5" fill="#231f20" stroke="#231f20" stroke-width="0.3" text-anchor="end" textLength="33" lengthAdjust="spacingAndGlyphs">aa-aa-aa</text></g>
<g transform="translate(310.50,264.90) rotate(-45)"><text x="0" y="0" font-size="9.5" fill="#231f20" stroke="#231f20" stroke-width="0.3" text-anchor="end" textLength="33" lengthAdjust="spacingAndGlyphs">cc-aa-aa</text></g>
<g transform="translate(325.70,264.90) rotate(-45)"><text x="0" y="0" font-size="9.5" fill="#231f20" stroke="#231f20" stroke-width="0.3" text-anchor="end" textLength="33" lengthAdjust="spacingAndGlyphs">cc-cc-aa</text></g>
<g transform="translate(340.80,264.90) rotate(-45)"><text x="0" y="0" font-size="9.5" fill="#231f20" stroke="#231f20" stroke-width="0.3" text-anchor="end" textLength="33" lengthAdjust="spacingAndGlyphs">cc-cc-cc</text></g>
<line x1="276.90" y1="291.50" x2="337.20" y2="291.50" stroke="#231f20" stroke-width="1.15"/>
<text x="330.10" y="304.30" font-size="10.2" fill="#231f20" stroke="#231f20" stroke-width="0.3" text-anchor="end" textLength="56.3" lengthAdjust="spacingAndGlyphs">Pf4-Cre/ERp46</text>
<text x="330.70" y="300.80" font-size="7" fill="#231f20" stroke="#231f20" stroke-width="0.04" textLength="9.3" lengthAdjust="spacingAndGlyphs">fl/fl</text>
<text x="0" y="0" font-size="9.6" fill="#231f20" stroke="#231f20" stroke-width="0.3" text-anchor="middle" transform="translate(225.80,217.90) rotate(-90)" textLength="56" lengthAdjust="spacingAndGlyphs">% Aggregation</text>
<rect x="420.80" y="203.10" width="10.00" height="51.20" fill="#e27d90" stroke="none" stroke-width="1" />
<rect x="436.20" y="250.80" width="10.00" height="3.50" fill="#e0b68e" stroke="none" stroke-width="1" />
<rect x="450.90" y="246.00" width="10.00" height="8.30" fill="#86a9cc" stroke="none" stroke-width="1" />
<rect x="466.30" y="234.30" width="10.00" height="20.00" fill="#96d8a0" stroke="none" stroke-width="1" />
<rect x="481.30" y="220.80" width="10.00" height="33.50" fill="#a78cbd" stroke="none" stroke-width="1" />
<rect x="496.70" y="203.10" width="10.00" height="51.20" fill="#fcc27e" stroke="none" stroke-width="1" />
<line x1="425.80" y1="200.70" x2="425.80" y2="205.50" stroke="#c8102e" stroke-width="1.1"/>
<line x1="423.40" y1="200.70" x2="428.20" y2="200.70" stroke="#c8102e" stroke-width="1.1"/>
<line x1="423.40" y1="205.50" x2="428.20" y2="205.50" stroke="#c8102e" stroke-width="1.1"/>
<circle cx="423.00" cy="205.50" r="1.2" fill="#c8102e"/>
<circle cx="425.80" cy="199.10" r="1.2" fill="#c8102e"/>
<circle cx="428.60" cy="204.30" r="1.2" fill="#c8102e"/>
<line x1="441.20" y1="249.00" x2="441.20" y2="252.60" stroke="#b8641e" stroke-width="1.1"/>
<line x1="438.80" y1="249.00" x2="443.60" y2="249.00" stroke="#b8641e" stroke-width="1.1"/>
<line x1="438.80" y1="252.60" x2="443.60" y2="252.60" stroke="#b8641e" stroke-width="1.1"/>
<circle cx="438.40" cy="252.60" r="1.2" fill="#b8641e"/>
<circle cx="441.20" cy="247.80" r="1.2" fill="#b8641e"/>
<circle cx="444.00" cy="251.70" r="1.2" fill="#b8641e"/>
<line x1="455.90" y1="244.80" x2="455.90" y2="247.20" stroke="#123f7a" stroke-width="1.1"/>
<line x1="453.50" y1="244.80" x2="458.30" y2="244.80" stroke="#123f7a" stroke-width="1.1"/>
<line x1="453.50" y1="247.20" x2="458.30" y2="247.20" stroke="#123f7a" stroke-width="1.1"/>
<circle cx="453.10" cy="247.20" r="1.2" fill="#123f7a"/>
<circle cx="455.90" cy="244.00" r="1.2" fill="#123f7a"/>
<circle cx="458.70" cy="246.60" r="1.2" fill="#123f7a"/>
<line x1="471.30" y1="233.50" x2="471.30" y2="235.10" stroke="#2aa040" stroke-width="1.1"/>
<line x1="468.90" y1="233.50" x2="473.70" y2="233.50" stroke="#2aa040" stroke-width="1.1"/>
<line x1="468.90" y1="235.10" x2="473.70" y2="235.10" stroke="#2aa040" stroke-width="1.1"/>
<circle cx="468.50" cy="234.66" r="1.2" fill="#2aa040"/>
<circle cx="471.30" cy="233.70" r="1.2" fill="#2aa040"/>
<circle cx="474.10" cy="234.48" r="1.2" fill="#2aa040"/>
<line x1="486.30" y1="217.80" x2="486.30" y2="223.80" stroke="#4a1a70" stroke-width="1.1"/>
<line x1="483.90" y1="217.80" x2="488.70" y2="217.80" stroke="#4a1a70" stroke-width="1.1"/>
<line x1="483.90" y1="223.80" x2="488.70" y2="223.80" stroke="#4a1a70" stroke-width="1.1"/>
<circle cx="483.50" cy="223.80" r="1.2" fill="#4a1a70"/>
<circle cx="486.30" cy="215.80" r="1.2" fill="#4a1a70"/>
<circle cx="489.10" cy="222.30" r="1.2" fill="#4a1a70"/>
<line x1="501.70" y1="201.30" x2="501.70" y2="204.90" stroke="#f59a20" stroke-width="1.1"/>
<line x1="499.30" y1="201.30" x2="504.10" y2="201.30" stroke="#f59a20" stroke-width="1.1"/>
<line x1="499.30" y1="204.90" x2="504.10" y2="204.90" stroke="#f59a20" stroke-width="1.1"/>
<circle cx="498.90" cy="204.90" r="1.2" fill="#f59a20"/>
<circle cx="501.70" cy="200.10" r="1.2" fill="#f59a20"/>
<circle cx="504.50" cy="204.00" r="1.2" fill="#f59a20"/>
<line x1="415.80" y1="181.20" x2="415.80" y2="254.90" stroke="#231f20" stroke-width="1.4"/>
<line x1="415.10" y1="254.30" x2="511.00" y2="254.30" stroke="#231f20" stroke-width="1.4"/>
<line x1="412.30" y1="254.30" x2="415.80" y2="254.30" stroke="#231f20" stroke-width="1"/>
<text x="408.90" y="257.60" font-size="9.5" fill="#231f20" stroke="#231f20" stroke-width="0.3" text-anchor="end" font-weight="normal" textLength="13.4" lengthAdjust="spacingAndGlyphs" >0.0</text>
<line x1="412.30" y1="231.70" x2="415.80" y2="231.70" stroke="#231f20" stroke-width="1"/>
<text x="408.90" y="235.00" font-size="9.5" fill="#231f20" stroke="#231f20" stroke-width="0.3" text-anchor="end" font-weight="normal" textLength="13.4" lengthAdjust="spacingAndGlyphs" >0.5</text>
<line x1="412.30" y1="209.10" x2="415.80" y2="209.10" stroke="#231f20" stroke-width="1"/>
<text x="408.90" y="212.40" font-size="9.5" fill="#231f20" stroke="#231f20" stroke-width="0.3" text-anchor="end" font-weight="normal" textLength="13.4" lengthAdjust="spacingAndGlyphs" >1.0</text>
<line x1="412.30" y1="186.50" x2="415.80" y2="186.50" stroke="#231f20" stroke-width="1"/>
<text x="408.90" y="189.80" font-size="9.5" fill="#231f20" stroke="#231f20" stroke-width="0.3" text-anchor="end" font-weight="normal" textLength="13.4" lengthAdjust="spacingAndGlyphs" >1.5</text>
<line x1="425.80" y1="254.30" x2="425.80" y2="257.30" stroke="#231f20" stroke-width="1"/>
<line x1="441.20" y1="254.30" x2="441.20" y2="257.30" stroke="#231f20" stroke-width="1"/>
<line x1="455.90" y1="254.30" x2="455.90" y2="257.30" stroke="#231f20" stroke-width="1"/>
<line x1="471.30" y1="254.30" x2="471.30" y2="257.30" stroke="#231f20" stroke-width="1"/>
<line x1="486.30" y1="254.30" x2="486.30" y2="257.30" stroke="#231f20" stroke-width="1"/>
<line x1="501.70" y1="254.30" x2="501.70" y2="257.30" stroke="#231f20" stroke-width="1"/>
<line x1="425.70" y1="192.50" x2="445.80" y2="192.50" stroke="#2a2a2a" stroke-width="1.15"/>
<polygon points="429.68,186.60 430.29,188.05 431.86,188.19 430.67,189.22 431.03,190.76 429.68,189.95 428.32,190.76 428.68,189.22 427.49,188.19 429.06,188.05" fill="#1a1a1a"/>
<polygon points="433.73,186.60 434.34,188.05 435.91,188.19 434.72,189.22 435.08,190.76 433.73,189.95 432.37,190.76 432.73,189.22 431.54,188.19 433.11,188.05" fill="#1a1a1a"/>
<polygon points="437.78,186.60 438.39,188.05 439.96,188.19 438.77,189.22 439.13,190.76 437.78,189.95 436.42,190.76 436.78,189.22 435.59,188.19 437.16,188.05" fill="#1a1a1a"/>
<polygon points="441.82,186.60 442.44,188.05 444.01,188.19 442.82,189.22 443.18,190.76 441.82,189.95 440.47,190.76 440.83,189.22 439.64,188.19 441.21,188.05" fill="#1a1a1a"/>
<line x1="425.70" y1="183.50" x2="460.80" y2="183.50" stroke="#2a2a2a" stroke-width="1.15"/>
<polygon points="437.18,177.60 437.79,179.05 439.36,179.19 438.17,180.22 438.53,181.76 437.18,180.95 435.82,181.76 436.18,180.22 434.99,179.19 436.56,179.05" fill="#1a1a1a"/>
<polygon points="441.23,177.60 441.84,179.05 443.41,179.19 442.22,180.22 442.58,181.76 441.23,180.95 439.87,181.76 440.23,180.22 439.04,179.19 440.61,179.05" fill="#1a1a1a"/>
<polygon points="445.28,177.60 445.89,179.05 447.46,179.19 446.27,180.22 446.63,181.76 445.28,180.95 443.92,181.76 444.28,180.22 443.09,179.19 444.66,179.05" fill="#1a1a1a"/>
<polygon points="449.32,177.60 449.94,179.05 451.51,179.19 450.32,180.22 450.68,181.76 449.32,180.95 447.97,181.76 448.33,180.22 447.14,179.19 448.71,179.05" fill="#1a1a1a"/>
<line x1="425.70" y1="174.50" x2="475.70" y2="174.50" stroke="#2a2a2a" stroke-width="1.15"/>
<polygon points="444.62,168.60 445.24,170.05 446.81,170.19 445.62,171.22 445.98,172.76 444.62,171.95 443.27,172.76 443.63,171.22 442.44,170.19 444.01,170.05" fill="#1a1a1a"/>
<polygon points="448.68,168.60 449.29,170.05 450.86,170.19 449.67,171.22 450.03,172.76 448.68,171.95 447.32,172.76 447.68,171.22 446.49,170.19 448.06,170.05" fill="#1a1a1a"/>
<polygon points="452.73,168.60 453.34,170.05 454.91,170.19 453.72,171.22 454.08,172.76 452.73,171.95 451.37,172.76 451.73,171.22 450.54,170.19 452.11,170.05" fill="#1a1a1a"/>
<polygon points="456.77,168.60 457.39,170.05 458.96,170.19 457.77,171.22 458.13,172.76 456.77,171.95 455.42,172.76 455.78,171.22 454.59,170.19 456.16,170.05" fill="#1a1a1a"/>
<line x1="425.70" y1="166.50" x2="492.30" y2="166.50" stroke="#2a2a2a" stroke-width="1.15"/>
<polygon points="454.95,160.60 455.57,162.05 457.14,162.19 455.95,163.22 456.30,164.76 454.95,163.95 453.60,164.76 453.95,163.22 452.76,162.19 454.33,162.05" fill="#1a1a1a"/>
<polygon points="459.00,160.60 459.62,162.05 461.19,162.19 460.00,163.22 460.35,164.76 459.00,163.95 457.65,164.76 458.00,163.22 456.81,162.19 458.38,162.05" fill="#1a1a1a"/>
<polygon points="463.05,160.60 463.67,162.05 465.24,162.19 464.05,163.22 464.40,164.76 463.05,163.95 461.70,164.76 462.05,163.22 460.86,162.19 462.43,162.05" fill="#1a1a1a"/>
<line x1="442.30" y1="238.50" x2="462.80" y2="238.50" stroke="#2a2a2a" stroke-width="1.15"/>
<text x="452.85" y="236.90" font-size="9.5" fill="#231f20" stroke="#231f20" stroke-width="0.3" text-anchor="middle" font-weight="normal" textLength="8.6" lengthAdjust="spacingAndGlyphs" >ns</text>
<line x1="456.60" y1="225.50" x2="476.60" y2="225.50" stroke="#2a2a2a" stroke-width="1.15"/>
<polygon points="460.53,219.60 461.14,221.05 462.71,221.19 461.52,222.22 461.88,223.76 460.53,222.95 459.17,223.76 459.53,222.22 458.34,221.19 459.91,221.05" fill="#1a1a1a"/>
<polygon points="464.58,219.60 465.19,221.05 466.76,221.19 465.57,222.22 465.93,223.76 464.58,222.95 463.22,223.76 463.58,222.22 462.39,221.19 463.96,221.05" fill="#1a1a1a"/>
<polygon points="468.63,219.60 469.24,221.05 470.81,221.19 469.62,222.22 469.98,223.76 468.63,222.95 467.27,223.76 467.63,222.22 466.44,221.19 468.01,221.05" fill="#1a1a1a"/>
<polygon points="472.68,219.60 473.29,221.05 474.86,221.19 473.67,222.22 474.03,223.76 472.68,222.95 471.32,223.76 471.68,222.22 470.49,221.19 472.06,221.05" fill="#1a1a1a"/>
<line x1="472.00" y1="210.50" x2="492.00" y2="210.50" stroke="#2a2a2a" stroke-width="1.15"/>
<polygon points="479.98,204.60 480.59,206.05 482.16,206.19 480.97,207.22 481.33,208.76 479.98,207.95 478.62,208.76 478.98,207.22 477.79,206.19 479.36,206.05" fill="#1a1a1a"/>
<polygon points="484.03,204.60 484.64,206.05 486.21,206.19 485.02,207.22 485.38,208.76 484.03,207.95 482.67,208.76 483.03,207.22 481.84,206.19 483.41,206.05" fill="#1a1a1a"/>
<line x1="487.20" y1="199.50" x2="506.90" y2="199.50" stroke="#2a2a2a" stroke-width="1.15"/>
<polygon points="495.02,193.60 495.64,195.05 497.21,195.19 496.02,196.22 496.38,197.76 495.02,196.95 493.67,197.76 494.03,196.22 492.84,195.19 494.41,195.05" fill="#1a1a1a"/>
<polygon points="499.07,193.60 499.69,195.05 501.26,195.19 500.07,196.22 500.43,197.76 499.07,196.95 497.72,197.76 498.08,196.22 496.89,195.19 498.46,195.05" fill="#1a1a1a"/>
<g transform="translate(429.40,267.40) rotate(-45)"><text x="-9.2" y="0" font-size="9.5" fill="#231f20" stroke="#231f20" stroke-width="0.3" text-anchor="end" textLength="26" lengthAdjust="spacingAndGlyphs">ERp46</text><text x="0" y="-3.4" font-size="7" fill="#231f20" stroke="#231f20" stroke-width="0.04" text-anchor="end" textLength="8.5" lengthAdjust="spacingAndGlyphs">fl/fl</text></g>
<g transform="translate(459.50,264.90) rotate(-45)"><text x="0" y="0" font-size="9.5" fill="#231f20" stroke="#231f20" stroke-width="0.3" text-anchor="end" textLength="33" lengthAdjust="spacingAndGlyphs">aa-aa-aa</text></g>
<g transform="translate(474.90,264.90) rotate(-45)"><text x="0" y="0" font-size="9.5" fill="#231f20" stroke="#231f20" stroke-width="0.3" text-anchor="end" textLength="33" lengthAdjust="spacingAndGlyphs">cc-aa-aa</text></g>
<g transform="translate(489.90,264.90) rotate(-45)"><text x="0" y="0" font-size="9.5" fill="#231f20" stroke="#231f20" stroke-width="0.3" text-anchor="end" textLength="33" lengthAdjust="spacingAndGlyphs">cc-cc-aa</text></g>
<g transform="translate(505.30,264.90) rotate(-45)"><text x="0" y="0" font-size="9.5" fill="#231f20" stroke="#231f20" stroke-width="0.3" text-anchor="end" textLength="33" lengthAdjust="spacingAndGlyphs">cc-cc-cc</text></g>
<line x1="441.20" y1="291.50" x2="501.40" y2="291.50" stroke="#231f20" stroke-width="1.15"/>
<text x="494.10" y="304.30" font-size="10.2" fill="#231f20" stroke="#231f20" stroke-width="0.3" text-anchor="end" textLength="56.3" lengthAdjust="spacingAndGlyphs">Pf4-Cre/ERp46</text>
<text x="494.70" y="300.80" font-size="7" fill="#231f20" stroke="#231f20" stroke-width="0.04" textLength="9.3" lengthAdjust="spacingAndGlyphs">fl/fl</text>
<text x="0" y="0" font-size="9.6" fill="#231f20" stroke="#231f20" stroke-width="0.3" text-anchor="middle" transform="translate(389.30,217.75) rotate(-90)" textLength="89" lengthAdjust="spacingAndGlyphs">ATP secretion (nmoles)</text>
<rect x="257.30" y="367.60" width="12.00" height="58.70" fill="#e27d90" stroke="none" stroke-width="1" />
<rect x="275.50" y="414.80" width="12.00" height="11.50" fill="#e0b68e" stroke="none" stroke-width="1" />
<rect x="293.80" y="400.80" width="12.00" height="25.50" fill="#96d8a0" stroke="none" stroke-width="1" />
<rect x="312.00" y="400.80" width="12.00" height="25.50" fill="#6fae96" stroke="none" stroke-width="1" />
<rect x="330.30" y="398.30" width="12.00" height="28.00" fill="#bdb6e2" stroke="none" stroke-width="1" />
<line x1="263.30" y1="365.80" x2="263.30" y2="369.40" stroke="#c8102e" stroke-width="1.1"/>
<line x1="260.90" y1="365.80" x2="265.70" y2="365.80" stroke="#c8102e" stroke-width="1.1"/>
<line x1="260.90" y1="369.40" x2="265.70" y2="369.40" stroke="#c8102e" stroke-width="1.1"/>
<circle cx="259.94" cy="369.40" r="1.2" fill="#c8102e"/>
<circle cx="263.30" cy="364.60" r="1.2" fill="#c8102e"/>
<circle cx="266.66" cy="368.50" r="1.2" fill="#c8102e"/>
<line x1="281.50" y1="414.00" x2="281.50" y2="415.60" stroke="#b8641e" stroke-width="1.1"/>
<line x1="279.10" y1="414.00" x2="283.90" y2="414.00" stroke="#b8641e" stroke-width="1.1"/>
<line x1="279.10" y1="415.60" x2="283.90" y2="415.60" stroke="#b8641e" stroke-width="1.1"/>
<circle cx="278.14" cy="415.40" r="1.2" fill="#b8641e"/>
<circle cx="281.50" cy="413.80" r="1.2" fill="#b8641e"/>
<circle cx="284.86" cy="415.10" r="1.2" fill="#b8641e"/>
<line x1="299.80" y1="399.00" x2="299.80" y2="402.60" stroke="#2aa040" stroke-width="1.1"/>
<line x1="297.40" y1="399.00" x2="302.20" y2="399.00" stroke="#2aa040" stroke-width="1.1"/>
<line x1="297.40" y1="402.60" x2="302.20" y2="402.60" stroke="#2aa040" stroke-width="1.1"/>
<circle cx="296.44" cy="402.60" r="1.2" fill="#2aa040"/>
<circle cx="299.80" cy="397.80" r="1.2" fill="#2aa040"/>
<circle cx="303.16" cy="401.70" r="1.2" fill="#2aa040"/>
<line x1="318.00" y1="399.00" x2="318.00" y2="402.60" stroke="#1e6e56" stroke-width="1.1"/>
<line x1="315.60" y1="399.00" x2="320.40" y2="399.00" stroke="#1e6e56" stroke-width="1.1"/>
<line x1="315.60" y1="402.60" x2="320.40" y2="402.60" stroke="#1e6e56" stroke-width="1.1"/>
<circle cx="314.64" cy="402.60" r="1.2" fill="#1e6e56"/>
<circle cx="318.00" cy="397.80" r="1.2" fill="#1e6e56"/>
<circle cx="321.36" cy="401.70" r="1.2" fill="#1e6e56"/>
<line x1="336.30" y1="397.10" x2="336.30" y2="399.50" stroke="#7a70c8" stroke-width="1.1"/>
<line x1="333.90" y1="397.10" x2="338.70" y2="397.10" stroke="#7a70c8" stroke-width="1.1"/>
<line x1="333.90" y1="399.50" x2="338.70" y2="399.50" stroke="#7a70c8" stroke-width="1.1"/>
<circle cx="332.94" cy="399.50" r="1.2" fill="#7a70c8"/>
<circle cx="336.30" cy="396.30" r="1.2" fill="#7a70c8"/>
<circle cx="339.66" cy="398.90" r="1.2" fill="#7a70c8"/>
<line x1="251.20" y1="344.60" x2="251.20" y2="426.90" stroke="#231f20" stroke-width="1.4"/>
<line x1="250.50" y1="426.30" x2="345.80" y2="426.30" stroke="#231f20" stroke-width="1.4"/>
<line x1="247.70" y1="426.30" x2="251.20" y2="426.30" stroke="#231f20" stroke-width="1"/>
<text x="244.30" y="429.60" font-size="9.5" fill="#231f20" stroke="#231f20" stroke-width="0.3" text-anchor="end" font-weight="normal" textLength="4.9" lengthAdjust="spacingAndGlyphs" >0</text>
<line x1="247.70" y1="407.05" x2="251.20" y2="407.05" stroke="#231f20" stroke-width="1"/>
<text x="244.30" y="410.35" font-size="9.5" fill="#231f20" stroke="#231f20" stroke-width="0.3" text-anchor="end" font-weight="normal" textLength="9.8" lengthAdjust="spacingAndGlyphs" >20</text>
<line x1="247.70" y1="387.80" x2="251.20" y2="387.80" stroke="#231f20" stroke-width="1"/>
<text x="244.30" y="391.10" font-size="9.5" fill="#231f20" stroke="#231f20" stroke-width="0.3" text-anchor="end" font-weight="normal" textLength="9.8" lengthAdjust="spacingAndGlyphs" >40</text>
<line x1="247.70" y1="368.55" x2="251.20" y2="368.55" stroke="#231f20" stroke-width="1"/>
<text x="244.30" y="371.85" font-size="9.5" fill="#231f20" stroke="#231f20" stroke-width="0.3" text-anchor="end" font-weight="normal" textLength="9.8" lengthAdjust="spacingAndGlyphs" >60</text>
<line x1="247.70" y1="349.30" x2="251.20" y2="349.30" stroke="#231f20" stroke-width="1"/>
<text x="244.30" y="352.60" font-size="9.5" fill="#231f20" stroke="#231f20" stroke-width="0.3" text-anchor="end" font-weight="normal" textLength="9.8" lengthAdjust="spacingAndGlyphs" >80</text>
<line x1="263.30" y1="426.30" x2="263.30" y2="429.30" stroke="#231f20" stroke-width="1"/>
<line x1="281.50" y1="426.30" x2="281.50" y2="429.30" stroke="#231f20" stroke-width="1"/>
<line x1="299.80" y1="426.30" x2="299.80" y2="429.30" stroke="#231f20" stroke-width="1"/>
<line x1="318.00" y1="426.30" x2="318.00" y2="429.30" stroke="#231f20" stroke-width="1"/>
<line x1="336.30" y1="426.30" x2="336.30" y2="429.30" stroke="#231f20" stroke-width="1"/>
<line x1="261.20" y1="361.50" x2="284.80" y2="361.50" stroke="#2a2a2a" stroke-width="1.15"/>
<polygon points="266.93,355.60 267.54,357.05 269.11,357.19 267.92,358.22 268.28,359.76 266.93,358.95 265.57,359.76 265.93,358.22 264.74,357.19 266.31,357.05" fill="#1a1a1a"/>
<polygon points="270.98,355.60 271.59,357.05 273.16,357.19 271.97,358.22 272.33,359.76 270.98,358.95 269.62,359.76 269.98,358.22 268.79,357.19 270.36,357.05" fill="#1a1a1a"/>
<polygon points="275.03,355.60 275.64,357.05 277.21,357.19 276.02,358.22 276.38,359.76 275.03,358.95 273.67,359.76 274.03,358.22 272.84,357.19 274.41,357.05" fill="#1a1a1a"/>
<polygon points="279.07,355.60 279.69,357.05 281.26,357.19 280.07,358.22 280.43,359.76 279.07,358.95 277.72,359.76 278.08,358.22 276.89,357.19 278.46,357.05" fill="#1a1a1a"/>
<line x1="261.20" y1="352.50" x2="312.30" y2="352.50" stroke="#2a2a2a" stroke-width="1.15"/>
<polygon points="280.68,346.60 281.29,348.05 282.86,348.19 281.67,349.22 282.03,350.76 280.68,349.95 279.32,350.76 279.68,349.22 278.49,348.19 280.06,348.05" fill="#1a1a1a"/>
<polygon points="284.73,346.60 285.34,348.05 286.91,348.19 285.72,349.22 286.08,350.76 284.73,349.95 283.37,350.76 283.73,349.22 282.54,348.19 284.11,348.05" fill="#1a1a1a"/>
<polygon points="288.78,346.60 289.39,348.05 290.96,348.19 289.77,349.22 290.13,350.76 288.78,349.95 287.42,350.76 287.78,349.22 286.59,348.19 288.16,348.05" fill="#1a1a1a"/>
<polygon points="292.82,346.60 293.44,348.05 295.01,348.19 293.82,349.22 294.18,350.76 292.82,349.95 291.47,350.76 291.83,349.22 290.64,348.19 292.21,348.05" fill="#1a1a1a"/>
<line x1="261.20" y1="342.50" x2="322.50" y2="342.50" stroke="#2a2a2a" stroke-width="1.15"/>
<polygon points="285.78,336.60 286.39,338.05 287.96,338.19 286.77,339.22 287.13,340.76 285.78,339.95 284.42,340.76 284.78,339.22 283.59,338.19 285.16,338.05" fill="#1a1a1a"/>
<polygon points="289.83,336.60 290.44,338.05 292.01,338.19 290.82,339.22 291.18,340.76 289.83,339.95 288.47,340.76 288.83,339.22 287.64,338.19 289.21,338.05" fill="#1a1a1a"/>
<polygon points="293.88,336.60 294.49,338.05 296.06,338.19 294.87,339.22 295.23,340.76 293.88,339.95 292.52,340.76 292.88,339.22 291.69,338.19 293.26,338.05" fill="#1a1a1a"/>
<polygon points="297.93,336.60 298.54,338.05 300.11,338.19 298.92,339.22 299.28,340.76 297.93,339.95 296.57,340.76 296.93,339.22 295.74,338.19 297.31,338.05" fill="#1a1a1a"/>
<line x1="280.60" y1="333.50" x2="342.60" y2="333.50" stroke="#2a2a2a" stroke-width="1.15"/>
<polygon points="305.53,327.60 306.14,329.05 307.71,329.19 306.52,330.22 306.88,331.76 305.53,330.95 304.17,331.76 304.53,330.22 303.34,329.19 304.91,329.05" fill="#1a1a1a"/>
<polygon points="309.58,327.60 310.19,329.05 311.76,329.19 310.57,330.22 310.93,331.76 309.58,330.95 308.22,331.76 308.58,330.22 307.39,329.19 308.96,329.05" fill="#1a1a1a"/>
<polygon points="313.63,327.60 314.24,329.05 315.81,329.19 314.62,330.22 314.98,331.76 313.63,330.95 312.27,331.76 312.63,330.22 311.44,329.19 313.01,329.05" fill="#1a1a1a"/>
<polygon points="317.68,327.60 318.29,329.05 319.86,329.19 318.67,330.22 319.03,331.76 317.68,330.95 316.32,331.76 316.68,330.22 315.49,329.19 317.06,329.05" fill="#1a1a1a"/>
<line x1="282.30" y1="376.50" x2="343.20" y2="376.50" stroke="#2a2a2a" stroke-width="1.15"/>
<polygon points="306.68,370.60 307.29,372.05 308.86,372.19 307.67,373.22 308.03,374.76 306.68,373.95 305.32,374.76 305.68,373.22 304.49,372.19 306.06,372.05" fill="#1a1a1a"/>
<polygon points="310.73,370.60 311.34,372.05 312.91,372.19 311.72,373.22 312.08,374.76 310.73,373.95 309.37,374.76 309.73,373.22 308.54,372.19 310.11,372.05" fill="#1a1a1a"/>
<polygon points="314.78,370.60 315.39,372.05 316.96,372.19 315.77,373.22 316.13,374.76 314.78,373.95 313.42,374.76 313.78,373.22 312.59,372.19 314.16,372.05" fill="#1a1a1a"/>
<polygon points="318.82,370.60 319.44,372.05 321.01,372.19 319.82,373.22 320.18,374.76 318.82,373.95 317.47,374.76 317.83,373.22 316.64,372.19 318.21,372.05" fill="#1a1a1a"/>
<line x1="282.30" y1="386.50" x2="332.70" y2="386.50" stroke="#2a2a2a" stroke-width="1.15"/>
<polygon points="303.45,380.60 304.07,382.05 305.64,382.19 304.45,383.22 304.80,384.76 303.45,383.95 302.10,384.76 302.45,383.22 301.26,382.19 302.83,382.05" fill="#1a1a1a"/>
<polygon points="307.50,380.60 308.12,382.05 309.69,382.19 308.50,383.22 308.85,384.76 307.50,383.95 306.15,384.76 306.50,383.22 305.31,382.19 306.88,382.05" fill="#1a1a1a"/>
<polygon points="311.55,380.60 312.17,382.05 313.74,382.19 312.55,383.22 312.90,384.76 311.55,383.95 310.20,384.76 310.55,383.22 309.36,382.19 310.93,382.05" fill="#1a1a1a"/>
<line x1="282.30" y1="395.50" x2="305.20" y2="395.50" stroke="#2a2a2a" stroke-width="1.15"/>
<polygon points="289.70,389.60 290.32,391.05 291.89,391.19 290.70,392.22 291.05,393.76 289.70,392.95 288.35,393.76 288.70,392.22 287.51,391.19 289.08,391.05" fill="#1a1a1a"/>
<polygon points="293.75,389.60 294.37,391.05 295.94,391.19 294.75,392.22 295.10,393.76 293.75,392.95 292.40,393.76 292.75,392.22 291.56,391.19 293.13,391.05" fill="#1a1a1a"/>
<polygon points="297.80,389.60 298.42,391.05 299.99,391.19 298.80,392.22 299.15,393.76 297.80,392.95 296.45,393.76 296.80,392.22 295.61,391.19 297.18,391.05" fill="#1a1a1a"/>
<g transform="translate(266.90,439.40) rotate(-45)"><text x="-9.2" y="0" font-size="9.5" fill="#231f20" stroke="#231f20" stroke-width="0.3" text-anchor="end" textLength="26" lengthAdjust="spacingAndGlyphs">ERp46</text><text x="0" y="-3.4" font-size="7" fill="#231f20" stroke="#231f20" stroke-width="0.04" text-anchor="end" textLength="8.5" lengthAdjust="spacingAndGlyphs">fl/fl</text></g>
<g transform="translate(303.40,436.90) rotate(-45)"><text x="0" y="0" font-size="9.5" fill="#231f20" stroke="#231f20" stroke-width="0.3" text-anchor="end" textLength="33" lengthAdjust="spacingAndGlyphs">cc-aa-aa</text></g>
<g transform="translate(321.60,436.90) rotate(-45)"><text x="0" y="0" font-size="9.5" fill="#231f20" stroke="#231f20" stroke-width="0.3" text-anchor="end" textLength="33" lengthAdjust="spacingAndGlyphs">aa-cc-aa</text></g>
<g transform="translate(339.90,436.90) rotate(-45)"><text x="0" y="0" font-size="9.5" fill="#231f20" stroke="#231f20" stroke-width="0.3" text-anchor="end" textLength="33" lengthAdjust="spacingAndGlyphs">aa-aa-cc</text></g>
<line x1="280.00" y1="463.50" x2="333.80" y2="463.50" stroke="#231f20" stroke-width="1.15"/>
<text x="332.30" y="476.30" font-size="10.2" fill="#231f20" stroke="#231f20" stroke-width="0.3" text-anchor="end" textLength="56.3" lengthAdjust="spacingAndGlyphs">Pf4-Cre/ERp46</text>
<text x="332.90" y="472.80" font-size="7" fill="#231f20" stroke="#231f20" stroke-width="0.04" textLength="9.3" lengthAdjust="spacingAndGlyphs">fl/fl</text>
<text x="0" y="0" font-size="9.6" fill="#231f20" stroke="#231f20" stroke-width="0.3" text-anchor="middle" transform="translate(225.80,385.45) rotate(-90)" textLength="56" lengthAdjust="spacingAndGlyphs">% Aggregation</text>
<rect x="421.80" y="361.30" width="12.00" height="64.90" fill="#e27d90" stroke="none" stroke-width="1" />
<rect x="439.80" y="419.00" width="12.00" height="7.20" fill="#e0b68e" stroke="none" stroke-width="1" />
<rect x="458.00" y="406.70" width="12.00" height="19.50" fill="#96d8a0" stroke="none" stroke-width="1" />
<rect x="476.20" y="406.30" width="12.00" height="19.90" fill="#6fae96" stroke="none" stroke-width="1" />
<rect x="494.20" y="407.80" width="12.00" height="18.40" fill="#bdb6e2" stroke="none" stroke-width="1" />
<line x1="427.80" y1="358.90" x2="427.80" y2="363.70" stroke="#c8102e" stroke-width="1.1"/>
<line x1="425.40" y1="358.90" x2="430.20" y2="358.90" stroke="#c8102e" stroke-width="1.1"/>
<line x1="425.40" y1="363.70" x2="430.20" y2="363.70" stroke="#c8102e" stroke-width="1.1"/>
<circle cx="424.44" cy="363.70" r="1.2" fill="#c8102e"/>
<circle cx="427.80" cy="357.30" r="1.2" fill="#c8102e"/>
<circle cx="431.16" cy="362.50" r="1.2" fill="#c8102e"/>
<line x1="445.80" y1="418.20" x2="445.80" y2="419.80" stroke="#b8641e" stroke-width="1.1"/>
<line x1="443.40" y1="418.20" x2="448.20" y2="418.20" stroke="#b8641e" stroke-width="1.1"/>
<line x1="443.40" y1="419.80" x2="448.20" y2="419.80" stroke="#b8641e" stroke-width="1.1"/>
<circle cx="442.44" cy="419.60" r="1.2" fill="#b8641e"/>
<circle cx="445.80" cy="418.00" r="1.2" fill="#b8641e"/>
<circle cx="449.16" cy="419.30" r="1.2" fill="#b8641e"/>
<line x1="464.00" y1="405.80" x2="464.00" y2="407.60" stroke="#2aa040" stroke-width="1.1"/>
<line x1="461.60" y1="405.80" x2="466.40" y2="405.80" stroke="#2aa040" stroke-width="1.1"/>
<line x1="461.60" y1="407.60" x2="466.40" y2="407.60" stroke="#2aa040" stroke-width="1.1"/>
<circle cx="460.64" cy="407.60" r="1.2" fill="#2aa040"/>
<circle cx="464.00" cy="405.20" r="1.2" fill="#2aa040"/>
<circle cx="467.36" cy="407.15" r="1.2" fill="#2aa040"/>
<line x1="482.20" y1="402.70" x2="482.20" y2="409.90" stroke="#1e6e56" stroke-width="1.1"/>
<line x1="479.80" y1="402.70" x2="484.60" y2="402.70" stroke="#1e6e56" stroke-width="1.1"/>
<line x1="479.80" y1="409.90" x2="484.60" y2="409.90" stroke="#1e6e56" stroke-width="1.1"/>
<circle cx="478.84" cy="409.90" r="1.2" fill="#1e6e56"/>
<circle cx="482.20" cy="400.30" r="1.2" fill="#1e6e56"/>
<circle cx="485.56" cy="408.10" r="1.2" fill="#1e6e56"/>
<line x1="500.20" y1="404.80" x2="500.20" y2="410.80" stroke="#7a70c8" stroke-width="1.1"/>
<line x1="497.80" y1="404.80" x2="502.60" y2="404.80" stroke="#7a70c8" stroke-width="1.1"/>
<line x1="497.80" y1="410.80" x2="502.60" y2="410.80" stroke="#7a70c8" stroke-width="1.1"/>
<circle cx="496.84" cy="410.80" r="1.2" fill="#7a70c8"/>
<circle cx="500.20" cy="402.80" r="1.2" fill="#7a70c8"/>
<circle cx="503.56" cy="409.30" r="1.2" fill="#7a70c8"/>
<line x1="415.90" y1="344.00" x2="415.90" y2="426.80" stroke="#231f20" stroke-width="1.4"/>
<line x1="415.20" y1="426.20" x2="509.00" y2="426.20" stroke="#231f20" stroke-width="1.4"/>
<line x1="412.40" y1="426.20" x2="415.90" y2="426.20" stroke="#231f20" stroke-width="1"/>
<text x="409.00" y="429.50" font-size="9.5" fill="#231f20" stroke="#231f20" stroke-width="0.3" text-anchor="end" font-weight="normal" textLength="13.4" lengthAdjust="spacingAndGlyphs" >0.0</text>
<line x1="412.40" y1="400.30" x2="415.90" y2="400.30" stroke="#231f20" stroke-width="1"/>
<text x="409.00" y="403.60" font-size="9.5" fill="#231f20" stroke="#231f20" stroke-width="0.3" text-anchor="end" font-weight="normal" textLength="13.4" lengthAdjust="spacingAndGlyphs" >0.5</text>
<line x1="412.40" y1="374.40" x2="415.90" y2="374.40" stroke="#231f20" stroke-width="1"/>
<text x="409.00" y="377.70" font-size="9.5" fill="#231f20" stroke="#231f20" stroke-width="0.3" text-anchor="end" font-weight="normal" textLength="13.4" lengthAdjust="spacingAndGlyphs" >1.0</text>
<line x1="412.40" y1="348.50" x2="415.90" y2="348.50" stroke="#231f20" stroke-width="1"/>
<text x="409.00" y="351.80" font-size="9.5" fill="#231f20" stroke="#231f20" stroke-width="0.3" text-anchor="end" font-weight="normal" textLength="13.4" lengthAdjust="spacingAndGlyphs" >1.5</text>
<line x1="427.80" y1="426.20" x2="427.80" y2="429.20" stroke="#231f20" stroke-width="1"/>
<line x1="445.80" y1="426.20" x2="445.80" y2="429.20" stroke="#231f20" stroke-width="1"/>
<line x1="464.00" y1="426.20" x2="464.00" y2="429.20" stroke="#231f20" stroke-width="1"/>
<line x1="482.20" y1="426.20" x2="482.20" y2="429.20" stroke="#231f20" stroke-width="1"/>
<line x1="500.20" y1="426.20" x2="500.20" y2="429.20" stroke="#231f20" stroke-width="1"/>
<line x1="424.30" y1="351.50" x2="447.00" y2="351.50" stroke="#2a2a2a" stroke-width="1.15"/>
<polygon points="429.57,345.60 430.19,347.05 431.76,347.19 430.57,348.22 430.93,349.76 429.57,348.95 428.22,349.76 428.58,348.22 427.39,347.19 428.96,347.05" fill="#1a1a1a"/>
<polygon points="433.62,345.60 434.24,347.05 435.81,347.19 434.62,348.22 434.98,349.76 433.62,348.95 432.27,349.76 432.63,348.22 431.44,347.19 433.01,347.05" fill="#1a1a1a"/>
<polygon points="437.68,345.60 438.29,347.05 439.86,347.19 438.67,348.22 439.03,349.76 437.68,348.95 436.32,349.76 436.68,348.22 435.49,347.19 437.06,347.05" fill="#1a1a1a"/>
<polygon points="441.72,345.60 442.34,347.05 443.91,347.19 442.72,348.22 443.08,349.76 441.72,348.95 440.37,349.76 440.73,348.22 439.54,347.19 441.11,347.05" fill="#1a1a1a"/>
<line x1="424.30" y1="341.50" x2="474.50" y2="341.50" stroke="#2a2a2a" stroke-width="1.15"/>
<polygon points="443.32,335.60 443.94,337.05 445.51,337.19 444.32,338.22 444.68,339.76 443.32,338.95 441.97,339.76 442.33,338.22 441.14,337.19 442.71,337.05" fill="#1a1a1a"/>
<polygon points="447.38,335.60 447.99,337.05 449.56,337.19 448.37,338.22 448.73,339.76 447.38,338.95 446.02,339.76 446.38,338.22 445.19,337.19 446.76,337.05" fill="#1a1a1a"/>
<polygon points="451.43,335.60 452.04,337.05 453.61,337.19 452.42,338.22 452.78,339.76 451.43,338.95 450.07,339.76 450.43,338.22 449.24,337.19 450.81,337.05" fill="#1a1a1a"/>
<polygon points="455.47,335.60 456.09,337.05 457.66,337.19 456.47,338.22 456.83,339.76 455.47,338.95 454.12,339.76 454.48,338.22 453.29,337.19 454.86,337.05" fill="#1a1a1a"/>
<line x1="424.30" y1="332.50" x2="484.60" y2="332.50" stroke="#2a2a2a" stroke-width="1.15"/>
<polygon points="448.38,326.60 448.99,328.05 450.56,328.19 449.37,329.22 449.73,330.76 448.38,329.95 447.02,330.76 447.38,329.22 446.19,328.19 447.76,328.05" fill="#1a1a1a"/>
<polygon points="452.43,326.60 453.04,328.05 454.61,328.19 453.42,329.22 453.78,330.76 452.43,329.95 451.07,330.76 451.43,329.22 450.24,328.19 451.81,328.05" fill="#1a1a1a"/>
<polygon points="456.48,326.60 457.09,328.05 458.66,328.19 457.47,329.22 457.83,330.76 456.48,329.95 455.12,330.76 455.48,329.22 454.29,328.19 455.86,328.05" fill="#1a1a1a"/>
<polygon points="460.53,326.60 461.14,328.05 462.71,328.19 461.52,329.22 461.88,330.76 460.53,329.95 459.17,330.76 459.53,329.22 458.34,328.19 459.91,328.05" fill="#1a1a1a"/>
<line x1="424.30" y1="323.50" x2="504.10" y2="323.50" stroke="#2a2a2a" stroke-width="1.15"/>
<polygon points="458.13,317.60 458.74,319.05 460.31,319.19 459.12,320.22 459.48,321.76 458.13,320.95 456.77,321.76 457.13,320.22 455.94,319.19 457.51,319.05" fill="#1a1a1a"/>
<polygon points="462.18,317.60 462.79,319.05 464.36,319.19 463.17,320.22 463.53,321.76 462.18,320.95 460.82,321.76 461.18,320.22 459.99,319.19 461.56,319.05" fill="#1a1a1a"/>
<polygon points="466.23,317.60 466.84,319.05 468.41,319.19 467.22,320.22 467.58,321.76 466.23,320.95 464.87,321.76 465.23,320.22 464.04,319.19 465.61,319.05" fill="#1a1a1a"/>
<polygon points="470.28,317.60 470.89,319.05 472.46,319.19 471.27,320.22 471.63,321.76 470.28,320.95 468.92,321.76 469.28,320.22 468.09,319.19 469.66,319.05" fill="#1a1a1a"/>
<line x1="444.80" y1="383.50" x2="505.10" y2="383.50" stroke="#2a2a2a" stroke-width="1.15"/>
<polygon points="474.95,377.60 475.57,379.05 477.14,379.19 475.95,380.22 476.30,381.76 474.95,380.95 473.60,381.76 473.95,380.22 472.76,379.19 474.33,379.05" fill="#1a1a1a"/>
<line x1="444.80" y1="393.50" x2="494.80" y2="393.50" stroke="#2a2a2a" stroke-width="1.15"/>
<polygon points="469.80,387.60 470.42,389.05 471.99,389.19 470.80,390.22 471.15,391.76 469.80,390.95 468.45,391.76 468.80,390.22 467.61,389.19 469.18,389.05" fill="#1a1a1a"/>
<line x1="444.80" y1="402.50" x2="467.30" y2="402.50" stroke="#2a2a2a" stroke-width="1.15"/>
<polygon points="456.05,396.60 456.67,398.05 458.24,398.19 457.05,399.22 457.40,400.76 456.05,399.95 454.70,400.76 455.05,399.22 453.86,398.19 455.43,398.05" fill="#1a1a1a"/>
<g transform="translate(431.40,439.30) rotate(-45)"><text x="-9.2" y="0" font-size="9.5" fill="#231f20" stroke="#231f20" stroke-width="0.3" text-anchor="end" textLength="26" lengthAdjust="spacingAndGlyphs">ERp46</text><text x="0" y="-3.4" font-size="7" fill="#231f20" stroke="#231f20" stroke-width="0.04" text-anchor="end" textLength="8.5" lengthAdjust="spacingAndGlyphs">fl/fl</text></g>
<g transform="translate(467.60,436.80) rotate(-45)"><text x="0" y="0" font-size="9.5" fill="#231f20" stroke="#231f20" stroke-width="0.3" text-anchor="end" textLength="33" lengthAdjust="spacingAndGlyphs">cc-aa-aa</text></g>
<g transform="translate(485.80,436.80) rotate(-45)"><text x="0" y="0" font-size="9.5" fill="#231f20" stroke="#231f20" stroke-width="0.3" text-anchor="end" textLength="33" lengthAdjust="spacingAndGlyphs">aa-cc-aa</text></g>
<g transform="translate(503.80,436.80) rotate(-45)"><text x="0" y="0" font-size="9.5" fill="#231f20" stroke="#231f20" stroke-width="0.3" text-anchor="end" textLength="33" lengthAdjust="spacingAndGlyphs">aa-aa-cc</text></g>
<line x1="444.60" y1="463.50" x2="498.50" y2="463.50" stroke="#231f20" stroke-width="1.15"/>
<text x="497.00" y="476.30" font-size="10.2" fill="#231f20" stroke="#231f20" stroke-width="0.3" text-anchor="end" textLength="56.3" lengthAdjust="spacingAndGlyphs">Pf4-Cre/ERp46</text>
<text x="497.60" y="472.80" font-size="7" fill="#231f20" stroke="#231f20" stroke-width="0.04" textLength="9.3" lengthAdjust="spacingAndGlyphs">fl/fl</text>
<text x="0" y="0" font-size="9.6" fill="#231f20" stroke="#231f20" stroke-width="0.3" text-anchor="middle" transform="translate(389.30,385.10) rotate(-90)" textLength="89" lengthAdjust="spacingAndGlyphs">ATP secretion (nmoles)</text>
<rect x="257.30" y="538.20" width="12.00" height="61.40" fill="#e27d90" stroke="none" stroke-width="1" />
<rect x="275.50" y="588.80" width="12.00" height="10.80" fill="#e0b68e" stroke="none" stroke-width="1" />
<rect x="293.80" y="557.00" width="12.00" height="42.60" fill="#9ba6b2" stroke="none" stroke-width="1" />
<rect x="312.00" y="558.10" width="12.00" height="41.50" fill="#8fd2f0" stroke="none" stroke-width="1" />
<rect x="330.30" y="559.80" width="12.00" height="39.80" fill="#a78cbd" stroke="none" stroke-width="1" />
<line x1="263.30" y1="535.20" x2="263.30" y2="541.20" stroke="#c8102e" stroke-width="1.1"/>
<line x1="260.90" y1="535.20" x2="265.70" y2="535.20" stroke="#c8102e" stroke-width="1.1"/>
<line x1="260.90" y1="541.20" x2="265.70" y2="541.20" stroke="#c8102e" stroke-width="1.1"/>
<circle cx="259.94" cy="541.20" r="1.2" fill="#c8102e"/>
<circle cx="263.30" cy="533.20" r="1.2" fill="#c8102e"/>
<circle cx="266.66" cy="539.70" r="1.2" fill="#c8102e"/>
<line x1="281.50" y1="587.00" x2="281.50" y2="590.60" stroke="#b8641e" stroke-width="1.1"/>
<line x1="279.10" y1="587.00" x2="283.90" y2="587.00" stroke="#b8641e" stroke-width="1.1"/>
<line x1="279.10" y1="590.60" x2="283.90" y2="590.60" stroke="#b8641e" stroke-width="1.1"/>
<circle cx="278.14" cy="590.60" r="1.2" fill="#b8641e"/>
<circle cx="281.50" cy="585.80" r="1.2" fill="#b8641e"/>
<circle cx="284.86" cy="589.70" r="1.2" fill="#b8641e"/>
<line x1="299.80" y1="555.80" x2="299.80" y2="558.20" stroke="#3c4a5a" stroke-width="1.1"/>
<line x1="297.40" y1="555.80" x2="302.20" y2="555.80" stroke="#3c4a5a" stroke-width="1.1"/>
<line x1="297.40" y1="558.20" x2="302.20" y2="558.20" stroke="#3c4a5a" stroke-width="1.1"/>
<circle cx="296.44" cy="558.20" r="1.2" fill="#3c4a5a"/>
<circle cx="299.80" cy="555.00" r="1.2" fill="#3c4a5a"/>
<circle cx="303.16" cy="557.60" r="1.2" fill="#3c4a5a"/>
<line x1="318.00" y1="555.70" x2="318.00" y2="560.50" stroke="#1aa0d8" stroke-width="1.1"/>
<line x1="315.60" y1="555.70" x2="320.40" y2="555.70" stroke="#1aa0d8" stroke-width="1.1"/>
<line x1="315.60" y1="560.50" x2="320.40" y2="560.50" stroke="#1aa0d8" stroke-width="1.1"/>
<circle cx="314.64" cy="560.50" r="1.2" fill="#1aa0d8"/>
<circle cx="318.00" cy="554.10" r="1.2" fill="#1aa0d8"/>
<circle cx="321.36" cy="559.30" r="1.2" fill="#1aa0d8"/>
<line x1="336.30" y1="557.40" x2="336.30" y2="562.20" stroke="#4a1a70" stroke-width="1.1"/>
<line x1="333.90" y1="557.40" x2="338.70" y2="557.40" stroke="#4a1a70" stroke-width="1.1"/>
<line x1="333.90" y1="562.20" x2="338.70" y2="562.20" stroke="#4a1a70" stroke-width="1.1"/>
<circle cx="332.94" cy="562.20" r="1.2" fill="#4a1a70"/>
<circle cx="336.30" cy="555.80" r="1.2" fill="#4a1a70"/>
<circle cx="339.66" cy="561.00" r="1.2" fill="#4a1a70"/>
<line x1="251.20" y1="512.00" x2="251.20" y2="600.20" stroke="#231f20" stroke-width="1.4"/>
<line x1="250.50" y1="599.60" x2="345.80" y2="599.60" stroke="#231f20" stroke-width="1.4"/>
<line x1="247.70" y1="599.60" x2="251.20" y2="599.60" stroke="#231f20" stroke-width="1"/>
<text x="244.30" y="602.90" font-size="9.5" fill="#231f20" stroke="#231f20" stroke-width="0.3" text-anchor="end" font-weight="normal" textLength="4.9" lengthAdjust="spacingAndGlyphs" >0</text>
<line x1="247.70" y1="579.00" x2="251.20" y2="579.00" stroke="#231f20" stroke-width="1"/>
<text x="244.30" y="582.30" font-size="9.5" fill="#231f20" stroke="#231f20" stroke-width="0.3" text-anchor="end" font-weight="normal" textLength="9.8" lengthAdjust="spacingAndGlyphs" >20</text>
<line x1="247.70" y1="558.40" x2="251.20" y2="558.40" stroke="#231f20" stroke-width="1"/>
<text x="244.30" y="561.70" font-size="9.5" fill="#231f20" stroke="#231f20" stroke-width="0.3" text-anchor="end" font-weight="normal" textLength="9.8" lengthAdjust="spacingAndGlyphs" >40</text>
<line x1="247.70" y1="537.80" x2="251.20" y2="537.80" stroke="#231f20" stroke-width="1"/>
<text x="244.30" y="541.10" font-size="9.5" fill="#231f20" stroke="#231f20" stroke-width="0.3" text-anchor="end" font-weight="normal" textLength="9.8" lengthAdjust="spacingAndGlyphs" >60</text>
<line x1="247.70" y1="517.20" x2="251.20" y2="517.20" stroke="#231f20" stroke-width="1"/>
<text x="244.30" y="520.50" font-size="9.5" fill="#231f20" stroke="#231f20" stroke-width="0.3" text-anchor="end" font-weight="normal" textLength="9.8" lengthAdjust="spacingAndGlyphs" >80</text>
<line x1="263.30" y1="599.60" x2="263.30" y2="602.60" stroke="#231f20" stroke-width="1"/>
<line x1="281.50" y1="599.60" x2="281.50" y2="602.60" stroke="#231f20" stroke-width="1"/>
<line x1="299.80" y1="599.60" x2="299.80" y2="602.60" stroke="#231f20" stroke-width="1"/>
<line x1="318.00" y1="599.60" x2="318.00" y2="602.60" stroke="#231f20" stroke-width="1"/>
<line x1="336.30" y1="599.60" x2="336.30" y2="602.60" stroke="#231f20" stroke-width="1"/>
<line x1="259.50" y1="526.50" x2="284.80" y2="526.50" stroke="#2a2a2a" stroke-width="1.15"/>
<polygon points="266.07,520.60 266.69,522.05 268.26,522.19 267.07,523.22 267.43,524.76 266.07,523.95 264.72,524.76 265.08,523.22 263.89,522.19 265.46,522.05" fill="#1a1a1a"/>
<polygon points="270.12,520.60 270.74,522.05 272.31,522.19 271.12,523.22 271.48,524.76 270.12,523.95 268.77,524.76 269.13,523.22 267.94,522.19 269.51,522.05" fill="#1a1a1a"/>
<polygon points="274.18,520.60 274.79,522.05 276.36,522.19 275.17,523.22 275.53,524.76 274.18,523.95 272.82,524.76 273.18,523.22 271.99,522.19 273.56,522.05" fill="#1a1a1a"/>
<polygon points="278.22,520.60 278.84,522.05 280.41,522.19 279.22,523.22 279.58,524.76 278.22,523.95 276.87,524.76 277.23,523.22 276.04,522.19 277.61,522.05" fill="#1a1a1a"/>
<line x1="259.50" y1="516.50" x2="304.50" y2="516.50" stroke="#2a2a2a" stroke-width="1.15"/>
<polygon points="279.98,510.60 280.59,512.05 282.16,512.19 280.97,513.22 281.33,514.76 279.98,513.95 278.62,514.76 278.98,513.22 277.79,512.19 279.36,512.05" fill="#1a1a1a"/>
<polygon points="284.03,510.60 284.64,512.05 286.21,512.19 285.02,513.22 285.38,514.76 284.03,513.95 282.67,514.76 283.03,513.22 281.84,512.19 283.41,512.05" fill="#1a1a1a"/>
<line x1="259.50" y1="505.50" x2="314.50" y2="505.50" stroke="#2a2a2a" stroke-width="1.15"/>
<polygon points="284.98,499.60 285.59,501.05 287.16,501.19 285.97,502.22 286.33,503.76 284.98,502.95 283.62,503.76 283.98,502.22 282.79,501.19 284.36,501.05" fill="#1a1a1a"/>
<polygon points="289.03,499.60 289.64,501.05 291.21,501.19 290.02,502.22 290.38,503.76 289.03,502.95 287.67,503.76 288.03,502.22 286.84,501.19 288.41,501.05" fill="#1a1a1a"/>
<line x1="259.50" y1="495.50" x2="334.60" y2="495.50" stroke="#2a2a2a" stroke-width="1.15"/>
<polygon points="293.00,489.60 293.62,491.05 295.19,491.19 294.00,492.22 294.35,493.76 293.00,492.95 291.65,493.76 292.00,492.22 290.81,491.19 292.38,491.05" fill="#1a1a1a"/>
<polygon points="297.05,489.60 297.67,491.05 299.24,491.19 298.05,492.22 298.40,493.76 297.05,492.95 295.70,493.76 296.05,492.22 294.86,491.19 296.43,491.05" fill="#1a1a1a"/>
<polygon points="301.10,489.60 301.72,491.05 303.29,491.19 302.10,492.22 302.45,493.76 301.10,492.95 299.75,493.76 300.10,492.22 298.91,491.19 300.48,491.05" fill="#1a1a1a"/>
<line x1="278.00" y1="531.50" x2="333.70" y2="531.50" stroke="#2a2a2a" stroke-width="1.15"/>
<polygon points="299.78,525.60 300.39,527.05 301.96,527.19 300.77,528.22 301.13,529.76 299.78,528.95 298.42,529.76 298.78,528.22 297.59,527.19 299.16,527.05" fill="#1a1a1a"/>
<polygon points="303.83,525.60 304.44,527.05 306.01,527.19 304.82,528.22 305.18,529.76 303.83,528.95 302.47,529.76 302.83,528.22 301.64,527.19 303.21,527.05" fill="#1a1a1a"/>
<polygon points="307.88,525.60 308.49,527.05 310.06,527.19 308.87,528.22 309.23,529.76 307.88,528.95 306.52,529.76 306.88,528.22 305.69,527.19 307.26,527.05" fill="#1a1a1a"/>
<polygon points="311.93,525.60 312.54,527.05 314.11,527.19 312.92,528.22 313.28,529.76 311.93,528.95 310.57,529.76 310.93,528.22 309.74,527.19 311.31,527.05" fill="#1a1a1a"/>
<line x1="278.00" y1="541.50" x2="323.10" y2="541.50" stroke="#2a2a2a" stroke-width="1.15"/>
<polygon points="294.48,535.60 295.09,537.05 296.66,537.19 295.47,538.22 295.83,539.76 294.48,538.95 293.12,539.76 293.48,538.22 292.29,537.19 293.86,537.05" fill="#1a1a1a"/>
<polygon points="298.53,535.60 299.14,537.05 300.71,537.19 299.52,538.22 299.88,539.76 298.53,538.95 297.17,539.76 297.53,538.22 296.34,537.19 297.91,537.05" fill="#1a1a1a"/>
<polygon points="302.58,535.60 303.19,537.05 304.76,537.19 303.57,538.22 303.93,539.76 302.58,538.95 301.22,539.76 301.58,538.22 300.39,537.19 301.96,537.05" fill="#1a1a1a"/>
<polygon points="306.62,535.60 307.24,537.05 308.81,537.19 307.62,538.22 307.98,539.76 306.62,538.95 305.27,539.76 305.63,538.22 304.44,537.19 306.01,537.05" fill="#1a1a1a"/>
<line x1="278.00" y1="551.50" x2="304.10" y2="551.50" stroke="#2a2a2a" stroke-width="1.15"/>
<polygon points="284.98,545.60 285.59,547.05 287.16,547.19 285.97,548.22 286.33,549.76 284.98,548.95 283.62,549.76 283.98,548.22 282.79,547.19 284.36,547.05" fill="#1a1a1a"/>
<polygon points="289.03,545.60 289.64,547.05 291.21,547.19 290.02,548.22 290.38,549.76 289.03,548.95 287.67,549.76 288.03,548.22 286.84,547.19 288.41,547.05" fill="#1a1a1a"/>
<polygon points="293.08,545.60 293.69,547.05 295.26,547.19 294.07,548.22 294.43,549.76 293.08,548.95 291.72,549.76 292.08,548.22 290.89,547.19 292.46,547.05" fill="#1a1a1a"/>
<polygon points="297.12,545.60 297.74,547.05 299.31,547.19 298.12,548.22 298.48,549.76 297.12,548.95 295.77,549.76 296.13,548.22 294.94,547.19 296.51,547.05" fill="#1a1a1a"/>
<g transform="translate(266.90,612.70) rotate(-45)"><text x="-9.2" y="0" font-size="9.5" fill="#231f20" stroke="#231f20" stroke-width="0.3" text-anchor="end" textLength="26" lengthAdjust="spacingAndGlyphs">ERp46</text><text x="0" y="-3.4" font-size="7" fill="#231f20" stroke="#231f20" stroke-width="0.04" text-anchor="end" textLength="8.5" lengthAdjust="spacingAndGlyphs">fl/fl</text></g>
<g transform="translate(303.40,610.20) rotate(-45)"><text x="0" y="0" font-size="9.5" fill="#231f20" stroke="#231f20" stroke-width="0.3" text-anchor="end" textLength="33" lengthAdjust="spacingAndGlyphs">aa-cc-cc</text></g>
<g transform="translate(321.60,610.20) rotate(-45)"><text x="0" y="0" font-size="9.5" fill="#231f20" stroke="#231f20" stroke-width="0.3" text-anchor="end" textLength="33" lengthAdjust="spacingAndGlyphs">cc-aa-cc</text></g>
<g transform="translate(339.90,610.20) rotate(-45)"><text x="0" y="0" font-size="9.5" fill="#231f20" stroke="#231f20" stroke-width="0.3" text-anchor="end" textLength="33" lengthAdjust="spacingAndGlyphs">cc-cc-aa</text></g>
<line x1="281.30" y1="636.50" x2="336.20" y2="636.50" stroke="#231f20" stroke-width="1.15"/>
<text x="334.00" y="649.30" font-size="10.2" fill="#231f20" stroke="#231f20" stroke-width="0.3" text-anchor="end" textLength="56.3" lengthAdjust="spacingAndGlyphs">Pf4-Cre/ERp46</text>
<text x="334.60" y="645.80" font-size="7" fill="#231f20" stroke="#231f20" stroke-width="0.04" textLength="9.3" lengthAdjust="spacingAndGlyphs">fl/fl</text>
<text x="0" y="0" font-size="9.6" fill="#231f20" stroke="#231f20" stroke-width="0.3" text-anchor="middle" transform="translate(225.80,555.80) rotate(-90)" textLength="56" lengthAdjust="spacingAndGlyphs">% Aggregation</text>
<rect x="421.80" y="534.80" width="12.00" height="64.80" fill="#e27d90" stroke="none" stroke-width="1" />
<rect x="439.80" y="591.10" width="12.00" height="8.50" fill="#e0b68e" stroke="none" stroke-width="1" />
<rect x="458.00" y="573.60" width="12.00" height="26.00" fill="#9ba6b2" stroke="none" stroke-width="1" />
<rect x="476.20" y="575.70" width="12.00" height="23.90" fill="#8fd2f0" stroke="none" stroke-width="1" />
<rect x="494.20" y="570.80" width="12.00" height="28.80" fill="#a78cbd" stroke="none" stroke-width="1" />
<line x1="427.80" y1="532.40" x2="427.80" y2="537.20" stroke="#c8102e" stroke-width="1.1"/>
<line x1="425.40" y1="532.40" x2="430.20" y2="532.40" stroke="#c8102e" stroke-width="1.1"/>
<line x1="425.40" y1="537.20" x2="430.20" y2="537.20" stroke="#c8102e" stroke-width="1.1"/>
<circle cx="424.44" cy="537.20" r="1.2" fill="#c8102e"/>
<circle cx="427.80" cy="530.80" r="1.2" fill="#c8102e"/>
<circle cx="431.16" cy="536.00" r="1.2" fill="#c8102e"/>
<line x1="445.80" y1="589.90" x2="445.80" y2="592.30" stroke="#b8641e" stroke-width="1.1"/>
<line x1="443.40" y1="589.90" x2="448.20" y2="589.90" stroke="#b8641e" stroke-width="1.1"/>
<line x1="443.40" y1="592.30" x2="448.20" y2="592.30" stroke="#b8641e" stroke-width="1.1"/>
<circle cx="442.44" cy="592.30" r="1.2" fill="#b8641e"/>
<circle cx="445.80" cy="589.10" r="1.2" fill="#b8641e"/>
<circle cx="449.16" cy="591.70" r="1.2" fill="#b8641e"/>
<line x1="464.00" y1="571.80" x2="464.00" y2="575.40" stroke="#3c4a5a" stroke-width="1.1"/>
<line x1="461.60" y1="571.80" x2="466.40" y2="571.80" stroke="#3c4a5a" stroke-width="1.1"/>
<line x1="461.60" y1="575.40" x2="466.40" y2="575.40" stroke="#3c4a5a" stroke-width="1.1"/>
<circle cx="460.64" cy="575.40" r="1.2" fill="#3c4a5a"/>
<circle cx="464.00" cy="570.60" r="1.2" fill="#3c4a5a"/>
<circle cx="467.36" cy="574.50" r="1.2" fill="#3c4a5a"/>
<line x1="482.20" y1="574.90" x2="482.20" y2="576.50" stroke="#1aa0d8" stroke-width="1.1"/>
<line x1="479.80" y1="574.90" x2="484.60" y2="574.90" stroke="#1aa0d8" stroke-width="1.1"/>
<line x1="479.80" y1="576.50" x2="484.60" y2="576.50" stroke="#1aa0d8" stroke-width="1.1"/>
<circle cx="478.84" cy="576.30" r="1.2" fill="#1aa0d8"/>
<circle cx="482.20" cy="574.70" r="1.2" fill="#1aa0d8"/>
<circle cx="485.56" cy="576.00" r="1.2" fill="#1aa0d8"/>
<line x1="500.20" y1="567.20" x2="500.20" y2="574.40" stroke="#4a1a70" stroke-width="1.1"/>
<line x1="497.80" y1="567.20" x2="502.60" y2="567.20" stroke="#4a1a70" stroke-width="1.1"/>
<line x1="497.80" y1="574.40" x2="502.60" y2="574.40" stroke="#4a1a70" stroke-width="1.1"/>
<circle cx="496.84" cy="574.40" r="1.2" fill="#4a1a70"/>
<circle cx="500.20" cy="564.80" r="1.2" fill="#4a1a70"/>
<circle cx="503.56" cy="572.60" r="1.2" fill="#4a1a70"/>
<line x1="415.90" y1="515.00" x2="415.90" y2="600.20" stroke="#231f20" stroke-width="1.4"/>
<line x1="415.20" y1="599.60" x2="509.00" y2="599.60" stroke="#231f20" stroke-width="1.4"/>
<line x1="412.40" y1="599.60" x2="415.90" y2="599.60" stroke="#231f20" stroke-width="1"/>
<text x="409.00" y="602.90" font-size="9.5" fill="#231f20" stroke="#231f20" stroke-width="0.3" text-anchor="end" font-weight="normal" textLength="13.4" lengthAdjust="spacingAndGlyphs" >0.0</text>
<line x1="412.40" y1="573.30" x2="415.90" y2="573.30" stroke="#231f20" stroke-width="1"/>
<text x="409.00" y="576.60" font-size="9.5" fill="#231f20" stroke="#231f20" stroke-width="0.3" text-anchor="end" font-weight="normal" textLength="13.4" lengthAdjust="spacingAndGlyphs" >0.5</text>
<line x1="412.40" y1="547.00" x2="415.90" y2="547.00" stroke="#231f20" stroke-width="1"/>
<text x="409.00" y="550.30" font-size="9.5" fill="#231f20" stroke="#231f20" stroke-width="0.3" text-anchor="end" font-weight="normal" textLength="13.4" lengthAdjust="spacingAndGlyphs" >1.0</text>
<line x1="412.40" y1="520.70" x2="415.90" y2="520.70" stroke="#231f20" stroke-width="1"/>
<text x="409.00" y="524.00" font-size="9.5" fill="#231f20" stroke="#231f20" stroke-width="0.3" text-anchor="end" font-weight="normal" textLength="13.4" lengthAdjust="spacingAndGlyphs" >1.5</text>
<line x1="427.80" y1="599.60" x2="427.80" y2="602.60" stroke="#231f20" stroke-width="1"/>
<line x1="445.80" y1="599.60" x2="445.80" y2="602.60" stroke="#231f20" stroke-width="1"/>
<line x1="464.00" y1="599.60" x2="464.00" y2="602.60" stroke="#231f20" stroke-width="1"/>
<line x1="482.20" y1="599.60" x2="482.20" y2="602.60" stroke="#231f20" stroke-width="1"/>
<line x1="500.20" y1="599.60" x2="500.20" y2="602.60" stroke="#231f20" stroke-width="1"/>
<line x1="425.00" y1="526.50" x2="451.80" y2="526.50" stroke="#2a2a2a" stroke-width="1.15"/>
<polygon points="432.32,520.60 432.94,522.05 434.51,522.19 433.32,523.22 433.68,524.76 432.32,523.95 430.97,524.76 431.33,523.22 430.14,522.19 431.71,522.05" fill="#1a1a1a"/>
<polygon points="436.38,520.60 436.99,522.05 438.56,522.19 437.37,523.22 437.73,524.76 436.38,523.95 435.02,524.76 435.38,523.22 434.19,522.19 435.76,522.05" fill="#1a1a1a"/>
<polygon points="440.43,520.60 441.04,522.05 442.61,522.19 441.42,523.22 441.78,524.76 440.43,523.95 439.07,524.76 439.43,523.22 438.24,522.19 439.81,522.05" fill="#1a1a1a"/>
<polygon points="444.47,520.60 445.09,522.05 446.66,522.19 445.47,523.22 445.83,524.76 444.47,523.95 443.12,524.76 443.48,523.22 442.29,522.19 443.86,522.05" fill="#1a1a1a"/>
<line x1="425.00" y1="516.50" x2="473.00" y2="516.50" stroke="#2a2a2a" stroke-width="1.15"/>
<polygon points="442.93,510.60 443.54,512.05 445.11,512.19 443.92,513.22 444.28,514.76 442.93,513.95 441.57,514.76 441.93,513.22 440.74,512.19 442.31,512.05" fill="#1a1a1a"/>
<polygon points="446.98,510.60 447.59,512.05 449.16,512.19 447.97,513.22 448.33,514.76 446.98,513.95 445.62,514.76 445.98,513.22 444.79,512.19 446.36,512.05" fill="#1a1a1a"/>
<polygon points="451.03,510.60 451.64,512.05 453.21,512.19 452.02,513.22 452.38,514.76 451.03,513.95 449.67,514.76 450.03,513.22 448.84,512.19 450.41,512.05" fill="#1a1a1a"/>
<polygon points="455.07,510.60 455.69,512.05 457.26,512.19 456.07,513.22 456.43,514.76 455.07,513.95 453.72,514.76 454.08,513.22 452.89,512.19 454.46,512.05" fill="#1a1a1a"/>
<line x1="425.00" y1="505.50" x2="483.60" y2="505.50" stroke="#2a2a2a" stroke-width="1.15"/>
<polygon points="448.23,499.60 448.84,501.05 450.41,501.19 449.22,502.22 449.58,503.76 448.23,502.95 446.87,503.76 447.23,502.22 446.04,501.19 447.61,501.05" fill="#1a1a1a"/>
<polygon points="452.28,499.60 452.89,501.05 454.46,501.19 453.27,502.22 453.63,503.76 452.28,502.95 450.92,503.76 451.28,502.22 450.09,501.19 451.66,501.05" fill="#1a1a1a"/>
<polygon points="456.33,499.60 456.94,501.05 458.51,501.19 457.32,502.22 457.68,503.76 456.33,502.95 454.97,503.76 455.33,502.22 454.14,501.19 455.71,501.05" fill="#1a1a1a"/>
<polygon points="460.38,499.60 460.99,501.05 462.56,501.19 461.37,502.22 461.73,503.76 460.38,502.95 459.02,503.76 459.38,502.22 458.19,501.19 459.76,501.05" fill="#1a1a1a"/>
<line x1="425.00" y1="495.50" x2="505.10" y2="495.50" stroke="#2a2a2a" stroke-width="1.15"/>
<polygon points="461.00,489.60 461.62,491.05 463.19,491.19 462.00,492.22 462.35,493.76 461.00,492.95 459.65,493.76 460.00,492.22 458.81,491.19 460.38,491.05" fill="#1a1a1a"/>
<polygon points="465.05,489.60 465.67,491.05 467.24,491.19 466.05,492.22 466.40,493.76 465.05,492.95 463.70,493.76 464.05,492.22 462.86,491.19 464.43,491.05" fill="#1a1a1a"/>
<polygon points="469.10,489.60 469.72,491.05 471.29,491.19 470.10,492.22 470.45,493.76 469.10,492.95 467.75,493.76 468.10,492.22 466.91,491.19 468.48,491.05" fill="#1a1a1a"/>
<line x1="440.80" y1="545.50" x2="500.00" y2="545.50" stroke="#2a2a2a" stroke-width="1.15"/>
<polygon points="468.38,539.60 468.99,541.05 470.56,541.19 469.37,542.22 469.73,543.76 468.38,542.95 467.02,543.76 467.38,542.22 466.19,541.19 467.76,541.05" fill="#1a1a1a"/>
<polygon points="472.43,539.60 473.04,541.05 474.61,541.19 473.42,542.22 473.78,543.76 472.43,542.95 471.07,543.76 471.43,542.22 470.24,541.19 471.81,541.05" fill="#1a1a1a"/>
<line x1="440.80" y1="554.50" x2="489.30" y2="554.50" stroke="#2a2a2a" stroke-width="1.15"/>
<polygon points="465.05,548.60 465.67,550.05 467.24,550.19 466.05,551.22 466.40,552.76 465.05,551.95 463.70,552.76 464.05,551.22 462.86,550.19 464.43,550.05" fill="#1a1a1a"/>
<line x1="440.80" y1="565.50" x2="467.70" y2="565.50" stroke="#2a2a2a" stroke-width="1.15"/>
<polygon points="454.25,559.60 454.87,561.05 456.44,561.19 455.25,562.22 455.60,563.76 454.25,562.95 452.90,563.76 453.25,562.22 452.06,561.19 453.63,561.05" fill="#1a1a1a"/>
<g transform="translate(431.40,612.70) rotate(-45)"><text x="-9.2" y="0" font-size="9.5" fill="#231f20" stroke="#231f20" stroke-width="0.3" text-anchor="end" textLength="26" lengthAdjust="spacingAndGlyphs">ERp46</text><text x="0" y="-3.4" font-size="7" fill="#231f20" stroke="#231f20" stroke-width="0.04" text-anchor="end" textLength="8.5" lengthAdjust="spacingAndGlyphs">fl/fl</text></g>
<g transform="translate(467.60,610.20) rotate(-45)"><text x="0" y="0" font-size="9.5" fill="#231f20" stroke="#231f20" stroke-width="0.3" text-anchor="end" textLength="33" lengthAdjust="spacingAndGlyphs">aa-cc-cc</text></g>
<g transform="translate(485.80,610.20) rotate(-45)"><text x="0" y="0" font-size="9.5" fill="#231f20" stroke="#231f20" stroke-width="0.3" text-anchor="end" textLength="33" lengthAdjust="spacingAndGlyphs">cc-aa-cc</text></g>
<g transform="translate(503.80,610.20) rotate(-45)"><text x="0" y="0" font-size="9.5" fill="#231f20" stroke="#231f20" stroke-width="0.3" text-anchor="end" textLength="33" lengthAdjust="spacingAndGlyphs">cc-cc-aa</text></g>
<line x1="444.60" y1="636.50" x2="498.50" y2="636.50" stroke="#231f20" stroke-width="1.15"/>
<text x="497.00" y="649.30" font-size="10.2" fill="#231f20" stroke="#231f20" stroke-width="0.3" text-anchor="end" textLength="56.3" lengthAdjust="spacingAndGlyphs">Pf4-Cre/ERp46</text>
<text x="497.60" y="645.80" font-size="7" fill="#231f20" stroke="#231f20" stroke-width="0.04" textLength="9.3" lengthAdjust="spacingAndGlyphs">fl/fl</text>
<text x="0" y="0" font-size="9.6" fill="#231f20" stroke="#231f20" stroke-width="0.3" text-anchor="middle" transform="translate(389.30,557.30) rotate(-90)" textLength="89" lengthAdjust="spacingAndGlyphs">ATP secretion (nmoles)</text>
<rect x="257.30" y="717.10" width="12.00" height="54.00" fill="#e27d90" stroke="none" stroke-width="1" />
<rect x="275.50" y="761.00" width="12.00" height="10.10" fill="#86a9cc" stroke="none" stroke-width="1" />
<rect x="293.80" y="748.90" width="12.00" height="22.20" fill="#96d8a0" stroke="none" stroke-width="1" />
<rect x="312.00" y="733.00" width="12.00" height="38.10" fill="#a78cbd" stroke="none" stroke-width="1" />
<rect x="330.30" y="701.30" width="12.00" height="69.80" fill="#fcc27e" stroke="none" stroke-width="1" />
<line x1="263.30" y1="715.30" x2="263.30" y2="718.90" stroke="#c8102e" stroke-width="1.1"/>
<line x1="260.90" y1="715.30" x2="265.70" y2="715.30" stroke="#c8102e" stroke-width="1.1"/>
<line x1="260.90" y1="718.90" x2="265.70" y2="718.90" stroke="#c8102e" stroke-width="1.1"/>
<circle cx="259.34" cy="714.30" r="1.2" fill="#c8102e"/>
<circle cx="259.34" cy="720.70" r="1.2" fill="#c8102e"/>
<circle cx="263.30" cy="711.90" r="1.2" fill="#c8102e"/>
<circle cx="267.26" cy="715.90" r="1.2" fill="#c8102e"/>
<circle cx="267.26" cy="720.30" r="1.2" fill="#c8102e"/>
<circle cx="264.26" cy="717.90" r="1.2" fill="#c8102e"/>
<line x1="281.50" y1="759.20" x2="281.50" y2="762.80" stroke="#123f7a" stroke-width="1.1"/>
<line x1="279.10" y1="759.20" x2="283.90" y2="759.20" stroke="#123f7a" stroke-width="1.1"/>
<line x1="279.10" y1="762.80" x2="283.90" y2="762.80" stroke="#123f7a" stroke-width="1.1"/>
<circle cx="277.54" cy="758.20" r="1.2" fill="#123f7a"/>
<circle cx="277.54" cy="764.60" r="1.2" fill="#123f7a"/>
<circle cx="281.50" cy="755.80" r="1.2" fill="#123f7a"/>
<circle cx="285.46" cy="759.80" r="1.2" fill="#123f7a"/>
<circle cx="285.46" cy="764.20" r="1.2" fill="#123f7a"/>
<circle cx="282.46" cy="761.80" r="1.2" fill="#123f7a"/>
<line x1="299.80" y1="746.65" x2="299.80" y2="751.15" stroke="#2aa040" stroke-width="1.1"/>
<line x1="297.40" y1="746.65" x2="302.20" y2="746.65" stroke="#2aa040" stroke-width="1.1"/>
<line x1="297.40" y1="751.15" x2="302.20" y2="751.15" stroke="#2aa040" stroke-width="1.1"/>
<circle cx="295.84" cy="745.40" r="1.2" fill="#2aa040"/>
<circle cx="295.84" cy="753.40" r="1.2" fill="#2aa040"/>
<circle cx="299.80" cy="742.40" r="1.2" fill="#2aa040"/>
<circle cx="303.76" cy="747.40" r="1.2" fill="#2aa040"/>
<circle cx="303.76" cy="752.90" r="1.2" fill="#2aa040"/>
<circle cx="300.76" cy="749.90" r="1.2" fill="#2aa040"/>
<line x1="318.00" y1="730.75" x2="318.00" y2="735.25" stroke="#4a1a70" stroke-width="1.1"/>
<line x1="315.60" y1="730.75" x2="320.40" y2="730.75" stroke="#4a1a70" stroke-width="1.1"/>
<line x1="315.60" y1="735.25" x2="320.40" y2="735.25" stroke="#4a1a70" stroke-width="1.1"/>
<circle cx="314.04" cy="729.50" r="1.2" fill="#4a1a70"/>
<circle cx="314.04" cy="737.50" r="1.2" fill="#4a1a70"/>
<circle cx="318.00" cy="726.50" r="1.2" fill="#4a1a70"/>
<circle cx="321.96" cy="731.50" r="1.2" fill="#4a1a70"/>
<circle cx="321.96" cy="737.00" r="1.2" fill="#4a1a70"/>
<circle cx="318.96" cy="734.00" r="1.2" fill="#4a1a70"/>
<line x1="336.30" y1="698.60" x2="336.30" y2="704.00" stroke="#f59a20" stroke-width="1.1"/>
<line x1="333.90" y1="698.60" x2="338.70" y2="698.60" stroke="#f59a20" stroke-width="1.1"/>
<line x1="333.90" y1="704.00" x2="338.70" y2="704.00" stroke="#f59a20" stroke-width="1.1"/>
<circle cx="332.34" cy="697.10" r="1.2" fill="#f59a20"/>
<circle cx="332.34" cy="706.70" r="1.2" fill="#f59a20"/>
<circle cx="336.30" cy="693.50" r="1.2" fill="#f59a20"/>
<circle cx="340.26" cy="699.50" r="1.2" fill="#f59a20"/>
<circle cx="340.26" cy="706.10" r="1.2" fill="#f59a20"/>
<circle cx="337.26" cy="702.50" r="1.2" fill="#f59a20"/>
<line x1="251.20" y1="686.50" x2="251.20" y2="771.70" stroke="#231f20" stroke-width="1.4"/>
<line x1="250.50" y1="771.10" x2="345.80" y2="771.10" stroke="#231f20" stroke-width="1.4"/>
<line x1="247.70" y1="771.10" x2="251.20" y2="771.10" stroke="#231f20" stroke-width="1"/>
<text x="244.30" y="774.40" font-size="9.5" fill="#231f20" stroke="#231f20" stroke-width="0.3" text-anchor="end" font-weight="normal" textLength="4.9" lengthAdjust="spacingAndGlyphs" >0</text>
<line x1="247.70" y1="751.25" x2="251.20" y2="751.25" stroke="#231f20" stroke-width="1"/>
<text x="244.30" y="754.55" font-size="9.5" fill="#231f20" stroke="#231f20" stroke-width="0.3" text-anchor="end" font-weight="normal" textLength="9.8" lengthAdjust="spacingAndGlyphs" >20</text>
<line x1="247.70" y1="731.40" x2="251.20" y2="731.40" stroke="#231f20" stroke-width="1"/>
<text x="244.30" y="734.70" font-size="9.5" fill="#231f20" stroke="#231f20" stroke-width="0.3" text-anchor="end" font-weight="normal" textLength="9.8" lengthAdjust="spacingAndGlyphs" >40</text>
<line x1="247.70" y1="711.55" x2="251.20" y2="711.55" stroke="#231f20" stroke-width="1"/>
<text x="244.30" y="714.85" font-size="9.5" fill="#231f20" stroke="#231f20" stroke-width="0.3" text-anchor="end" font-weight="normal" textLength="9.8" lengthAdjust="spacingAndGlyphs" >60</text>
<line x1="247.70" y1="691.70" x2="251.20" y2="691.70" stroke="#231f20" stroke-width="1"/>
<text x="244.30" y="695.00" font-size="9.5" fill="#231f20" stroke="#231f20" stroke-width="0.3" text-anchor="end" font-weight="normal" textLength="9.8" lengthAdjust="spacingAndGlyphs" >80</text>
<line x1="263.30" y1="771.10" x2="263.30" y2="774.10" stroke="#231f20" stroke-width="1"/>
<line x1="281.50" y1="771.10" x2="281.50" y2="774.10" stroke="#231f20" stroke-width="1"/>
<line x1="299.80" y1="771.10" x2="299.80" y2="774.10" stroke="#231f20" stroke-width="1"/>
<line x1="318.00" y1="771.10" x2="318.00" y2="774.10" stroke="#231f20" stroke-width="1"/>
<line x1="336.30" y1="771.10" x2="336.30" y2="774.10" stroke="#231f20" stroke-width="1"/>
<line x1="260.10" y1="707.50" x2="280.60" y2="707.50" stroke="#2a2a2a" stroke-width="1.15"/>
<polygon points="264.28,701.60 264.89,703.05 266.46,703.19 265.27,704.22 265.63,705.76 264.28,704.95 262.92,705.76 263.28,704.22 262.09,703.19 263.66,703.05" fill="#1a1a1a"/>
<polygon points="268.33,701.60 268.94,703.05 270.51,703.19 269.32,704.22 269.68,705.76 268.33,704.95 266.97,705.76 267.33,704.22 266.14,703.19 267.71,703.05" fill="#1a1a1a"/>
<polygon points="272.38,701.60 272.99,703.05 274.56,703.19 273.37,704.22 273.73,705.76 272.38,704.95 271.02,705.76 271.38,704.22 270.19,703.19 271.76,703.05" fill="#1a1a1a"/>
<polygon points="276.43,701.60 277.04,703.05 278.61,703.19 277.42,704.22 277.78,705.76 276.43,704.95 275.07,705.76 275.43,704.22 274.24,703.19 275.81,703.05" fill="#1a1a1a"/>
<line x1="260.10" y1="697.50" x2="306.00" y2="697.50" stroke="#2a2a2a" stroke-width="1.15"/>
<polygon points="276.98,691.60 277.59,693.05 279.16,693.19 277.97,694.22 278.33,695.76 276.98,694.95 275.62,695.76 275.98,694.22 274.79,693.19 276.36,693.05" fill="#1a1a1a"/>
<polygon points="281.03,691.60 281.64,693.05 283.21,693.19 282.02,694.22 282.38,695.76 281.03,694.95 279.67,695.76 280.03,694.22 278.84,693.19 280.41,693.05" fill="#1a1a1a"/>
<polygon points="285.08,691.60 285.69,693.05 287.26,693.19 286.07,694.22 286.43,695.76 285.08,694.95 283.72,695.76 284.08,694.22 282.89,693.19 284.46,693.05" fill="#1a1a1a"/>
<polygon points="289.12,691.60 289.74,693.05 291.31,693.19 290.12,694.22 290.48,695.76 289.12,694.95 287.77,695.76 288.13,694.22 286.94,693.19 288.51,693.05" fill="#1a1a1a"/>
<line x1="260.10" y1="687.50" x2="315.10" y2="687.50" stroke="#2a2a2a" stroke-width="1.15"/>
<polygon points="283.55,681.60 284.17,683.05 285.74,683.19 284.55,684.22 284.90,685.76 283.55,684.95 282.20,685.76 282.55,684.22 281.36,683.19 282.93,683.05" fill="#1a1a1a"/>
<polygon points="287.60,681.60 288.22,683.05 289.79,683.19 288.60,684.22 288.95,685.76 287.60,684.95 286.25,685.76 286.60,684.22 285.41,683.19 286.98,683.05" fill="#1a1a1a"/>
<polygon points="291.65,681.60 292.27,683.05 293.84,683.19 292.65,684.22 293.00,685.76 291.65,684.95 290.30,685.76 290.65,684.22 289.46,683.19 291.03,683.05" fill="#1a1a1a"/>
<line x1="260.10" y1="678.50" x2="333.10" y2="678.50" stroke="#2a2a2a" stroke-width="1.15"/>
<polygon points="292.55,672.60 293.17,674.05 294.74,674.19 293.55,675.22 293.90,676.76 292.55,675.95 291.20,676.76 291.55,675.22 290.36,674.19 291.93,674.05" fill="#1a1a1a"/>
<polygon points="296.60,672.60 297.22,674.05 298.79,674.19 297.60,675.22 297.95,676.76 296.60,675.95 295.25,676.76 295.60,675.22 294.41,674.19 295.98,674.05" fill="#1a1a1a"/>
<polygon points="300.65,672.60 301.27,674.05 302.84,674.19 301.65,675.22 302.00,676.76 300.65,675.95 299.30,676.76 299.65,675.22 298.46,674.19 300.03,674.05" fill="#1a1a1a"/>
<line x1="316.60" y1="692.50" x2="337.70" y2="692.50" stroke="#2a2a2a" stroke-width="1.15"/>
<polygon points="321.07,686.60 321.69,688.05 323.26,688.19 322.07,689.22 322.43,690.76 321.07,689.95 319.72,690.76 320.08,689.22 318.89,688.19 320.46,688.05" fill="#1a1a1a"/>
<polygon points="325.12,686.60 325.74,688.05 327.31,688.19 326.12,689.22 326.48,690.76 325.12,689.95 323.77,690.76 324.13,689.22 322.94,688.19 324.51,688.05" fill="#1a1a1a"/>
<polygon points="329.18,686.60 329.79,688.05 331.36,688.19 330.17,689.22 330.53,690.76 329.18,689.95 327.82,690.76 328.18,689.22 326.99,688.19 328.56,688.05" fill="#1a1a1a"/>
<polygon points="333.22,686.60 333.84,688.05 335.41,688.19 334.22,689.22 334.58,690.76 333.22,689.95 331.87,690.76 332.23,689.22 331.04,688.19 332.61,688.05" fill="#1a1a1a"/>
<line x1="298.20" y1="721.50" x2="318.70" y2="721.50" stroke="#2a2a2a" stroke-width="1.15"/>
<polygon points="304.40,715.60 305.02,717.05 306.59,717.19 305.40,718.22 305.75,719.76 304.40,718.95 303.05,719.76 303.40,718.22 302.21,717.19 303.78,717.05" fill="#1a1a1a"/>
<polygon points="308.45,715.60 309.07,717.05 310.64,717.19 309.45,718.22 309.80,719.76 308.45,718.95 307.10,719.76 307.45,718.22 306.26,717.19 307.83,717.05" fill="#1a1a1a"/>
<polygon points="312.50,715.60 313.12,717.05 314.69,717.19 313.50,718.22 313.85,719.76 312.50,718.95 311.15,719.76 311.50,718.22 310.31,717.19 311.88,717.05" fill="#1a1a1a"/>
<line x1="280.20" y1="736.50" x2="300.90" y2="736.50" stroke="#2a2a2a" stroke-width="1.15"/>
<polygon points="286.50,730.60 287.12,732.05 288.69,732.19 287.50,733.22 287.85,734.76 286.50,733.95 285.15,734.76 285.50,733.22 284.31,732.19 285.88,732.05" fill="#1a1a1a"/>
<polygon points="290.55,730.60 291.17,732.05 292.74,732.19 291.55,733.22 291.90,734.76 290.55,733.95 289.20,734.76 289.55,733.22 288.36,732.19 289.93,732.05" fill="#1a1a1a"/>
<polygon points="294.60,730.60 295.22,732.05 296.79,732.19 295.60,733.22 295.95,734.76 294.60,733.95 293.25,734.76 293.60,733.22 292.41,732.19 293.98,732.05" fill="#1a1a1a"/>
<g transform="translate(266.90,781.70) rotate(-45)"><text x="0" y="0" font-size="9.5" fill="#231f20" stroke="#231f20" stroke-width="0.3" text-anchor="end" textLength="35" lengthAdjust="spacingAndGlyphs">Baseline</text></g>
<g transform="translate(285.10,781.70) rotate(-45)"><text x="0" y="0" font-size="9.5" fill="#231f20" stroke="#231f20" stroke-width="0.3" text-anchor="end" textLength="33" lengthAdjust="spacingAndGlyphs">aa-aa-aa</text></g>
<g transform="translate(303.40,781.70) rotate(-45)"><text x="0" y="0" font-size="9.5" fill="#231f20" stroke="#231f20" stroke-width="0.3" text-anchor="end" textLength="33" lengthAdjust="spacingAndGlyphs">cc-aa-aa</text></g>
<g transform="translate(321.60,781.70) rotate(-45)"><text x="0" y="0" font-size="9.5" fill="#231f20" stroke="#231f20" stroke-width="0.3" text-anchor="end" textLength="33" lengthAdjust="spacingAndGlyphs">cc-cc-aa</text></g>
<g transform="translate(339.90,781.70) rotate(-45)"><text x="0" y="0" font-size="9.5" fill="#231f20" stroke="#231f20" stroke-width="0.3" text-anchor="end" textLength="33" lengthAdjust="spacingAndGlyphs">cc-cc-cc</text></g>
<line x1="281.40" y1="808.50" x2="336.30" y2="808.50" stroke="#231f20" stroke-width="1.15"/>
<text x="308.80" y="821.70" font-size="10.2" fill="#231f20" stroke="#231f20" stroke-width="0.3" text-anchor="middle" font-weight="normal" textLength="26" lengthAdjust="spacingAndGlyphs" >ERp46</text>
<text x="0" y="0" font-size="9.6" fill="#231f20" stroke="#231f20" stroke-width="0.3" text-anchor="middle" transform="translate(225.80,728.80) rotate(-90)" textLength="56" lengthAdjust="spacingAndGlyphs">% Aggregation</text>
<rect x="420.10" y="732.80" width="12.00" height="38.30" fill="#e27d90" stroke="none" stroke-width="1" />
<rect x="438.60" y="764.10" width="12.00" height="7.00" fill="#86a9cc" stroke="none" stroke-width="1" />
<rect x="457.10" y="756.10" width="12.00" height="15.00" fill="#96d8a0" stroke="none" stroke-width="1" />
<rect x="475.60" y="746.20" width="12.00" height="24.90" fill="#a78cbd" stroke="none" stroke-width="1" />
<rect x="494.10" y="717.60" width="12.00" height="53.50" fill="#fcc27e" stroke="none" stroke-width="1" />
<line x1="426.10" y1="731.45" x2="426.10" y2="734.15" stroke="#c8102e" stroke-width="1.1"/>
<line x1="423.70" y1="731.45" x2="428.50" y2="731.45" stroke="#c8102e" stroke-width="1.1"/>
<line x1="423.70" y1="734.15" x2="428.50" y2="734.15" stroke="#c8102e" stroke-width="1.1"/>
<circle cx="422.14" cy="730.70" r="1.2" fill="#c8102e"/>
<circle cx="422.14" cy="735.50" r="1.2" fill="#c8102e"/>
<circle cx="426.10" cy="728.90" r="1.2" fill="#c8102e"/>
<circle cx="430.06" cy="731.90" r="1.2" fill="#c8102e"/>
<circle cx="430.06" cy="735.20" r="1.2" fill="#c8102e"/>
<circle cx="427.06" cy="733.40" r="1.2" fill="#c8102e"/>
<line x1="444.60" y1="763.20" x2="444.60" y2="765.00" stroke="#123f7a" stroke-width="1.1"/>
<line x1="442.20" y1="763.20" x2="447.00" y2="763.20" stroke="#123f7a" stroke-width="1.1"/>
<line x1="442.20" y1="765.00" x2="447.00" y2="765.00" stroke="#123f7a" stroke-width="1.1"/>
<circle cx="440.64" cy="762.70" r="1.2" fill="#123f7a"/>
<circle cx="440.64" cy="765.90" r="1.2" fill="#123f7a"/>
<circle cx="444.60" cy="761.50" r="1.2" fill="#123f7a"/>
<circle cx="448.56" cy="763.50" r="1.2" fill="#123f7a"/>
<circle cx="448.56" cy="765.70" r="1.2" fill="#123f7a"/>
<circle cx="445.56" cy="764.50" r="1.2" fill="#123f7a"/>
<line x1="463.10" y1="755.20" x2="463.10" y2="757.00" stroke="#2aa040" stroke-width="1.1"/>
<line x1="460.70" y1="755.20" x2="465.50" y2="755.20" stroke="#2aa040" stroke-width="1.1"/>
<line x1="460.70" y1="757.00" x2="465.50" y2="757.00" stroke="#2aa040" stroke-width="1.1"/>
<circle cx="459.14" cy="754.70" r="1.2" fill="#2aa040"/>
<circle cx="459.14" cy="757.90" r="1.2" fill="#2aa040"/>
<circle cx="463.10" cy="753.50" r="1.2" fill="#2aa040"/>
<circle cx="467.06" cy="755.50" r="1.2" fill="#2aa040"/>
<circle cx="467.06" cy="757.70" r="1.2" fill="#2aa040"/>
<circle cx="464.06" cy="756.50" r="1.2" fill="#2aa040"/>
<line x1="481.60" y1="744.85" x2="481.60" y2="747.55" stroke="#4a1a70" stroke-width="1.1"/>
<line x1="479.20" y1="744.85" x2="484.00" y2="744.85" stroke="#4a1a70" stroke-width="1.1"/>
<line x1="479.20" y1="747.55" x2="484.00" y2="747.55" stroke="#4a1a70" stroke-width="1.1"/>
<circle cx="477.64" cy="744.10" r="1.2" fill="#4a1a70"/>
<circle cx="477.64" cy="748.90" r="1.2" fill="#4a1a70"/>
<circle cx="481.60" cy="742.30" r="1.2" fill="#4a1a70"/>
<circle cx="485.56" cy="745.30" r="1.2" fill="#4a1a70"/>
<circle cx="485.56" cy="748.60" r="1.2" fill="#4a1a70"/>
<circle cx="482.56" cy="746.80" r="1.2" fill="#4a1a70"/>
<line x1="500.10" y1="714.00" x2="500.10" y2="721.20" stroke="#f59a20" stroke-width="1.1"/>
<line x1="497.70" y1="714.00" x2="502.50" y2="714.00" stroke="#f59a20" stroke-width="1.1"/>
<line x1="497.70" y1="721.20" x2="502.50" y2="721.20" stroke="#f59a20" stroke-width="1.1"/>
<circle cx="496.14" cy="712.00" r="1.2" fill="#f59a20"/>
<circle cx="496.14" cy="724.80" r="1.2" fill="#f59a20"/>
<circle cx="500.10" cy="707.20" r="1.2" fill="#f59a20"/>
<circle cx="504.06" cy="715.20" r="1.2" fill="#f59a20"/>
<circle cx="504.06" cy="724.00" r="1.2" fill="#f59a20"/>
<circle cx="501.06" cy="719.20" r="1.2" fill="#f59a20"/>
<line x1="415.90" y1="686.50" x2="415.90" y2="771.70" stroke="#231f20" stroke-width="1.4"/>
<line x1="415.20" y1="771.10" x2="509.00" y2="771.10" stroke="#231f20" stroke-width="1.4"/>
<line x1="412.40" y1="771.10" x2="415.90" y2="771.10" stroke="#231f20" stroke-width="1"/>
<text x="409.00" y="774.40" font-size="9.5" fill="#231f20" stroke="#231f20" stroke-width="0.3" text-anchor="end" font-weight="normal" textLength="13.4" lengthAdjust="spacingAndGlyphs" >0.0</text>
<line x1="412.40" y1="751.30" x2="415.90" y2="751.30" stroke="#231f20" stroke-width="1"/>
<text x="409.00" y="754.60" font-size="9.5" fill="#231f20" stroke="#231f20" stroke-width="0.3" text-anchor="end" font-weight="normal" textLength="13.4" lengthAdjust="spacingAndGlyphs" >0.5</text>
<line x1="412.40" y1="731.50" x2="415.90" y2="731.50" stroke="#231f20" stroke-width="1"/>
<text x="409.00" y="734.80" font-size="9.5" fill="#231f20" stroke="#231f20" stroke-width="0.3" text-anchor="end" font-weight="normal" textLength="13.4" lengthAdjust="spacingAndGlyphs" >1.0</text>
<line x1="412.40" y1="711.70" x2="415.90" y2="711.70" stroke="#231f20" stroke-width="1"/>
<text x="409.00" y="715.00" font-size="9.5" fill="#231f20" stroke="#231f20" stroke-width="0.3" text-anchor="end" font-weight="normal" textLength="13.4" lengthAdjust="spacingAndGlyphs" >1.5</text>
<line x1="412.40" y1="691.90" x2="415.90" y2="691.90" stroke="#231f20" stroke-width="1"/>
<text x="409.00" y="695.20" font-size="9.5" fill="#231f20" stroke="#231f20" stroke-width="0.3" text-anchor="end" font-weight="normal" textLength="13.4" lengthAdjust="spacingAndGlyphs" >2.0</text>
<line x1="426.10" y1="771.10" x2="426.10" y2="774.10" stroke="#231f20" stroke-width="1"/>
<line x1="444.60" y1="771.10" x2="444.60" y2="774.10" stroke="#231f20" stroke-width="1"/>
<line x1="463.10" y1="771.10" x2="463.10" y2="774.10" stroke="#231f20" stroke-width="1"/>
<line x1="481.60" y1="771.10" x2="481.60" y2="774.10" stroke="#231f20" stroke-width="1"/>
<line x1="500.10" y1="771.10" x2="500.10" y2="774.10" stroke="#231f20" stroke-width="1"/>
<line x1="424.30" y1="723.50" x2="445.50" y2="723.50" stroke="#2a2a2a" stroke-width="1.15"/>
<polygon points="428.82,717.60 429.44,719.05 431.01,719.19 429.82,720.22 430.18,721.76 428.82,720.95 427.47,721.76 427.83,720.22 426.64,719.19 428.21,719.05" fill="#1a1a1a"/>
<polygon points="432.88,717.60 433.49,719.05 435.06,719.19 433.87,720.22 434.23,721.76 432.88,720.95 431.52,721.76 431.88,720.22 430.69,719.19 432.26,719.05" fill="#1a1a1a"/>
<polygon points="436.93,717.60 437.54,719.05 439.11,719.19 437.92,720.22 438.28,721.76 436.93,720.95 435.57,721.76 435.93,720.22 434.74,719.19 436.31,719.05" fill="#1a1a1a"/>
<polygon points="440.97,717.60 441.59,719.05 443.16,719.19 441.97,720.22 442.33,721.76 440.97,720.95 439.62,721.76 439.98,720.22 438.79,719.19 440.36,719.05" fill="#1a1a1a"/>
<line x1="424.30" y1="713.50" x2="467.70" y2="713.50" stroke="#2a2a2a" stroke-width="1.15"/>
<polygon points="439.93,707.60 440.54,709.05 442.11,709.19 440.92,710.22 441.28,711.76 439.93,710.95 438.57,711.76 438.93,710.22 437.74,709.19 439.31,709.05" fill="#1a1a1a"/>
<polygon points="443.98,707.60 444.59,709.05 446.16,709.19 444.97,710.22 445.33,711.76 443.98,710.95 442.62,711.76 442.98,710.22 441.79,709.19 443.36,709.05" fill="#1a1a1a"/>
<polygon points="448.03,707.60 448.64,709.05 450.21,709.19 449.02,710.22 449.38,711.76 448.03,710.95 446.67,711.76 447.03,710.22 445.84,709.19 447.41,709.05" fill="#1a1a1a"/>
<polygon points="452.07,707.60 452.69,709.05 454.26,709.19 453.07,710.22 453.43,711.76 452.07,710.95 450.72,711.76 451.08,710.22 449.89,709.19 451.46,709.05" fill="#1a1a1a"/>
<line x1="424.30" y1="703.50" x2="483.60" y2="703.50" stroke="#2a2a2a" stroke-width="1.15"/>
<polygon points="451.93,697.60 452.54,699.05 454.11,699.19 452.92,700.22 453.28,701.76 451.93,700.95 450.57,701.76 450.93,700.22 449.74,699.19 451.31,699.05" fill="#1a1a1a"/>
<polygon points="455.98,697.60 456.59,699.05 458.16,699.19 456.97,700.22 457.33,701.76 455.98,700.95 454.62,701.76 454.98,700.22 453.79,699.19 455.36,699.05" fill="#1a1a1a"/>
<line x1="424.30" y1="682.50" x2="501.10" y2="682.50" stroke="#2a2a2a" stroke-width="1.15"/>
<polygon points="458.65,676.60 459.27,678.05 460.84,678.19 459.65,679.22 460.00,680.76 458.65,679.95 457.30,680.76 457.65,679.22 456.46,678.19 458.03,678.05" fill="#1a1a1a"/>
<polygon points="462.70,676.60 463.32,678.05 464.89,678.19 463.70,679.22 464.05,680.76 462.70,679.95 461.35,680.76 461.70,679.22 460.51,678.19 462.08,678.05" fill="#1a1a1a"/>
<polygon points="466.75,676.60 467.37,678.05 468.94,678.19 467.75,679.22 468.10,680.76 466.75,679.95 465.40,680.76 465.75,679.22 464.56,678.19 466.13,678.05" fill="#1a1a1a"/>
<line x1="482.00" y1="692.50" x2="503.20" y2="692.50" stroke="#2a2a2a" stroke-width="1.15"/>
<polygon points="486.53,686.60 487.14,688.05 488.71,688.19 487.52,689.22 487.88,690.76 486.53,689.95 485.17,690.76 485.53,689.22 484.34,688.19 485.91,688.05" fill="#1a1a1a"/>
<polygon points="490.58,686.60 491.19,688.05 492.76,688.19 491.57,689.22 491.93,690.76 490.58,689.95 489.22,690.76 489.58,689.22 488.39,688.19 489.96,688.05" fill="#1a1a1a"/>
<polygon points="494.63,686.60 495.24,688.05 496.81,688.19 495.62,689.22 495.98,690.76 494.63,689.95 493.27,690.76 493.63,689.22 492.44,688.19 494.01,688.05" fill="#1a1a1a"/>
<polygon points="498.68,686.60 499.29,688.05 500.86,688.19 499.67,689.22 500.03,690.76 498.68,689.95 497.32,690.76 497.68,689.22 496.49,688.19 498.06,688.05" fill="#1a1a1a"/>
<line x1="461.30" y1="737.50" x2="482.50" y2="737.50" stroke="#2a2a2a" stroke-width="1.15"/>
<polygon points="471.90,731.60 472.52,733.05 474.09,733.19 472.90,734.22 473.25,735.76 471.90,734.95 470.55,735.76 470.90,734.22 469.71,733.19 471.28,733.05" fill="#1a1a1a"/>
<line x1="442.30" y1="750.50" x2="463.90" y2="750.50" stroke="#2a2a2a" stroke-width="1.15"/>
<polygon points="453.10,744.60 453.72,746.05 455.29,746.19 454.10,747.22 454.45,748.76 453.10,747.95 451.75,748.76 452.10,747.22 450.91,746.19 452.48,746.05" fill="#1a1a1a"/>
<g transform="translate(429.70,781.70) rotate(-45)"><text x="0" y="0" font-size="9.5" fill="#231f20" stroke="#231f20" stroke-width="0.3" text-anchor="end" textLength="35" lengthAdjust="spacingAndGlyphs">Baseline</text></g>
<g transform="translate(448.20,781.70) rotate(-45)"><text x="0" y="0" font-size="9.5" fill="#231f20" stroke="#231f20" stroke-width="0.3" text-anchor="end" textLength="33" lengthAdjust="spacingAndGlyphs">aa-aa-aa</text></g>
<g transform="translate(466.70,781.70) rotate(-45)"><text x="0" y="0" font-size="9.5" fill="#231f20" stroke="#231f20" stroke-width="0.3" text-anchor="end" textLength="33" lengthAdjust="spacingAndGlyphs">cc-aa-aa</text></g>
<g transform="translate(485.20,781.70) rotate(-45)"><text x="0" y="0" font-size="9.5" fill="#231f20" stroke="#231f20" stroke-width="0.3" text-anchor="end" textLength="33" lengthAdjust="spacingAndGlyphs">cc-cc-aa</text></g>
<g transform="translate(503.70,781.70) rotate(-45)"><text x="0" y="0" font-size="9.5" fill="#231f20" stroke="#231f20" stroke-width="0.3" text-anchor="end" textLength="33" lengthAdjust="spacingAndGlyphs">cc-cc-cc</text></g>
<line x1="446.20" y1="808.50" x2="500.60" y2="808.50" stroke="#231f20" stroke-width="1.15"/>
<text x="473.80" y="821.70" font-size="10.2" fill="#231f20" stroke="#231f20" stroke-width="0.3" text-anchor="middle" font-weight="normal" textLength="26" lengthAdjust="spacingAndGlyphs" >ERp46</text>
<text x="0" y="0" font-size="9.6" fill="#231f20" stroke="#231f20" stroke-width="0.3" text-anchor="middle" transform="translate(389.30,728.80) rotate(-90)" textLength="89" lengthAdjust="spacingAndGlyphs">ATP secretion (nmoles)</text>
</svg>
</body></html>
